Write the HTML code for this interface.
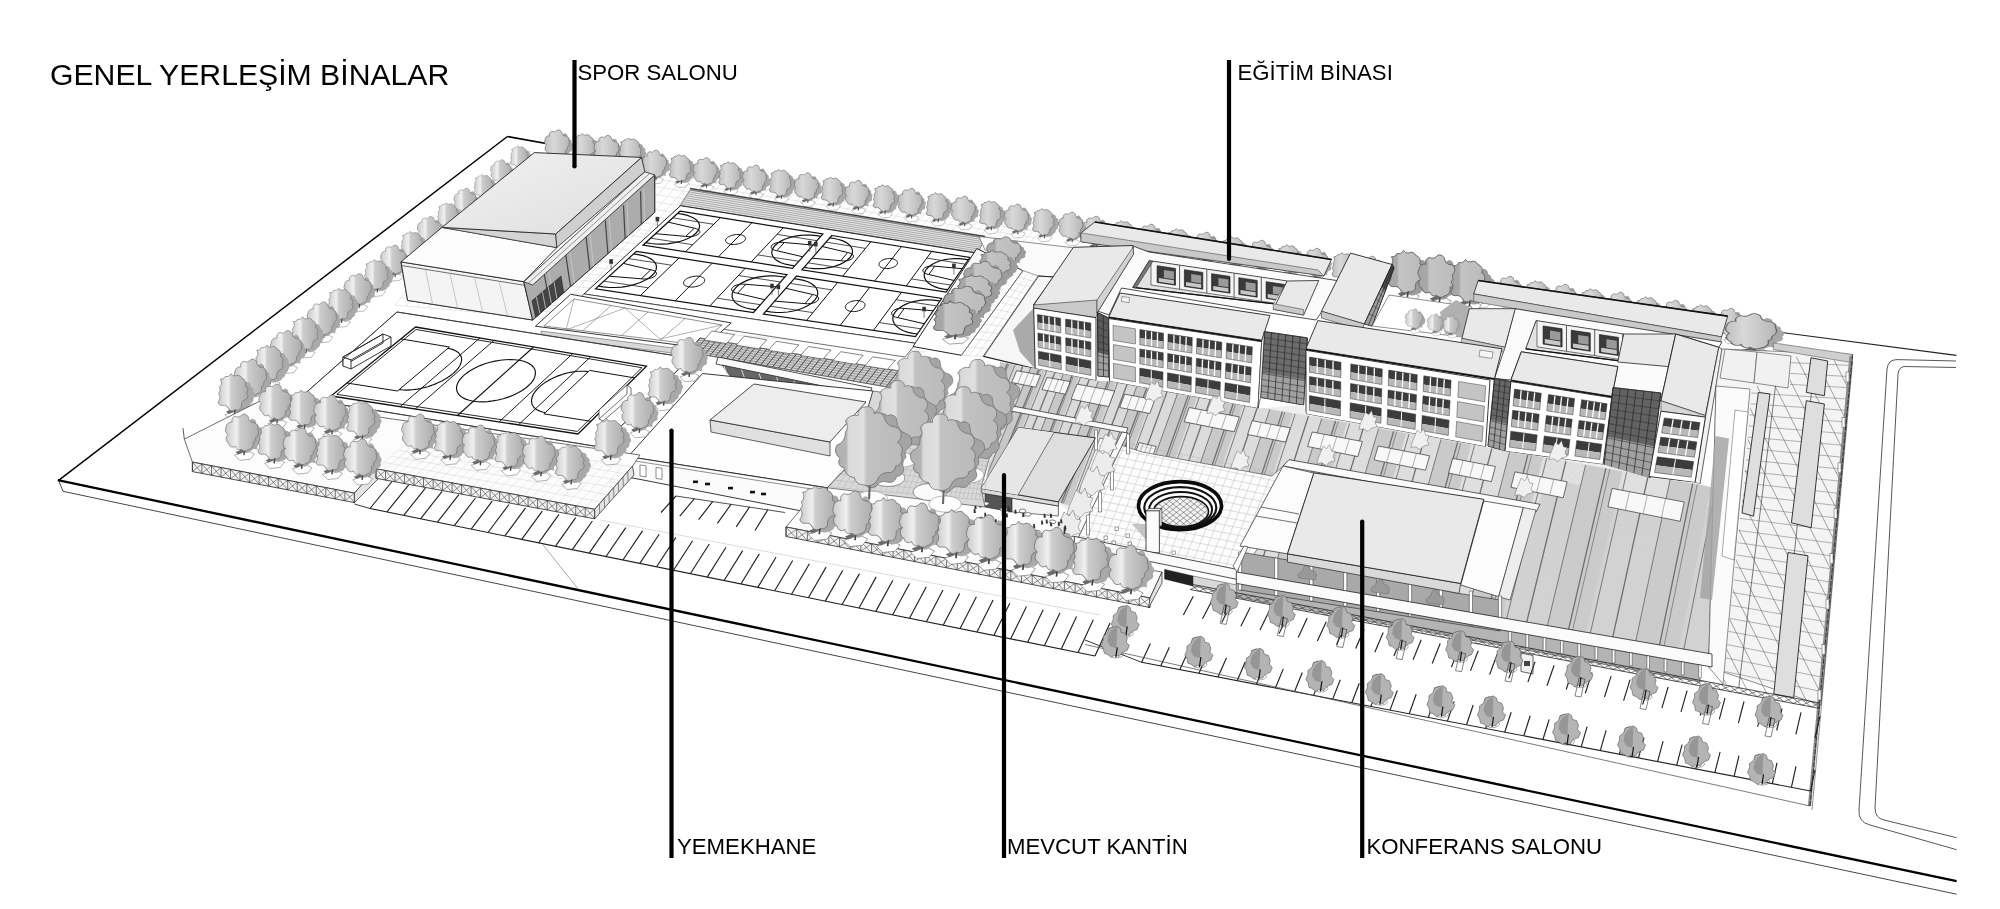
<!DOCTYPE html>
<html lang="tr"><head><meta charset="utf-8"><title>Genel Yerleşim Binalar</title>
<style>
html,body{margin:0;padding:0;background:#fff;}
body{width:2000px;height:909px;overflow:hidden;position:relative;font-family:"Liberation Sans",sans-serif;}
svg{position:absolute;left:0;top:0;display:block;will-change:transform}
svg text{font-family:"Liberation Sans",sans-serif;fill:#000}
</style></head><body>
<svg width="2000" height="909" viewBox="0 0 2000 909">

<defs>
<linearGradient id="tg" x1="0" x2="1" y1="0" y2="0">
<stop offset="0" stop-color="#cacaca"/><stop offset="0.34" stop-color="#f0f0f0"/><stop offset="0.44" stop-color="#cdcdcd"/><stop offset="1" stop-color="#adadad"/>
</linearGradient>
<linearGradient id="tg2" x1="0" x2="1" y1="0" y2="0">
<stop offset="0" stop-color="#a8a8a8"/><stop offset="0.4" stop-color="#d8d8d8"/><stop offset="0.5" stop-color="#b0b0b0"/><stop offset="1" stop-color="#909090"/>
</linearGradient>
<linearGradient id="tgd" x1="0" x2="1" y1="0" y2="0"><stop offset="0" stop-color="#c0c0c0"/><stop offset="0.35" stop-color="#d8d8d8"/><stop offset="0.6" stop-color="#cccccc"/><stop offset="1" stop-color="#b6b6b6"/></linearGradient>
<linearGradient id="tgm" x1="0" x2="1" y1="0" y2="0"><stop offset="0" stop-color="#a4a4a4"/><stop offset="0.24" stop-color="#a8a8a8"/><stop offset="0.3" stop-color="#c4c4c4"/><stop offset="1" stop-color="#bababa"/></linearGradient>
<linearGradient id="tgb" x1="0" x2="1" y1="0" y2="0"><stop offset="0" stop-color="#b0b0b0"/><stop offset="0.16" stop-color="#b4b4b4"/><stop offset="0.2" stop-color="#dadada"/><stop offset="0.42" stop-color="#e0e0e0"/><stop offset="0.47" stop-color="#c2c2c2"/><stop offset="1" stop-color="#bababa"/></linearGradient>
<linearGradient id="roofg" x1="0" x2="1" y1="0" y2="1">
<stop offset="0" stop-color="#f2f2f2"/><stop offset="1" stop-color="#dedede"/>
</linearGradient>
<g id="tree">
<path d="M-9,1 l5,5 l10,-1 l4,-5 l-6,-3 z" fill="#fff" stroke="#666" stroke-width="0.5"/>
<path d="M17.6,-15.2 A3.0,3.0 0 0 1 15.5,-10.6 A5.4,5.4 0 0 0 13.1,-4.3 A5.6,5.6 0 0 0 6.3,-2.8 A4.9,4.9 0 0 1 0.1,-2.0 A3.4,3.4 0 0 1 -3.8,-6.5 A5.4,5.4 0 0 0 -9.1,-10.7 A4.3,4.3 0 0 1 -9.8,-17.5 A3.6,3.6 0 0 1 -8.0,-22.3 A4.4,4.4 0 0 0 -8.2,-27.8 A3.4,3.4 0 0 1 -3.1,-28.8 A4.7,4.7 0 0 0 0.5,-33.5 A5.8,5.8 0 0 0 7.8,-34.1 A3.8,3.8 0 0 1 11.5,-29.1 A3.3,3.3 0 0 1 14.3,-26.1 A3.2,3.2 0 0 1 16.7,-21.9 A4.4,4.4 0 0 1 17.6,-15.2Z" fill="#a9a9a9"/>
<path d="M-8,-2 l6,-2.5 l2.5,2 l-6,2.8z" fill="#6a6a6a"/><path d="M0,1 L1,-7" stroke="#444" stroke-width="1.4"/>
<path d="M11.1,-15.7 A3.1,3.1 0 0 1 8.8,-11.5 A5.6,5.6 0 0 1 4.1,-4.2 A4.6,4.6 0 0 1 -2.4,-4.7 A3.7,3.7 0 0 1 -8.0,-7.6 A3.9,3.9 0 0 1 -14.4,-10.2 A5.2,5.2 0 0 1 -15.4,-18.7 A5.7,5.7 0 0 1 -17.1,-26.1 A4.9,4.9 0 0 1 -11.3,-30.7 A4.3,4.3 0 0 1 -8.6,-36.3 A6.0,6.0 0 0 0 -1.3,-38.2 A4.4,4.4 0 0 1 4.5,-34.2 A5.4,5.4 0 0 0 9.9,-30.3 A4.9,4.9 0 0 1 13.4,-24.2 A6.4,6.4 0 0 1 11.1,-15.7Z" fill="url(#tg)" stroke="#6a6a6a" stroke-width="0.6"/>
</g>
<g id="treeb">
<path d="M-9,1 l5,5 l10,-1 l4,-5 l-6,-3 z" fill="#fff" stroke="#666" stroke-width="0.5"/>
<path d="M18.1,-15.0 A4.9,4.9 0 0 1 15.1,-9.7 A4.2,4.2 0 0 1 12.2,-5.0 A4.6,4.6 0 0 1 7.5,-1.7 A5.5,5.5 0 0 1 -0.4,-2.4 A3.5,3.5 0 0 1 -5.9,-5.2 A5.0,5.0 0 0 1 -7.8,-11.9 A4.5,4.5 0 0 1 -11.3,-17.3 A6.9,6.9 0 0 0 -8.9,-25.6 A3.3,3.3 0 0 1 -5.3,-29.8 A2.6,2.6 0 0 1 -1.1,-30.9 A5.4,5.4 0 0 1 4.8,-34.7 A6.6,6.6 0 0 0 11.7,-30.0 A3.6,3.6 0 0 1 15.5,-25.8 A4.1,4.1 0 0 1 18.2,-20.5 A3.3,3.3 0 0 1 18.1,-15.0Z" fill="#a9a9a9"/>
<path d="M-8,-2 l6,-2.5 l2.5,2 l-6,2.8z" fill="#6a6a6a"/><path d="M0,1 L1,-7" stroke="#444" stroke-width="1.4"/>
<path d="M10.9,-13.6 A5.8,5.8 0 0 0 6.7,-7.7 A4.1,4.1 0 0 1 0.7,-3.8 A3.8,3.8 0 0 1 -5.2,-4.2 A5.9,5.9 0 0 0 -11.6,-7.8 A3.2,3.2 0 0 1 -15.4,-11.4 A6.2,6.2 0 0 0 -15.1,-19.1 A4.8,4.8 0 0 0 -14.3,-25.0 A6.2,6.2 0 0 0 -13.3,-32.8 A4.2,4.2 0 0 0 -8.8,-35.4 A4.8,4.8 0 0 0 -3.3,-38.0 A4.0,4.0 0 0 0 1.2,-35.9 A3.9,3.9 0 0 1 6.9,-33.9 A5.3,5.3 0 0 1 10.3,-26.6 A4.1,4.1 0 0 1 11.7,-19.9 A4.0,4.0 0 0 1 10.9,-13.6Z" fill="url(#tg)" stroke="#6a6a6a" stroke-width="0.6"/>
</g>
<g id="dtree">
<path d="M-9,1 l5,5 l10,-1 l4,-5 l-6,-3 z" fill="#fff" stroke="#666" stroke-width="0.5"/>
<path d="M17.6,-15.2 A3.0,3.0 0 0 1 15.5,-10.6 A5.4,5.4 0 0 0 13.1,-4.3 A5.6,5.6 0 0 0 6.3,-2.8 A4.9,4.9 0 0 1 0.1,-2.0 A3.4,3.4 0 0 1 -3.8,-6.5 A5.4,5.4 0 0 0 -9.1,-10.7 A4.3,4.3 0 0 1 -9.8,-17.5 A3.6,3.6 0 0 1 -8.0,-22.3 A4.4,4.4 0 0 0 -8.2,-27.8 A3.4,3.4 0 0 1 -3.1,-28.8 A4.7,4.7 0 0 0 0.5,-33.5 A5.8,5.8 0 0 0 7.8,-34.1 A3.8,3.8 0 0 1 11.5,-29.1 A3.3,3.3 0 0 1 14.3,-26.1 A3.2,3.2 0 0 1 16.7,-21.9 A4.4,4.4 0 0 1 17.6,-15.2Z" fill="#a8a8a8"/>
<path d="M-8,-2 l6,-2.5 l2.5,2 l-6,2.8z" fill="#6a6a6a"/><path d="M0,1 L1,-7" stroke="#444" stroke-width="1.4"/>
<path d="M11.1,-15.7 A3.1,3.1 0 0 1 8.8,-11.5 A5.6,5.6 0 0 1 4.1,-4.2 A4.6,4.6 0 0 1 -2.4,-4.7 A3.7,3.7 0 0 1 -8.0,-7.6 A3.9,3.9 0 0 1 -14.4,-10.2 A5.2,5.2 0 0 1 -15.4,-18.7 A5.7,5.7 0 0 1 -17.1,-26.1 A4.9,4.9 0 0 1 -11.3,-30.7 A4.3,4.3 0 0 1 -8.6,-36.3 A6.0,6.0 0 0 0 -1.3,-38.2 A4.4,4.4 0 0 1 4.5,-34.2 A5.4,5.4 0 0 0 9.9,-30.3 A4.9,4.9 0 0 1 13.4,-24.2 A6.4,6.4 0 0 1 11.1,-15.7Z" fill="url(#tgd)" stroke="#666" stroke-width="0.8"/>
</g>
<g id="dtreeb">
<path d="M-9,1 l5,5 l10,-1 l4,-5 l-6,-3 z" fill="#fff" stroke="#666" stroke-width="0.5"/>
<path d="M18.1,-15.0 A4.9,4.9 0 0 1 15.1,-9.7 A4.2,4.2 0 0 1 12.2,-5.0 A4.6,4.6 0 0 1 7.5,-1.7 A5.5,5.5 0 0 1 -0.4,-2.4 A3.5,3.5 0 0 1 -5.9,-5.2 A5.0,5.0 0 0 1 -7.8,-11.9 A4.5,4.5 0 0 1 -11.3,-17.3 A6.9,6.9 0 0 0 -8.9,-25.6 A3.3,3.3 0 0 1 -5.3,-29.8 A2.6,2.6 0 0 1 -1.1,-30.9 A5.4,5.4 0 0 1 4.8,-34.7 A6.6,6.6 0 0 0 11.7,-30.0 A3.6,3.6 0 0 1 15.5,-25.8 A4.1,4.1 0 0 1 18.2,-20.5 A3.3,3.3 0 0 1 18.1,-15.0Z" fill="#a8a8a8"/>
<path d="M-8,-2 l6,-2.5 l2.5,2 l-6,2.8z" fill="#6a6a6a"/><path d="M0,1 L1,-7" stroke="#444" stroke-width="1.4"/>
<path d="M10.9,-13.6 A5.8,5.8 0 0 0 6.7,-7.7 A4.1,4.1 0 0 1 0.7,-3.8 A3.8,3.8 0 0 1 -5.2,-4.2 A5.9,5.9 0 0 0 -11.6,-7.8 A3.2,3.2 0 0 1 -15.4,-11.4 A6.2,6.2 0 0 0 -15.1,-19.1 A4.8,4.8 0 0 0 -14.3,-25.0 A6.2,6.2 0 0 0 -13.3,-32.8 A4.2,4.2 0 0 0 -8.8,-35.4 A4.8,4.8 0 0 0 -3.3,-38.0 A4.0,4.0 0 0 0 1.2,-35.9 A3.9,3.9 0 0 1 6.9,-33.9 A5.3,5.3 0 0 1 10.3,-26.6 A4.1,4.1 0 0 1 11.7,-19.9 A4.0,4.0 0 0 1 10.9,-13.6Z" fill="url(#tgd)" stroke="#666" stroke-width="0.8"/>
</g>
<g id="mtree">
<path d="M-9,1 l5,5 l10,-1 l4,-5 l-6,-3 z" fill="#fff" stroke="#666" stroke-width="0.5"/>
<path d="M17.6,-15.2 A3.0,3.0 0 0 1 15.5,-10.6 A5.4,5.4 0 0 0 13.1,-4.3 A5.6,5.6 0 0 0 6.3,-2.8 A4.9,4.9 0 0 1 0.1,-2.0 A3.4,3.4 0 0 1 -3.8,-6.5 A5.4,5.4 0 0 0 -9.1,-10.7 A4.3,4.3 0 0 1 -9.8,-17.5 A3.6,3.6 0 0 1 -8.0,-22.3 A4.4,4.4 0 0 0 -8.2,-27.8 A3.4,3.4 0 0 1 -3.1,-28.8 A4.7,4.7 0 0 0 0.5,-33.5 A5.8,5.8 0 0 0 7.8,-34.1 A3.8,3.8 0 0 1 11.5,-29.1 A3.3,3.3 0 0 1 14.3,-26.1 A3.2,3.2 0 0 1 16.7,-21.9 A4.4,4.4 0 0 1 17.6,-15.2Z" fill="#9c9c9c"/>
<path d="M-8,-2 l6,-2.5 l2.5,2 l-6,2.8z" fill="#6a6a6a"/><path d="M0,1 L1,-7" stroke="#444" stroke-width="1.4"/>
<path d="M11.1,-15.7 A3.1,3.1 0 0 1 8.8,-11.5 A5.6,5.6 0 0 1 4.1,-4.2 A4.6,4.6 0 0 1 -2.4,-4.7 A3.7,3.7 0 0 1 -8.0,-7.6 A3.9,3.9 0 0 1 -14.4,-10.2 A5.2,5.2 0 0 1 -15.4,-18.7 A5.7,5.7 0 0 1 -17.1,-26.1 A4.9,4.9 0 0 1 -11.3,-30.7 A4.3,4.3 0 0 1 -8.6,-36.3 A6.0,6.0 0 0 0 -1.3,-38.2 A4.4,4.4 0 0 1 4.5,-34.2 A5.4,5.4 0 0 0 9.9,-30.3 A4.9,4.9 0 0 1 13.4,-24.2 A6.4,6.4 0 0 1 11.1,-15.7Z" fill="url(#tgm)" stroke="#666" stroke-width="0.8"/>
</g>
<g id="mtreeb">
<path d="M-9,1 l5,5 l10,-1 l4,-5 l-6,-3 z" fill="#fff" stroke="#666" stroke-width="0.5"/>
<path d="M18.1,-15.0 A4.9,4.9 0 0 1 15.1,-9.7 A4.2,4.2 0 0 1 12.2,-5.0 A4.6,4.6 0 0 1 7.5,-1.7 A5.5,5.5 0 0 1 -0.4,-2.4 A3.5,3.5 0 0 1 -5.9,-5.2 A5.0,5.0 0 0 1 -7.8,-11.9 A4.5,4.5 0 0 1 -11.3,-17.3 A6.9,6.9 0 0 0 -8.9,-25.6 A3.3,3.3 0 0 1 -5.3,-29.8 A2.6,2.6 0 0 1 -1.1,-30.9 A5.4,5.4 0 0 1 4.8,-34.7 A6.6,6.6 0 0 0 11.7,-30.0 A3.6,3.6 0 0 1 15.5,-25.8 A4.1,4.1 0 0 1 18.2,-20.5 A3.3,3.3 0 0 1 18.1,-15.0Z" fill="#9c9c9c"/>
<path d="M-8,-2 l6,-2.5 l2.5,2 l-6,2.8z" fill="#6a6a6a"/><path d="M0,1 L1,-7" stroke="#444" stroke-width="1.4"/>
<path d="M10.9,-13.6 A5.8,5.8 0 0 0 6.7,-7.7 A4.1,4.1 0 0 1 0.7,-3.8 A3.8,3.8 0 0 1 -5.2,-4.2 A5.9,5.9 0 0 0 -11.6,-7.8 A3.2,3.2 0 0 1 -15.4,-11.4 A6.2,6.2 0 0 0 -15.1,-19.1 A4.8,4.8 0 0 0 -14.3,-25.0 A6.2,6.2 0 0 0 -13.3,-32.8 A4.2,4.2 0 0 0 -8.8,-35.4 A4.8,4.8 0 0 0 -3.3,-38.0 A4.0,4.0 0 0 0 1.2,-35.9 A3.9,3.9 0 0 1 6.9,-33.9 A5.3,5.3 0 0 1 10.3,-26.6 A4.1,4.1 0 0 1 11.7,-19.9 A4.0,4.0 0 0 1 10.9,-13.6Z" fill="url(#tgm)" stroke="#666" stroke-width="0.8"/>
</g>
<g id="bigtree">
<ellipse cx="2" cy="2" rx="16" ry="8" fill="#fff" stroke="#777" stroke-width="0.5"/>
<path d="M35.4,-38.4 A9.3,9.3 0 0 0 33.2,-27.0 A7.1,7.1 0 0 1 26.3,-19.9 A6.6,6.6 0 0 1 17.3,-14.7 A8.9,8.9 0 0 0 6.8,-10.7 A7.8,7.8 0 0 1 -5.2,-14.2 A8.6,8.6 0 0 1 -15.0,-23.1 A5.5,5.5 0 0 1 -18.3,-31.6 A9.0,9.0 0 0 0 -14.4,-42.2 A6.0,6.0 0 0 1 -15.0,-50.8 A9.9,9.9 0 0 1 -9.2,-64.1 A6.3,6.3 0 0 1 -2.8,-69.2 A5.9,5.9 0 0 1 5.8,-74.8 A6.9,6.9 0 0 1 17.4,-77.8 A6.0,6.0 0 0 1 26.6,-72.3 A11.9,11.9 0 0 0 35.8,-60.6 A7.7,7.7 0 0 1 36.8,-46.7 A6.7,6.7 0 0 0 35.4,-38.4Z" fill="#a4a4a4" stroke="#666" stroke-width="0.6"/>
<path d="M0,2 L1,-16" stroke="#666" stroke-width="2"/>
<path d="M30.4,-40.4 A6.9,6.9 0 0 1 25.4,-29.8 A6.4,6.4 0 0 1 18.1,-23.6 A9.8,9.8 0 0 0 8.0,-16.7 A9.9,9.9 0 0 1 -5.1,-12.0 A8.0,8.0 0 0 1 -13.9,-18.9 A10.7,10.7 0 0 1 -24.0,-28.3 A5.4,5.4 0 0 1 -27.5,-37.3 A8.8,8.8 0 0 1 -30.7,-49.6 A12.0,12.0 0 0 0 -22.5,-62.1 A8.3,8.3 0 0 0 -22.5,-72.6 A10.4,10.4 0 0 1 -10.4,-77.9 A7.3,7.3 0 0 1 -2.5,-86.3 A6.1,6.1 0 0 1 4.9,-79.6 A6.3,6.3 0 0 1 14.7,-75.5 A11.0,11.0 0 0 0 25.4,-67.0 A8.2,8.2 0 0 1 27.2,-52.6 A8.6,8.6 0 0 1 30.4,-40.4Z" fill="url(#tgb)" stroke="#6a6a6a" stroke-width="0.7"/>
</g>
<g id="stree">
<ellipse cx="0" cy="0" rx="7" ry="3.6" fill="none" stroke="#555" stroke-width="0.5"/>
<path d="M-9,-10 l-3,-6 l3,-4 l1,-6 l5,-2 l3,3 l-1,14 l-3,6 z" fill="#9a9a9a"/>
<path d="M1,-28 l3,2 l1,4 l4,1 l2,5 l-1,4 l3,3 l-2,5 l-5,2 l-3,4 l-5,-1 l-3,2 l-4,-3 l-3,-1 l-1,-5 l-2,-3 l2,-5 l0,-4 l4,-3 l2,-5 l4,-1 z" fill="#b4b4b4" stroke="#5a5a5a" stroke-width="0.6"/>
<path d="M1,-28 l-1,22 l-6,-2 l-3,-5 l1,-6 l3,-5 z" fill="#969696"/>
<path d="M-0.5,3 L1,-7" stroke="#111" stroke-width="1.2"/>
</g>
<pattern id="hx" width="7" height="7" patternUnits="userSpaceOnUse" patternTransform="rotate(10)">
<path d="M0,0 L7,0 M0,0 L0,7" stroke="#999" stroke-width="0.4" fill="none"/>
</pattern>
</defs>
<polygon points="58.6,480.3 507.4,136.5 1040.0,222.0 1773.0,331.0 1956.0,355.0 1956.0,894.0 63.0,491.3" fill="#fff" stroke="none" stroke-width="0.8" />
<line x1="63.0" y1="491.3" x2="1956.6" y2="894.2" stroke="#333" stroke-width="0.9" />
<line x1="58.6" y1="480.3" x2="63.0" y2="491.3" stroke="#333" stroke-width="0.9" />
<line x1="507.4" y1="136.5" x2="58.6" y2="480.3" stroke="#000" stroke-width="1.5" />
<line x1="57.8" y1="480.1" x2="1956.6" y2="881.2" stroke="#000" stroke-width="2.3" />
<polyline points="507.4,136.5 560.0,146.0" fill="none" stroke="#000" stroke-width="1.6" />
<line x1="1773.3" y1="331.4" x2="1956.4" y2="355.4" stroke="#222" stroke-width="1.2" />
<path d="M1956,361 L1897,359.6 Q1888,359.6 1887,369 L1859,810 Q1858,822 1870,825 L1956.6,849.7" fill="none" stroke="#444" stroke-width="0.9"/>
<path d="M1956,367.5 L1905,366.5 Q1899,366.5 1898,374 L1875,808 Q1875,818 1884,820 L1956.6,837.7" fill="none" stroke="#444" stroke-width="0.9"/>
<line x1="520.0" y1="150.0" x2="395.0" y2="305.0" stroke="#c4c4c4" stroke-width="0.4" />
<line x1="531.0" y1="151.7" x2="406.1" y2="306.0" stroke="#c4c4c4" stroke-width="0.4" />
<line x1="541.9" y1="153.5" x2="417.1" y2="307.0" stroke="#c4c4c4" stroke-width="0.4" />
<line x1="552.7" y1="155.2" x2="428.1" y2="307.9" stroke="#c4c4c4" stroke-width="0.4" />
<line x1="563.4" y1="156.8" x2="438.9" y2="308.9" stroke="#c4c4c4" stroke-width="0.4" />
<line x1="574.0" y1="158.5" x2="449.7" y2="309.8" stroke="#c4c4c4" stroke-width="0.4" />
<line x1="584.6" y1="160.2" x2="460.3" y2="310.8" stroke="#c4c4c4" stroke-width="0.4" />
<line x1="595.0" y1="161.8" x2="470.9" y2="311.7" stroke="#c4c4c4" stroke-width="0.4" />
<line x1="605.3" y1="163.5" x2="481.3" y2="312.7" stroke="#c4c4c4" stroke-width="0.4" />
<line x1="615.5" y1="165.1" x2="491.7" y2="313.6" stroke="#c4c4c4" stroke-width="0.4" />
<line x1="625.7" y1="166.7" x2="502.0" y2="314.5" stroke="#c4c4c4" stroke-width="0.4" />
<line x1="635.8" y1="168.3" x2="512.2" y2="315.4" stroke="#c4c4c4" stroke-width="0.4" />
<line x1="645.7" y1="169.8" x2="522.3" y2="316.3" stroke="#c4c4c4" stroke-width="0.4" />
<line x1="655.6" y1="171.4" x2="532.4" y2="317.2" stroke="#c4c4c4" stroke-width="0.4" />
<line x1="665.4" y1="172.9" x2="542.3" y2="318.1" stroke="#c4c4c4" stroke-width="0.4" />
<line x1="675.1" y1="174.5" x2="552.2" y2="318.9" stroke="#c4c4c4" stroke-width="0.4" />
<line x1="684.8" y1="176.0" x2="562.0" y2="319.8" stroke="#c4c4c4" stroke-width="0.4" />
<line x1="694.3" y1="177.5" x2="571.7" y2="320.7" stroke="#c4c4c4" stroke-width="0.4" />
<line x1="703.8" y1="179.0" x2="581.3" y2="321.5" stroke="#c4c4c4" stroke-width="0.4" />
<line x1="713.2" y1="180.5" x2="590.9" y2="322.4" stroke="#c4c4c4" stroke-width="0.4" />
<line x1="722.5" y1="181.9" x2="600.3" y2="323.2" stroke="#c4c4c4" stroke-width="0.4" />
<line x1="731.7" y1="183.4" x2="609.7" y2="324.0" stroke="#c4c4c4" stroke-width="0.4" />
<line x1="740.9" y1="184.8" x2="619.0" y2="324.9" stroke="#c4c4c4" stroke-width="0.4" />
<line x1="750.0" y1="186.3" x2="628.3" y2="325.7" stroke="#c4c4c4" stroke-width="0.4" />
<line x1="759.0" y1="187.7" x2="637.5" y2="326.5" stroke="#c4c4c4" stroke-width="0.4" />
<line x1="767.9" y1="189.1" x2="646.6" y2="327.3" stroke="#c4c4c4" stroke-width="0.4" />
<line x1="776.8" y1="190.5" x2="655.6" y2="328.1" stroke="#c4c4c4" stroke-width="0.4" />
<line x1="785.6" y1="191.9" x2="664.5" y2="328.9" stroke="#c4c4c4" stroke-width="0.4" />
<line x1="794.3" y1="193.3" x2="673.4" y2="329.7" stroke="#c4c4c4" stroke-width="0.4" />
<line x1="802.9" y1="194.6" x2="682.2" y2="330.5" stroke="#c4c4c4" stroke-width="0.4" />
<line x1="811.5" y1="196.0" x2="691.0" y2="331.2" stroke="#c4c4c4" stroke-width="0.4" />
<line x1="820.0" y1="197.3" x2="699.7" y2="332.0" stroke="#c4c4c4" stroke-width="0.4" />
<line x1="828.4" y1="198.6" x2="708.3" y2="332.8" stroke="#c4c4c4" stroke-width="0.4" />
<line x1="836.8" y1="200.0" x2="716.8" y2="333.5" stroke="#c4c4c4" stroke-width="0.4" />
<line x1="845.1" y1="201.3" x2="725.3" y2="334.3" stroke="#c4c4c4" stroke-width="0.4" />
<line x1="853.3" y1="202.6" x2="733.7" y2="335.0" stroke="#c4c4c4" stroke-width="0.4" />
<line x1="861.5" y1="203.9" x2="742.1" y2="335.8" stroke="#c4c4c4" stroke-width="0.4" />
<line x1="869.6" y1="205.1" x2="750.4" y2="336.5" stroke="#c4c4c4" stroke-width="0.4" />
<line x1="877.7" y1="206.4" x2="758.6" y2="337.2" stroke="#c4c4c4" stroke-width="0.4" />
<line x1="885.7" y1="207.7" x2="766.7" y2="338.0" stroke="#c4c4c4" stroke-width="0.4" />
<line x1="893.6" y1="208.9" x2="774.8" y2="338.7" stroke="#c4c4c4" stroke-width="0.4" />
<line x1="901.4" y1="210.1" x2="782.9" y2="339.4" stroke="#c4c4c4" stroke-width="0.4" />
<line x1="909.2" y1="211.4" x2="790.9" y2="340.1" stroke="#c4c4c4" stroke-width="0.4" />
<line x1="917.0" y1="212.6" x2="798.8" y2="340.8" stroke="#c4c4c4" stroke-width="0.4" />
<line x1="924.6" y1="213.8" x2="806.6" y2="341.5" stroke="#c4c4c4" stroke-width="0.4" />
<line x1="932.3" y1="215.0" x2="814.5" y2="342.2" stroke="#c4c4c4" stroke-width="0.4" />
<line x1="939.8" y1="216.2" x2="822.2" y2="342.9" stroke="#c4c4c4" stroke-width="0.4" />
<line x1="947.3" y1="217.4" x2="829.9" y2="343.6" stroke="#c4c4c4" stroke-width="0.4" />
<line x1="954.8" y1="218.6" x2="837.5" y2="344.2" stroke="#c4c4c4" stroke-width="0.4" />
<line x1="962.2" y1="219.7" x2="845.1" y2="344.9" stroke="#c4c4c4" stroke-width="0.4" />
<line x1="969.5" y1="220.9" x2="852.6" y2="345.6" stroke="#c4c4c4" stroke-width="0.4" />
<line x1="976.8" y1="222.0" x2="860.1" y2="346.2" stroke="#c4c4c4" stroke-width="0.4" />
<line x1="984.0" y1="223.2" x2="867.5" y2="346.9" stroke="#c4c4c4" stroke-width="0.4" />
<line x1="991.2" y1="224.3" x2="874.9" y2="347.6" stroke="#c4c4c4" stroke-width="0.4" />
<line x1="998.3" y1="225.4" x2="882.2" y2="348.2" stroke="#c4c4c4" stroke-width="0.4" />
<line x1="1005.4" y1="226.5" x2="889.5" y2="348.8" stroke="#c4c4c4" stroke-width="0.4" />
<line x1="1012.4" y1="227.7" x2="896.7" y2="349.5" stroke="#c4c4c4" stroke-width="0.4" />
<line x1="1019.4" y1="228.8" x2="903.8" y2="350.1" stroke="#c4c4c4" stroke-width="0.4" />
<line x1="1026.3" y1="229.8" x2="910.9" y2="350.8" stroke="#c4c4c4" stroke-width="0.4" />
<line x1="1033.2" y1="230.9" x2="918.0" y2="351.4" stroke="#c4c4c4" stroke-width="0.4" />
<line x1="1040.0" y1="232.0" x2="925.0" y2="352.0" stroke="#c4c4c4" stroke-width="0.4" />
<line x1="520.0" y1="150.0" x2="1040.0" y2="232.0" stroke="#c4c4c4" stroke-width="0.4" />
<line x1="514.1" y1="157.3" x2="1034.6" y2="237.6" stroke="#c4c4c4" stroke-width="0.4" />
<line x1="508.2" y1="164.6" x2="1029.2" y2="243.2" stroke="#c4c4c4" stroke-width="0.4" />
<line x1="502.4" y1="171.9" x2="1023.9" y2="248.8" stroke="#c4c4c4" stroke-width="0.4" />
<line x1="496.5" y1="179.1" x2="1018.5" y2="254.4" stroke="#c4c4c4" stroke-width="0.4" />
<line x1="490.7" y1="186.3" x2="1013.2" y2="259.9" stroke="#c4c4c4" stroke-width="0.4" />
<line x1="484.9" y1="193.5" x2="1007.9" y2="265.5" stroke="#c4c4c4" stroke-width="0.4" />
<line x1="479.1" y1="200.7" x2="1002.6" y2="271.0" stroke="#c4c4c4" stroke-width="0.4" />
<line x1="473.4" y1="207.8" x2="997.3" y2="276.5" stroke="#c4c4c4" stroke-width="0.4" />
<line x1="467.6" y1="214.9" x2="992.1" y2="282.0" stroke="#c4c4c4" stroke-width="0.4" />
<line x1="461.9" y1="222.0" x2="986.8" y2="287.5" stroke="#c4c4c4" stroke-width="0.4" />
<line x1="456.2" y1="229.1" x2="981.6" y2="292.9" stroke="#c4c4c4" stroke-width="0.4" />
<line x1="450.6" y1="236.1" x2="976.4" y2="298.4" stroke="#c4c4c4" stroke-width="0.4" />
<line x1="444.9" y1="243.1" x2="971.2" y2="303.8" stroke="#c4c4c4" stroke-width="0.4" />
<line x1="439.3" y1="250.1" x2="966.0" y2="309.2" stroke="#c4c4c4" stroke-width="0.4" />
<line x1="433.7" y1="257.0" x2="960.8" y2="314.6" stroke="#c4c4c4" stroke-width="0.4" />
<line x1="428.1" y1="263.9" x2="955.6" y2="320.0" stroke="#c4c4c4" stroke-width="0.4" />
<line x1="422.5" y1="270.9" x2="950.5" y2="325.4" stroke="#c4c4c4" stroke-width="0.4" />
<line x1="417.0" y1="277.7" x2="945.4" y2="330.7" stroke="#c4c4c4" stroke-width="0.4" />
<line x1="411.5" y1="284.6" x2="940.3" y2="336.1" stroke="#c4c4c4" stroke-width="0.4" />
<line x1="406.0" y1="291.4" x2="935.2" y2="341.4" stroke="#c4c4c4" stroke-width="0.4" />
<line x1="400.5" y1="298.2" x2="930.1" y2="346.7" stroke="#c4c4c4" stroke-width="0.4" />
<line x1="395.0" y1="305.0" x2="925.0" y2="352.0" stroke="#c4c4c4" stroke-width="0.4" />
<use href="#dtree" transform="translate(1096.1,247.0) scale(0.80)"/>
<use href="#dtreeb" transform="translate(1123.7,251.0) scale(0.80)"/>
<use href="#dtree" transform="translate(1151.3,255.0) scale(0.80)"/>
<use href="#dtreeb" transform="translate(1178.9,259.0) scale(0.80)"/>
<use href="#dtree" transform="translate(1206.5,263.0) scale(0.80)"/>
<use href="#dtreeb" transform="translate(1234.1,267.0) scale(0.80)"/>
<use href="#dtree" transform="translate(1261.7,271.0) scale(0.80)"/>
<use href="#dtreeb" transform="translate(1289.3,275.0) scale(0.80)"/>
<use href="#dtree" transform="translate(1316.9,279.0) scale(0.80)"/>
<use href="#dtreeb" transform="translate(1344.5,283.0) scale(0.80)"/>
<use href="#dtree" transform="translate(1372.1,287.0) scale(0.80)"/>
<use href="#dtreeb" transform="translate(1482.5,303.0) scale(0.80)"/>
<use href="#dtree" transform="translate(1510.1,307.0) scale(0.80)"/>
<use href="#dtreeb" transform="translate(1537.7,311.0) scale(0.80)"/>
<use href="#dtree" transform="translate(1565.3,315.0) scale(0.80)"/>
<use href="#dtreeb" transform="translate(1592.9,319.0) scale(0.80)"/>
<use href="#dtree" transform="translate(1620.5,323.0) scale(0.80)"/>
<use href="#dtreeb" transform="translate(1648.1,327.0) scale(0.80)"/>
<use href="#dtree" transform="translate(1675.7,331.0) scale(0.80)"/>
<use href="#dtreeb" transform="translate(1703.3,335.0) scale(0.80)"/>
<use href="#dtree" transform="translate(1730.9,339.0) scale(0.80)"/>
<use href="#mtreeb" transform="translate(1407.4,296.0) scale(1.20)"/>
<use href="#mtree" transform="translate(1439.4,301.0) scale(1.20)"/>
<use href="#mtreeb" transform="translate(1469.4,305.0) scale(1.20)"/>
<g transform="translate(1754,352) scale(1.6,1.0)"><use href="#dtree"/></g>
<use href="#dtree" transform="translate(558.4,159.8) scale(0.78)"/>
<use href="#dtreeb" transform="translate(584.8,163.1) scale(0.78)"/>
<use href="#dtree" transform="translate(607.9,165.3) scale(0.78)"/>
<use href="#dtreeb" transform="translate(631.0,167.5) scale(0.78)"/>
<use href="#dtree" transform="translate(655.9,179.4) scale(0.76)"/>
<use href="#dtreeb" transform="translate(681.2,183.2) scale(0.76)"/>
<use href="#dtree" transform="translate(706.5,186.9) scale(0.76)"/>
<use href="#dtreeb" transform="translate(730.5,190.5) scale(0.76)"/>
<use href="#dtree" transform="translate(755.9,194.3) scale(0.76)"/>
<use href="#dtreeb" transform="translate(781.2,198.1) scale(0.76)"/>
<use href="#dtree" transform="translate(807.7,202.0) scale(0.76)"/>
<use href="#dtreeb" transform="translate(833.0,205.8) scale(0.76)"/>
<use href="#dtree" transform="translate(858.3,209.6) scale(0.76)"/>
<use href="#dtreeb" transform="translate(884.9,213.5) scale(0.76)"/>
<use href="#dtree" transform="translate(911.5,217.5) scale(0.76)"/>
<use href="#dtreeb" transform="translate(938.0,221.4) scale(0.76)"/>
<use href="#dtree" transform="translate(964.6,225.4) scale(0.76)"/>
<use href="#dtreeb" transform="translate(991.2,229.4) scale(0.76)"/>
<use href="#dtree" transform="translate(1017.7,233.3) scale(0.76)"/>
<use href="#dtreeb" transform="translate(1044.3,237.3) scale(0.76)"/>
<use href="#dtree" transform="translate(1072.1,241.4) scale(0.76)"/>
<use href="#treeb" transform="translate(519.9,169.4) scale(0.62)"/>
<use href="#tree" transform="translate(502.1,184.7) scale(0.65)"/>
<use href="#treeb" transform="translate(484.2,199.9) scale(0.67)"/>
<use href="#tree" transform="translate(466.4,215.2) scale(0.70)"/>
<use href="#treeb" transform="translate(448.6,230.4) scale(0.73)"/>
<use href="#tree" transform="translate(430.7,245.7) scale(0.76)"/>
<use href="#treeb" transform="translate(412.9,261.0) scale(0.78)"/>
<use href="#tree" transform="translate(395.0,276.2) scale(0.81)"/>
<use href="#treeb" transform="translate(377.2,291.5) scale(0.84)"/>
<use href="#tree" transform="translate(359.3,306.7) scale(0.86)"/>
<use href="#treeb" transform="translate(341.5,322.0) scale(0.89)"/>
<use href="#tree" transform="translate(323.6,337.3) scale(0.92)"/>
<use href="#treeb" transform="translate(305.8,352.5) scale(0.94)"/>
<use href="#tree" transform="translate(287.9,367.8) scale(0.97)"/>
<use href="#treeb" transform="translate(270.1,383.0) scale(1.00)"/>
<use href="#tree" transform="translate(252.3,398.3) scale(1.02)"/>
<use href="#treeb" transform="translate(234.4,413.6) scale(1.05)"/>
<polygon points="690.0,190.0 985.0,238.0 978.0,253.0 680.0,205.5" fill="#e6e6e6" stroke="#444" stroke-width="0.6" />
<line x1="690.0" y1="190.0" x2="985.0" y2="238.0" stroke="#777" stroke-width="0.55" />
<line x1="688.8" y1="191.9" x2="984.1" y2="239.9" stroke="#777" stroke-width="0.55" />
<line x1="687.5" y1="193.8" x2="983.3" y2="241.7" stroke="#777" stroke-width="0.55" />
<line x1="686.3" y1="195.8" x2="982.4" y2="243.6" stroke="#777" stroke-width="0.55" />
<line x1="685.0" y1="197.7" x2="981.5" y2="245.5" stroke="#777" stroke-width="0.55" />
<line x1="683.8" y1="199.7" x2="980.6" y2="247.3" stroke="#777" stroke-width="0.55" />
<line x1="682.5" y1="201.6" x2="979.8" y2="249.2" stroke="#777" stroke-width="0.55" />
<line x1="681.3" y1="203.5" x2="978.9" y2="251.1" stroke="#777" stroke-width="0.55" />
<line x1="680.0" y1="205.5" x2="978.0" y2="253.0" stroke="#777" stroke-width="0.55" />
<line x1="690.0" y1="188.5" x2="985.0" y2="236.5" stroke="#444" stroke-width="1.6" />
<polygon points="680.6,205.7 977.6,253.3 916.2,343.4 584.0,294.0" fill="#fff" stroke="#222" stroke-width="1.0" />
<polygon points="680.0,211.2 822.9,234.0 792.5,268.4 643.0,245.2" fill="none" stroke="#111" stroke-width="1.2" />
<line x1="720.5" y1="217.7" x2="685.4" y2="251.8" stroke="#111" stroke-width="1.0" />
<line x1="752.0" y1="222.7" x2="718.4" y2="256.9" stroke="#111" stroke-width="1.0" />
<line x1="783.3" y1="227.7" x2="751.1" y2="262.0" stroke="#111" stroke-width="1.0" />
<polyline points="744.3,240.9 743.6,241.5 742.8,242.0 741.9,242.6 740.8,243.1 739.6,243.5 738.4,243.8 737.2,244.1 735.9,244.3 734.6,244.4 733.3,244.5 732.0,244.4 730.8,244.3 729.7,244.1 728.7,243.8 727.8,243.4 727.0,242.9 726.4,242.4 726.0,241.9 725.7,241.3 725.6,240.7 725.6,240.0 725.8,239.4 726.2,238.7 726.8,238.1 727.5,237.5 728.3,236.9 729.3,236.4 730.3,235.9 731.5,235.5 732.7,235.1 734.0,234.9 735.2,234.7 736.5,234.6 737.8,234.5 739.0,234.6 740.2,234.7 741.3,234.9 742.3,235.2 743.2,235.6 744.0,236.0 744.6,236.5 745.0,237.1 745.3,237.7 745.5,238.3 745.4,238.9 745.2,239.6 744.8,240.2 744.3,240.9" fill="none" stroke="#111" stroke-width="1.0" />
<polyline points="677.5,213.5 681.9,214.2 686.7,215.2 690.9,216.7 694.4,218.4 697.0,220.5 698.8,222.8 699.6,225.4 699.3,228.0 698.1,230.6 695.9,233.2 692.8,235.7 688.9,238.0 684.3,240.0 679.0,241.7 673.4,242.9 667.5,243.8 661.6,244.1 655.8,244.0 650.3,243.5 645.7,242.7" fill="none" stroke="#111" stroke-width="1.2" />
<polyline points="668.1,222.1 694.3,228.2 685.7,236.4 655.6,233.7" fill="none" stroke="#111" stroke-width="1.0" />
<polyline points="694.3,228.2 694.3,228.2 696.4,228.7 698.1,229.5 699.3,230.4 699.8,231.5 699.7,232.6 698.9,233.7 697.5,234.7 695.6,235.6 693.3,236.2 690.8,236.6 688.2,236.6 685.7,236.4 685.7,236.4" fill="none" stroke="#111" stroke-width="1.0" />
<line x1="672.8" y1="217.8" x2="713.7" y2="224.3" stroke="#222" stroke-width="0.8" />
<line x1="650.7" y1="238.2" x2="692.6" y2="244.7" stroke="#222" stroke-width="0.8" />
<polyline points="820.8,236.4 816.6,235.7 811.5,235.1 806.1,235.0 800.7,235.4 795.3,236.1 790.2,237.4 785.4,239.0 781.2,240.9 777.6,243.2 774.8,245.7 772.9,248.3 771.9,251.0 771.8,253.7 772.8,256.3 774.7,258.7 777.5,260.9 781.1,262.7 785.4,264.2 790.3,265.2 794.7,265.9" fill="none" stroke="#111" stroke-width="1.2" />
<polyline points="813.1,245.1 784.4,242.5 776.8,250.7 802.8,256.8" fill="none" stroke="#111" stroke-width="1.0" />
<polyline points="784.4,242.5 784.4,242.5 782.0,242.3 779.6,242.3 777.2,242.7 775.0,243.3 773.2,244.2 771.9,245.2 771.2,246.3 771.2,247.4 771.7,248.5 772.9,249.5 774.7,250.2 776.8,250.7 776.8,250.7" fill="none" stroke="#111" stroke-width="1.0" />
<line x1="817.0" y1="240.7" x2="777.1" y2="234.4" stroke="#222" stroke-width="0.8" />
<line x1="798.8" y1="261.3" x2="757.8" y2="254.9" stroke="#222" stroke-width="0.8" />
<polygon points="636.3,251.4 787.0,274.6 753.5,312.5 595.5,288.9" fill="none" stroke="#111" stroke-width="1.2" />
<line x1="679.0" y1="258.0" x2="640.3" y2="295.6" stroke="#111" stroke-width="1.0" />
<line x1="712.3" y1="263.1" x2="675.2" y2="300.8" stroke="#111" stroke-width="1.0" />
<line x1="745.3" y1="268.2" x2="709.8" y2="306.0" stroke="#111" stroke-width="1.0" />
<polyline points="703.4,283.0 702.6,283.6 701.7,284.3 700.7,284.9 699.6,285.4 698.3,285.9 697.0,286.3 695.7,286.6 694.3,286.9 692.9,287.0 691.5,287.1 690.2,287.0 688.9,286.9 687.8,286.6 686.7,286.3 685.8,285.9 685.0,285.5 684.3,284.9 683.9,284.3 683.6,283.7 683.5,283.0 683.6,282.3 683.8,281.6 684.3,280.9 684.9,280.2 685.7,279.5 686.6,278.8 687.6,278.2 688.7,277.7 690.0,277.2 691.3,276.9 692.6,276.5 694.0,276.3 695.4,276.2 696.8,276.1 698.1,276.2 699.3,276.3 700.5,276.5 701.5,276.9 702.4,277.3 703.2,277.7 703.8,278.2 704.3,278.8 704.6,279.5 704.7,280.1 704.6,280.8 704.4,281.6 704.0,282.3 703.4,283.0" fill="none" stroke="#111" stroke-width="1.0" />
<polyline points="633.6,253.9 638.2,254.6 643.3,255.7 647.7,257.2 651.3,259.1 654.0,261.3 655.8,263.8 656.5,266.6 656.2,269.4 654.8,272.3 652.3,275.2 648.9,278.0 644.6,280.5 639.6,282.7 634.0,284.6 628.0,286.1 621.7,287.1 615.3,287.5 609.1,287.5 603.3,286.9 598.5,286.2" fill="none" stroke="#111" stroke-width="1.2" />
<polyline points="623.3,263.4 650.8,269.8 641.3,278.8 609.4,276.2" fill="none" stroke="#111" stroke-width="1.0" />
<polyline points="650.8,269.8 650.8,269.8 653.0,270.3 654.8,271.1 656.0,272.1 656.5,273.2 656.3,274.5 655.4,275.7 653.9,276.8 651.8,277.8 649.4,278.5 646.7,278.9 643.9,279.0 641.3,278.8 641.3,278.8" fill="none" stroke="#111" stroke-width="1.0" />
<line x1="628.5" y1="258.6" x2="671.6" y2="265.2" stroke="#222" stroke-width="0.8" />
<line x1="604.0" y1="281.2" x2="648.3" y2="287.8" stroke="#222" stroke-width="0.8" />
<polyline points="784.7,277.2 780.3,276.5 774.9,275.9 769.2,275.9 763.4,276.3 757.7,277.2 752.2,278.6 747.1,280.4 742.5,282.6 738.7,285.1 735.6,287.9 733.4,290.8 732.2,293.7 732.1,296.7 733.0,299.5 734.9,302.2 737.8,304.5 741.6,306.5 746.1,308.0 751.3,309.1 755.9,309.8" fill="none" stroke="#111" stroke-width="1.2" />
<polyline points="776.2,286.8 745.9,284.3 737.5,293.3 764.8,299.7" fill="none" stroke="#111" stroke-width="1.0" />
<polyline points="745.9,284.3 745.9,284.3 743.4,284.1 740.7,284.2 738.2,284.6 735.9,285.3 733.9,286.3 732.5,287.4 731.7,288.6 731.6,289.9 732.2,291.0 733.5,292.0 735.2,292.8 737.5,293.3 737.5,293.3" fill="none" stroke="#111" stroke-width="1.0" />
<line x1="780.5" y1="282.0" x2="738.5" y2="275.5" stroke="#222" stroke-width="0.8" />
<line x1="760.4" y1="304.7" x2="717.2" y2="298.2" stroke="#222" stroke-width="0.8" />
<polygon points="831.8,235.5 969.9,257.5 946.1,292.2 801.9,269.9" fill="none" stroke="#111" stroke-width="1.2" />
<line x1="870.9" y1="241.7" x2="842.7" y2="276.2" stroke="#111" stroke-width="1.0" />
<line x1="901.4" y1="246.6" x2="874.6" y2="281.1" stroke="#111" stroke-width="1.0" />
<line x1="931.7" y1="251.4" x2="906.2" y2="286.0" stroke="#111" stroke-width="1.0" />
<polyline points="896.7,264.8 896.2,265.5 895.5,266.1 894.7,266.6 893.7,267.1 892.7,267.5 891.6,267.9 890.4,268.2 889.2,268.4 888.0,268.5 886.8,268.6 885.6,268.5 884.5,268.4 883.4,268.2 882.4,267.9 881.5,267.5 880.7,267.1 880.1,266.6 879.6,266.0 879.2,265.4 879.0,264.8 879.0,264.1 879.1,263.5 879.4,262.8 879.8,262.2 880.4,261.6 881.1,261.0 881.9,260.4 882.8,260.0 883.8,259.5 884.9,259.2 886.1,258.9 887.3,258.7 888.5,258.6 889.7,258.5 890.9,258.6 892.0,258.7 893.1,258.9 894.1,259.2 894.9,259.6 895.7,260.0 896.4,260.5 896.9,261.1 897.2,261.6 897.4,262.3 897.5,262.9 897.4,263.6 897.1,264.2 896.7,264.8" fill="none" stroke="#111" stroke-width="1.0" />
<polyline points="829.8,237.8 834.0,238.5 838.7,239.5 842.9,240.9 846.4,242.6 849.2,244.7 851.2,247.0 852.3,249.6 852.5,252.2 851.7,254.9 850.0,257.5 847.4,260.0 844.1,262.3 840.0,264.4 835.3,266.1 830.2,267.4 824.7,268.3 819.2,268.7 813.7,268.6 808.4,268.0 804.0,267.4" fill="none" stroke="#111" stroke-width="1.2" />
<polyline points="822.2,246.5 847.7,252.5 840.8,260.7 812.0,258.2" fill="none" stroke="#111" stroke-width="1.0" />
<polyline points="847.7,252.5 847.7,252.5 849.8,253.0 851.5,253.7 852.8,254.6 853.4,255.7 853.4,256.8 852.9,257.9 851.7,259.0 850.0,259.8 847.9,260.5 845.6,260.9 843.2,261.0 840.8,260.7 840.8,260.7" fill="none" stroke="#111" stroke-width="1.0" />
<line x1="826.0" y1="242.1" x2="865.5" y2="248.4" stroke="#222" stroke-width="0.8" />
<line x1="808.0" y1="262.8" x2="848.5" y2="269.1" stroke="#222" stroke-width="0.8" />
<polyline points="968.3,259.9 964.2,259.2 959.3,258.7 954.3,258.6 949.2,259.0 944.2,259.8 939.5,261.0 935.3,262.7 931.5,264.7 928.5,267.0 926.2,269.5 924.7,272.1 924.2,274.9 924.5,277.6 925.8,280.2 927.9,282.6 930.8,284.8 934.5,286.6 938.8,288.1 943.6,289.1 947.8,289.7" fill="none" stroke="#111" stroke-width="1.2" />
<polyline points="962.3,268.7 934.8,266.2 928.8,274.5 954.1,280.5" fill="none" stroke="#111" stroke-width="1.0" />
<polyline points="934.8,266.2 934.8,266.2 932.5,266.0 930.2,266.1 928.0,266.5 926.0,267.2 924.5,268.0 923.4,269.0 922.9,270.2 923.0,271.3 923.7,272.4 925.0,273.3 926.7,274.1 928.8,274.5 928.8,274.5" fill="none" stroke="#111" stroke-width="1.0" />
<line x1="965.3" y1="264.2" x2="926.8" y2="258.1" stroke="#222" stroke-width="0.8" />
<line x1="951.0" y1="285.1" x2="911.4" y2="278.9" stroke="#222" stroke-width="0.8" />
<polygon points="796.4,276.1 941.7,298.5 915.5,336.7 763.4,314.0" fill="none" stroke="#111" stroke-width="1.2" />
<line x1="837.6" y1="282.5" x2="806.5" y2="320.5" stroke="#111" stroke-width="1.0" />
<line x1="869.7" y1="287.4" x2="840.1" y2="325.5" stroke="#111" stroke-width="1.0" />
<line x1="901.5" y1="292.3" x2="873.4" y2="330.5" stroke="#111" stroke-width="1.0" />
<polyline points="864.1,307.4 863.5,308.1 862.7,308.7 861.9,309.3 860.9,309.9 859.8,310.4 858.6,310.8 857.3,311.1 856.1,311.4 854.8,311.5 853.5,311.6 852.2,311.5 851.0,311.4 849.9,311.2 848.9,310.9 847.9,310.5 847.1,310.0 846.4,309.5 845.9,308.9 845.6,308.2 845.4,307.5 845.3,306.8 845.5,306.1 845.8,305.4 846.3,304.7 846.9,304.0 847.7,303.3 848.6,302.7 849.6,302.2 850.7,301.7 851.8,301.3 853.1,301.0 854.3,300.8 855.6,300.6 856.9,300.6 858.1,300.6 859.3,300.7 860.4,301.0 861.5,301.3 862.4,301.7 863.2,302.1 863.9,302.7 864.4,303.2 864.8,303.9 865.0,304.6 865.0,305.3 864.9,306.0 864.6,306.7 864.1,307.4" fill="none" stroke="#111" stroke-width="1.0" />
<polyline points="794.2,278.6 798.6,279.3 803.6,280.4 807.9,281.8 811.6,283.7 814.5,286.0 816.5,288.5 817.6,291.2 817.7,294.1 816.8,297.0 814.9,299.9 812.1,302.7 808.4,305.3 804.0,307.5 799.0,309.5 793.5,311.0 787.7,312.0 781.8,312.5 776.0,312.5 770.4,311.9 765.8,311.2" fill="none" stroke="#111" stroke-width="1.2" />
<polyline points="785.8,288.3 812.7,294.5 805.0,303.6 774.6,301.1" fill="none" stroke="#111" stroke-width="1.0" />
<polyline points="812.7,294.5 812.7,294.5 814.9,295.0 816.6,295.8 817.9,296.8 818.6,297.9 818.5,299.1 817.9,300.4 816.6,301.5 814.8,302.5 812.6,303.2 810.1,303.6 807.5,303.8 805.0,303.6 805.0,303.6" fill="none" stroke="#111" stroke-width="1.0" />
<line x1="790.0" y1="283.4" x2="831.6" y2="289.8" stroke="#222" stroke-width="0.8" />
<line x1="770.2" y1="306.2" x2="812.9" y2="312.6" stroke="#222" stroke-width="0.8" />
<polyline points="940.0,301.1 935.7,300.4 930.5,299.9 925.2,299.9 919.8,300.3 914.5,301.3 909.5,302.7 905.0,304.6 901.0,306.8 897.7,309.3 895.1,312.1 893.5,315.0 892.8,318.0 893.1,321.0 894.4,323.8 896.5,326.4 899.6,328.8 903.4,330.7 907.9,332.3 912.9,333.3 917.4,334.0" fill="none" stroke="#111" stroke-width="1.2" />
<polyline points="933.3,310.8 904.3,308.4 897.7,317.6 924.4,323.8" fill="none" stroke="#111" stroke-width="1.0" />
<polyline points="904.3,308.4 904.3,308.4 901.9,308.3 899.5,308.4 897.1,308.8 895.1,309.6 893.4,310.5 892.2,311.7 891.6,312.9 891.7,314.1 892.4,315.3 893.7,316.3 895.5,317.1 897.7,317.6 897.7,317.6" fill="none" stroke="#111" stroke-width="1.0" />
<line x1="936.7" y1="305.9" x2="896.1" y2="299.7" stroke="#222" stroke-width="0.8" />
<line x1="920.9" y1="328.8" x2="879.2" y2="322.6" stroke="#222" stroke-width="0.8" />
<rect x="655.6" y="216.9" width="3.6" height="4.6" fill="#333"/>
<line x1="657.4" y1="221.9" x2="657.4" y2="227.9" stroke="#444" stroke-width="0.7" />
<rect x="609.3" y="259.2" width="3.6" height="4.6" fill="#333"/>
<line x1="611.1" y1="264.2" x2="611.1" y2="270.2" stroke="#444" stroke-width="0.7" />
<rect x="807.9" y="240.9" width="3.6" height="4.6" fill="#333"/>
<line x1="809.7" y1="245.9" x2="809.7" y2="251.9" stroke="#444" stroke-width="0.7" />
<rect x="814.0" y="241.9" width="3.6" height="4.6" fill="#333"/>
<line x1="815.8" y1="246.9" x2="815.8" y2="252.9" stroke="#444" stroke-width="0.7" />
<rect x="770.2" y="283.7" width="3.6" height="4.6" fill="#333"/>
<line x1="772.0" y1="288.7" x2="772.0" y2="294.7" stroke="#444" stroke-width="0.7" />
<rect x="776.6" y="284.6" width="3.6" height="4.6" fill="#333"/>
<line x1="778.4" y1="289.6" x2="778.4" y2="295.6" stroke="#444" stroke-width="0.7" />
<rect x="952.1" y="263.6" width="3.6" height="4.6" fill="#333"/>
<line x1="953.9" y1="268.6" x2="953.9" y2="274.6" stroke="#444" stroke-width="0.7" />
<rect x="922.3" y="306.8" width="3.6" height="4.6" fill="#333"/>
<line x1="924.1" y1="311.8" x2="924.1" y2="317.8" stroke="#444" stroke-width="0.7" />
<polygon points="584.0,294.0 916.2,343.4 905.0,357.0 572.0,306.0" fill="#fff" stroke="#333" stroke-width="0.7" />
<polygon points="535.4,326.2 570.6,294.3 731.2,322.9 702.6,348.2" fill="#fff" stroke="#333" stroke-width="1.0" />
<polygon points="544.0,326.0 574.0,299.0 722.0,325.0 699.0,345.0" fill="none" stroke="#444" stroke-width="0.6" />
<polyline points="574.0,299.0 566.0,330.0 625.0,308.0 660.0,339.0 722.0,325.0" fill="none" stroke="#666" stroke-width="0.5" />
<line x1="611.0" y1="305.5" x2="582.8" y2="330.8" stroke="#555" stroke-width="0.5" />
<line x1="648.0" y1="312.0" x2="621.5" y2="335.5" stroke="#555" stroke-width="0.5" />
<line x1="685.0" y1="318.5" x2="660.2" y2="340.2" stroke="#555" stroke-width="0.5" />
<polygon points="541.0,331.0 697.0,351.0 697.0,356.0 541.0,337.0" fill="#d8d8d8" stroke="#444" stroke-width="0.5" />
<polygon points="397.0,312.0 690.0,358.0 600.0,447.0 300.0,398.0" fill="#fff" stroke="#333" stroke-width="0.8" />
<polygon points="415.5,327.0 646.5,366.2 578.0,434.0 331.0,396.0" fill="#fff" stroke="#111" stroke-width="1.3" />
<polygon points="416.0,329.5 641.9,367.7 577.3,431.4 336.8,394.3" fill="none" stroke="#111" stroke-width="0.9" />
<line x1="533.6" y1="347.0" x2="457.5" y2="415.5" stroke="#111" stroke-width="1.15" />
<line x1="494.1" y1="340.3" x2="415.2" y2="408.9" stroke="#111" stroke-width="0.95" />
<line x1="480.0" y1="337.9" x2="400.1" y2="406.6" stroke="#111" stroke-width="0.95" />
<line x1="572.6" y1="353.7" x2="499.1" y2="421.9" stroke="#111" stroke-width="0.95" />
<line x1="590.7" y1="356.7" x2="518.5" y2="424.8" stroke="#111" stroke-width="0.95" />
<polyline points="528.6,385.5 525.4,388.2 521.7,390.7 517.6,393.0 513.1,395.2 508.3,397.1 503.2,398.7 498.1,400.0 492.8,400.9 487.7,401.6 482.6,401.8 477.8,401.7 473.3,401.2 469.3,400.3 465.6,399.1 462.5,397.6 460.1,395.8 458.2,393.7 457.0,391.3 456.5,388.8 456.7,386.2 457.6,383.4 459.1,380.6 461.3,377.8 464.1,375.1 467.5,372.5 471.3,370.0 475.5,367.7 480.1,365.6 484.9,363.8 490.0,362.3 495.1,361.1 500.2,360.2 505.2,359.7 510.1,359.5 514.7,359.7 519.0,360.2 523.0,361.0 526.4,362.2 529.4,363.7 531.8,365.5 533.7,367.5 534.9,369.7 535.4,372.1 535.3,374.7 534.6,377.4 533.2,380.1 531.2,382.8 528.6,385.5" fill="none" stroke="#111" stroke-width="1.15" />
<polyline points="400.9,338.9 449.4,347.0 397.6,391.0 346.9,383.0" fill="none" stroke="#111" stroke-width="1.0" />
<polyline points="634.7,377.9 589.6,370.4 543.9,413.9 590.9,421.3" fill="none" stroke="#111" stroke-width="1.0" />
<polyline points="447.9,348.3 449.7,348.7 451.4,349.1 453.0,349.6 454.5,350.2 455.9,350.9 457.1,351.7 458.2,352.5 459.1,353.4 459.9,354.3 460.6,355.4 461.1,356.4 461.4,357.6 461.6,358.7 461.6,360.0 461.4,361.2 461.1,362.5 460.7,363.8 460.0,365.2 459.3,366.5 458.4,367.9 457.3,369.3 456.1,370.6 454.7,372.0 453.2,373.4 451.6,374.7 449.9,376.0 448.0,377.3 446.1,378.5 444.0,379.7 441.9,380.9 439.6,382.0 437.3,383.1 435.0,384.1 432.6,385.0 430.1,385.9 427.6,386.7 425.1,387.4 422.6,388.0 420.1,388.6 417.5,389.1 415.1,389.4 412.6,389.7 410.2,389.9 407.9,390.1 405.6,390.1 403.4,390.0 401.3,389.8 399.2,389.6" fill="none" stroke="#111" stroke-width="1.15" />
<polyline points="545.4,412.5 543.6,412.2 541.8,411.7 540.2,411.2 538.8,410.6 537.4,410.0 536.2,409.2 535.1,408.4 534.1,407.5 533.3,406.5 532.6,405.4 532.1,404.4 531.8,403.2 531.6,402.0 531.5,400.8 531.6,399.5 531.9,398.2 532.3,396.8 532.8,395.5 533.5,394.1 534.4,392.7 535.4,391.3 536.5,390.0 537.8,388.6 539.1,387.3 540.6,385.9 542.2,384.6 543.9,383.4 545.8,382.1 547.7,381.0 549.6,379.8 551.7,378.8 553.8,377.7 555.9,376.8 558.1,375.9 560.4,375.1 562.6,374.3 564.9,373.6 567.2,373.0 569.5,372.5 571.7,372.1 574.0,371.7 576.2,371.5 578.3,371.3 580.5,371.2 582.5,371.2 584.5,371.3 586.4,371.4 588.2,371.7" fill="none" stroke="#111" stroke-width="1.15" />
<polygon points="343.0,357.0 383.0,334.0 391.0,337.0 351.0,360.0" fill="#fff" stroke="#222" stroke-width="0.9" />
<polygon points="343.0,357.0 383.0,334.0 383.0,343.0 343.0,366.0" fill="none" stroke="#222" stroke-width="0.9" />
<polygon points="343.0,357.0 351.0,360.0 351.0,369.0 343.0,366.0" fill="#fff" stroke="#222" stroke-width="0.9" />
<line x1="351.0" y1="369.0" x2="391.0" y2="346.0" stroke="#222" stroke-width="0.9" />
<line x1="391.0" y1="337.0" x2="391.0" y2="346.0" stroke="#222" stroke-width="0.9" />
<polygon points="599.0,410.0 627.0,385.0 631.0,388.0 631.0,397.0 603.0,421.0 599.0,419.0" fill="#fff" stroke="#333" stroke-width="0.7" />
<line x1="627.0" y1="385.0" x2="627.0" y2="394.0" stroke="#333" stroke-width="0.7" />
<line x1="627.0" y1="394.0" x2="599.0" y2="419.0" stroke="#333" stroke-width="0.7" />
<polygon points="407.6,300.4 532.6,320.0 654.7,212.4 654.7,175.0 401.0,261.9" fill="#fff" stroke="#222" stroke-width="0.8" />
<polygon points="401.0,261.9 523.8,281.7 532.6,320.0 407.6,300.4" fill="#f4f4f4" stroke="#222" stroke-width="0.9" />
<line x1="425.6" y1="270.0" x2="432.6" y2="304.3" stroke="#999" stroke-width="0.5" />
<line x1="450.1" y1="274.0" x2="457.6" y2="308.2" stroke="#999" stroke-width="0.5" />
<line x1="474.7" y1="278.0" x2="482.6" y2="312.2" stroke="#999" stroke-width="0.5" />
<line x1="499.2" y1="282.0" x2="507.6" y2="316.1" stroke="#999" stroke-width="0.5" />
<line x1="401.5" y1="265.5" x2="524.5" y2="285.3" stroke="#333" stroke-width="0.7" />
<polygon points="523.8,281.7 654.7,175.0 654.7,212.4 532.6,320.0" fill="#acacac" stroke="#222" stroke-width="0.9" />
<line x1="543.6" y1="271.2" x2="550.0" y2="304.7" stroke="#444" stroke-width="1.2" />
<line x1="548.1" y1="267.5" x2="554.2" y2="301.0" stroke="#ccc" stroke-width="0.8" />
<line x1="565.5" y1="253.2" x2="570.5" y2="286.6" stroke="#444" stroke-width="1.2" />
<line x1="569.7" y1="249.7" x2="574.4" y2="283.1" stroke="#ccc" stroke-width="0.8" />
<line x1="586.0" y1="236.3" x2="589.8" y2="269.6" stroke="#444" stroke-width="1.2" />
<line x1="590.0" y1="233.0" x2="593.5" y2="266.3" stroke="#ccc" stroke-width="0.8" />
<line x1="605.3" y1="220.4" x2="607.9" y2="253.6" stroke="#444" stroke-width="1.2" />
<line x1="609.1" y1="217.3" x2="611.5" y2="250.5" stroke="#ccc" stroke-width="0.8" />
<line x1="623.5" y1="205.4" x2="625.1" y2="238.5" stroke="#444" stroke-width="1.2" />
<line x1="627.0" y1="202.5" x2="628.4" y2="235.6" stroke="#ccc" stroke-width="0.8" />
<line x1="640.6" y1="191.3" x2="641.3" y2="224.2" stroke="#444" stroke-width="1.2" />
<line x1="643.9" y1="188.6" x2="644.5" y2="221.4" stroke="#ccc" stroke-width="0.8" />
<polygon points="531.9,300.8 561.1,275.9 563.8,292.5 535.6,317.4" fill="#444" stroke="#222" stroke-width="0.5" />
<line x1="536.4" y1="296.9" x2="539.9" y2="313.5" stroke="#ddd" stroke-width="0.7" />
<line x1="542.4" y1="291.8" x2="545.7" y2="308.5" stroke="#ddd" stroke-width="0.7" />
<line x1="548.2" y1="286.8" x2="551.4" y2="303.5" stroke="#ddd" stroke-width="0.7" />
<line x1="554.0" y1="281.9" x2="556.9" y2="298.5" stroke="#ddd" stroke-width="0.7" />
<polygon points="442.0,227.4 401.0,261.9 523.8,281.7 556.8,247.6" fill="#fdfdfd" stroke="#222" stroke-width="0.9" />
<polygon points="644.8,171.7 654.7,175.0 532.6,285.0 523.8,281.7" fill="#efefef" stroke="#222" stroke-width="0.8" />
<line x1="649.5" y1="173.5" x2="528.0" y2="283.5" stroke="#555" stroke-width="0.6" />
<polygon points="442.0,227.4 555.7,234.0 556.8,247.6" fill="#d4d4d4" stroke="#333" stroke-width="0.7" />
<polygon points="641.5,157.4 644.8,171.7 556.8,247.6 555.7,234.0" fill="#cfcfcf" stroke="#222" stroke-width="0.8" />
<polygon points="534.4,152.6 641.5,157.4 555.7,234.0 442.0,227.4" fill="url(#roofg)" stroke="#222" stroke-width="0.9" />
<polygon points="976.8,248.6 1023.0,270.6 961.4,355.3 913.0,346.5" fill="#fdfdfd" stroke="#222" stroke-width="1.0" />
<polygon points="979.0,236.5 1080.0,248.6 1053.8,277.0 1038.4,276.0 1023.0,270.6 985.0,250.0" fill="#fbfbfb" stroke="#444" stroke-width="0.6" />
<polygon points="1038.4,276.0 1053.8,277.0 1033.7,305.0 1035.2,368.7 983.4,356.4" fill="#f6f6f6" stroke="#222" stroke-width="1.1" />
<line x1="1023.0" y1="270.6" x2="961.4" y2="355.3" stroke="#c4c4c4" stroke-width="0.45" />
<line x1="1028.3" y1="272.5" x2="969.1" y2="355.7" stroke="#c4c4c4" stroke-width="0.45" />
<line x1="1033.5" y1="274.3" x2="976.4" y2="356.0" stroke="#c4c4c4" stroke-width="0.45" />
<line x1="1038.4" y1="276.0" x2="983.4" y2="356.4" stroke="#c4c4c4" stroke-width="0.45" />
<line x1="1023.0" y1="270.6" x2="1038.4" y2="276.0" stroke="#c4c4c4" stroke-width="0.45" />
<line x1="1018.6" y1="276.6" x2="1034.5" y2="281.8" stroke="#c4c4c4" stroke-width="0.45" />
<line x1="1014.1" y1="282.8" x2="1030.4" y2="287.7" stroke="#c4c4c4" stroke-width="0.45" />
<line x1="1009.5" y1="289.1" x2="1026.3" y2="293.7" stroke="#c4c4c4" stroke-width="0.45" />
<line x1="1004.8" y1="295.6" x2="1022.0" y2="299.9" stroke="#c4c4c4" stroke-width="0.45" />
<line x1="999.9" y1="302.3" x2="1017.7" y2="306.3" stroke="#c4c4c4" stroke-width="0.45" />
<line x1="994.9" y1="309.2" x2="1013.2" y2="312.9" stroke="#c4c4c4" stroke-width="0.45" />
<line x1="989.7" y1="316.4" x2="1008.6" y2="319.6" stroke="#c4c4c4" stroke-width="0.45" />
<line x1="984.4" y1="323.7" x2="1003.8" y2="326.6" stroke="#c4c4c4" stroke-width="0.45" />
<line x1="978.9" y1="331.2" x2="998.9" y2="333.7" stroke="#c4c4c4" stroke-width="0.45" />
<line x1="973.3" y1="339.0" x2="993.9" y2="341.1" stroke="#c4c4c4" stroke-width="0.45" />
<line x1="967.4" y1="347.0" x2="988.7" y2="348.6" stroke="#c4c4c4" stroke-width="0.45" />
<line x1="961.4" y1="355.3" x2="983.4" y2="356.4" stroke="#c4c4c4" stroke-width="0.45" />
<polygon points="1081.0,232.9 1094.9,222.0 1331.5,259.5 1323.9,275.9 1081.0,241.8" fill="#e9e9e9" stroke="#222" stroke-width="0.8" />
<polygon points="1081.0,232.9 1318.0,270.0 1323.9,275.9 1081.0,241.8" fill="#c9c9c9" stroke="#333" stroke-width="0.5" />
<line x1="1094.9" y1="222.0" x2="1331.5" y2="259.5" stroke="#111" stroke-width="1.6" />
<polygon points="1133.0,246.0 1149.0,252.0 1340.0,281.0 1330.0,300.0 1316.0,320.0 1270.0,313.0 1121.5,288.0 1109.0,315.0 1097.4,311.0" fill="#fbfbfb" stroke="#222" stroke-width="0.8" />
<polygon points="1149.3,260.7 1287.2,281.0 1273.3,303.7 1132.8,287.3" fill="#e3e3e3" stroke="#222" stroke-width="0.9" />
<clipPath id="cpC1"><polygon points="1149.3,260.7 1287.2,281.0 1273.3,303.7 1132.8,287.3"/></clipPath>
<g clip-path="url(#cpC1)">
<polygon points="1151.0,261.0 1287.2,281.0 1287.2,305.0 1151.0,285.0" fill="#f4f4f4" stroke="#222" stroke-width="0.6" />
<polygon points="1157.1,265.7 1175.5,268.4 1175.5,285.2 1157.1,282.5" fill="#3a3a3a" stroke="#111" stroke-width="0.6" />
<polygon points="1163.9,270.1 1173.9,271.6 1173.9,279.2 1163.9,277.8" fill="#9a9a9a" stroke="none" stroke-width="0.8" />
<polygon points="1158.8,278.0 1173.9,280.2 1173.9,284.0 1158.8,281.8" fill="#c8c8c8" stroke="none" stroke-width="0.8" />
<line x1="1179.6" y1="265.2" x2="1179.6" y2="289.2" stroke="#333" stroke-width="0.8" />
<polygon points="1184.4,269.7 1202.8,272.4 1202.8,289.2 1184.4,286.5" fill="#3a3a3a" stroke="#111" stroke-width="0.6" />
<polygon points="1191.2,274.1 1201.1,275.6 1201.1,283.2 1191.2,281.8" fill="#9a9a9a" stroke="none" stroke-width="0.8" />
<polygon points="1186.0,282.0 1201.1,284.2 1201.1,288.0 1186.0,285.8" fill="#c8c8c8" stroke="none" stroke-width="0.8" />
<line x1="1206.8" y1="269.2" x2="1206.8" y2="293.2" stroke="#333" stroke-width="0.8" />
<polygon points="1211.6,273.7 1230.0,276.4 1230.0,293.2 1211.6,290.5" fill="#3a3a3a" stroke="#111" stroke-width="0.6" />
<polygon points="1218.4,278.1 1228.4,279.6 1228.4,287.2 1218.4,285.8" fill="#9a9a9a" stroke="none" stroke-width="0.8" />
<polygon points="1213.2,286.0 1228.4,288.2 1228.4,292.0 1213.2,289.8" fill="#c8c8c8" stroke="none" stroke-width="0.8" />
<line x1="1234.1" y1="273.2" x2="1234.1" y2="297.2" stroke="#333" stroke-width="0.8" />
<polygon points="1238.8,277.7 1257.2,280.4 1257.2,297.2 1238.8,294.5" fill="#3a3a3a" stroke="#111" stroke-width="0.6" />
<polygon points="1245.7,282.1 1255.6,283.6 1255.6,291.2 1245.7,289.8" fill="#9a9a9a" stroke="none" stroke-width="0.8" />
<polygon points="1240.5,290.0 1255.6,292.2 1255.6,296.0 1240.5,293.8" fill="#c8c8c8" stroke="none" stroke-width="0.8" />
<line x1="1261.3" y1="277.2" x2="1261.3" y2="301.2" stroke="#333" stroke-width="0.8" />
<polygon points="1266.1,281.7 1284.5,284.4 1284.5,301.2 1266.1,298.5" fill="#3a3a3a" stroke="#111" stroke-width="0.6" />
<polygon points="1272.9,286.1 1282.8,287.6 1282.8,295.2 1272.9,293.8" fill="#9a9a9a" stroke="none" stroke-width="0.8" />
<polygon points="1267.7,294.0 1282.8,296.2 1282.8,300.0 1267.7,297.8" fill="#c8c8c8" stroke="none" stroke-width="0.8" />
<line x1="1288.6" y1="281.2" x2="1288.6" y2="305.2" stroke="#333" stroke-width="0.8" />
</g>
<line x1="1132.8" y1="287.3" x2="1273.3" y2="303.7" stroke="#111" stroke-width="1.3" />
<polygon points="1149.3,260.7 1153.0,261.3 1136.0,288.0 1132.8,287.3" fill="#777" stroke="#222" stroke-width="0.5" />
<polygon points="1287.2,281.0 1318.8,280.5 1303.6,315.1 1273.3,309.3" fill="#e9e9e9" stroke="#222" stroke-width="0.8" />
<polygon points="1273.3,303.7 1303.6,309.5 1303.6,315.1 1273.3,309.3" fill="#c9c9c9" stroke="#333" stroke-width="0.5" />
<polygon points="1350.5,253.1 1392.2,264.5 1364.4,324.0 1321.4,311.3" fill="#e9e9e9" stroke="#222" stroke-width="0.9" />
<polygon points="1321.4,311.3 1364.4,324.0 1362.0,330.0 1321.4,318.0" fill="#c9c9c9" stroke="#333" stroke-width="0.6" />
<polygon points="1392.2,264.5 1394.0,268.0 1372.0,326.0 1364.4,324.0" fill="#555" stroke="#222" stroke-width="0.8" />
<polygon points="1381.7,287.1 1385.3,291.0 1372.0,326.0 1364.4,324.0" fill="#a0a0a0" stroke="none" stroke-width="0.8" />
<line x1="1392.2" y1="264.5" x2="1364.4" y2="324.0" stroke="#222" stroke-width="0.7" />
<line x1="1393.1" y1="266.3" x2="1368.4" y2="325.1" stroke="#222" stroke-width="0.7" />
<line x1="1394.0" y1="268.0" x2="1372.0" y2="326.0" stroke="#222" stroke-width="0.7" />
<line x1="1392.2" y1="264.5" x2="1394.0" y2="268.0" stroke="#2a2a2a" stroke-width="0.55" />
<line x1="1391.4" y1="266.2" x2="1393.3" y2="269.7" stroke="#2a2a2a" stroke-width="0.55" />
<line x1="1390.6" y1="268.0" x2="1392.6" y2="271.6" stroke="#2a2a2a" stroke-width="0.55" />
<line x1="1389.6" y1="270.0" x2="1391.8" y2="273.7" stroke="#2a2a2a" stroke-width="0.55" />
<line x1="1388.6" y1="272.2" x2="1390.9" y2="276.0" stroke="#2a2a2a" stroke-width="0.55" />
<line x1="1387.4" y1="274.7" x2="1390.0" y2="278.6" stroke="#2a2a2a" stroke-width="0.55" />
<line x1="1386.1" y1="277.5" x2="1388.9" y2="281.4" stroke="#2a2a2a" stroke-width="0.55" />
<line x1="1384.6" y1="280.7" x2="1387.7" y2="284.6" stroke="#2a2a2a" stroke-width="0.55" />
<line x1="1382.9" y1="284.3" x2="1386.3" y2="288.3" stroke="#2a2a2a" stroke-width="0.55" />
<line x1="1381.0" y1="288.4" x2="1384.8" y2="292.4" stroke="#2a2a2a" stroke-width="0.55" />
<line x1="1378.8" y1="293.3" x2="1383.0" y2="297.1" stroke="#2a2a2a" stroke-width="0.55" />
<line x1="1376.1" y1="298.9" x2="1380.9" y2="302.6" stroke="#2a2a2a" stroke-width="0.55" />
<line x1="1373.0" y1="305.7" x2="1378.4" y2="309.0" stroke="#2a2a2a" stroke-width="0.55" />
<line x1="1369.1" y1="313.9" x2="1375.5" y2="316.7" stroke="#2a2a2a" stroke-width="0.55" />
<line x1="1364.4" y1="324.0" x2="1372.0" y2="326.0" stroke="#2a2a2a" stroke-width="0.55" />
<polygon points="1389.0,295.0 1472.0,307.0 1462.0,337.0 1372.0,326.0" fill="#fff" stroke="#444" stroke-width="0.6" />
<polygon points="1440.0,312.0 1456.0,300.0 1470.0,308.0 1462.0,337.0 1445.0,334.0" fill="#b0b0b0" stroke="none" stroke-width="0.8" />
<use href="#tree" transform="translate(1415,330) scale(0.55)"/>
<use href="#tree" transform="translate(1436,333) scale(0.50)"/>
<use href="#tree" transform="translate(1452,335) scale(0.50)"/>
<polygon points="1478.2,280.5 1727.7,316.1 1721.7,336.9 1473.7,293.9" fill="#e9e9e9" stroke="#222" stroke-width="0.8" />
<polygon points="1473.7,293.9 1721.7,336.9 1720.0,344.5 1473.7,301.5" fill="#c9c9c9" stroke="#333" stroke-width="0.5" />
<line x1="1478.2" y1="280.5" x2="1727.7" y2="316.1" stroke="#111" stroke-width="1.6" />
<polygon points="1515.0,308.7 1722.0,342.0 1718.8,347.3 1675.7,334.0 1660.9,400.8 1611.9,396.3 1617.8,366.6 1521.3,351.8 1510.9,380.0 1494.5,378.5 1504.9,347.3" fill="#fbfbfb" stroke="#222" stroke-width="0.8" />
<polygon points="1469.3,308.7 1515.3,308.7 1504.9,347.3 1461.9,338.4" fill="#e9e9e9" stroke="#222" stroke-width="0.8" />
<polygon points="1461.9,338.4 1504.9,347.3 1503.5,352.0 1461.0,343.0" fill="#c9c9c9" stroke="#333" stroke-width="0.5" />
<polygon points="1536.1,320.6 1623.7,334.0 1617.8,360.7 1525.7,348.8" fill="#e3e3e3" stroke="#222" stroke-width="0.9" />
<clipPath id="cpC2"><polygon points="1536.1,320.6 1623.7,334.0 1617.8,360.7 1525.7,348.8"/></clipPath>
<g clip-path="url(#cpC2)">
<polygon points="1537.0,320.8 1623.7,334.0 1623.7,360.0 1537.0,346.8" fill="#f4f4f4" stroke="#222" stroke-width="0.6" />
<polygon points="1543.1,325.9 1562.1,328.8 1562.1,347.0 1543.1,344.1" fill="#3a3a3a" stroke="#111" stroke-width="0.6" />
<polygon points="1550.0,330.6 1560.4,332.2 1560.4,340.5 1550.0,338.9" fill="#9a9a9a" stroke="none" stroke-width="0.8" />
<polygon points="1544.8,339.1 1560.4,341.5 1560.4,345.7 1544.8,343.3" fill="#c8c8c8" stroke="none" stroke-width="0.8" />
<line x1="1566.5" y1="325.3" x2="1566.5" y2="351.3" stroke="#333" stroke-width="0.8" />
<polygon points="1571.2,330.2 1590.3,333.1 1590.3,351.3 1571.2,348.4" fill="#3a3a3a" stroke="#111" stroke-width="0.6" />
<polygon points="1578.2,334.9 1588.6,336.5 1588.6,344.8 1578.2,343.2" fill="#9a9a9a" stroke="none" stroke-width="0.8" />
<polygon points="1573.0,343.4 1588.6,345.8 1588.6,350.0 1573.0,347.6" fill="#c8c8c8" stroke="none" stroke-width="0.8" />
<line x1="1594.7" y1="329.6" x2="1594.7" y2="355.6" stroke="#333" stroke-width="0.8" />
<polygon points="1599.4,334.5 1618.5,337.4 1618.5,355.6 1599.4,352.7" fill="#3a3a3a" stroke="#111" stroke-width="0.6" />
<polygon points="1606.4,339.2 1616.8,340.7 1616.8,349.1 1606.4,347.5" fill="#9a9a9a" stroke="none" stroke-width="0.8" />
<polygon points="1601.2,347.7 1616.8,350.1 1616.8,354.3 1601.2,351.9" fill="#c8c8c8" stroke="none" stroke-width="0.8" />
<line x1="1622.8" y1="333.9" x2="1622.8" y2="359.9" stroke="#333" stroke-width="0.8" />
</g>
<line x1="1525.7" y1="348.8" x2="1617.8" y2="360.7" stroke="#111" stroke-width="1.3" />
<polygon points="1623.7,334.0 1675.7,334.0 1668.3,366.6 1617.8,362.0" fill="#e9e9e9" stroke="#222" stroke-width="0.8" />
<polygon points="1013.0,330.0 1033.7,308.0 1035.2,368.7 1020.0,352.0" fill="#aaa" stroke="none" stroke-width="0.8" />
<polygon points="1033.7,305.0 1073.4,247.3 1132.8,245.5 1133.3,254.4 1097.0,313.0" fill="#e9e9e9" stroke="#222" stroke-width="0.9" />
<polygon points="1033.7,305.0 1097.0,300.0 1097.0,313.0 1096.0,317.7 1033.7,308.5" fill="#c9c9c9" stroke="#333" stroke-width="0.6" />
<polygon points="1097.0,300.0 1133.3,247.0 1133.3,254.4 1097.0,313.0" fill="#d2d2d2" stroke="#333" stroke-width="0.6" />
<polygon points="1033.7,308.0 1096.0,317.7 1096.0,380.7 1035.2,368.7" fill="#fff" stroke="#222" stroke-width="0.9" />
<polygon points="1037.4,314.5 1060.6,318.2 1060.7,326.3 1037.6,322.5" fill="#3c3c3c" stroke="none" stroke-width="0.8" />
<polygon points="1037.6,322.5 1060.7,326.3 1060.8,332.9 1037.8,329.0" fill="#b8b8b8" stroke="none" stroke-width="0.8" />
<line x1="1043.1" y1="315.4" x2="1043.4" y2="329.9" stroke="#fff" stroke-width="1.3" />
<line x1="1048.9" y1="316.4" x2="1049.2" y2="330.9" stroke="#fff" stroke-width="1.3" />
<line x1="1054.7" y1="317.3" x2="1054.9" y2="331.9" stroke="#fff" stroke-width="1.3" />
<polygon points="1037.4,314.5 1060.6,318.2 1060.8,332.9 1037.8,329.0" fill="none" stroke="#333" stroke-width="0.5" />
<polygon points="1037.9,333.0 1060.8,337.0 1060.9,344.9 1038.0,340.8" fill="#3c3c3c" stroke="none" stroke-width="0.8" />
<polygon points="1038.0,340.8 1060.9,344.9 1061.0,351.4 1038.2,347.2" fill="#b8b8b8" stroke="none" stroke-width="0.8" />
<line x1="1043.5" y1="334.0" x2="1043.8" y2="348.3" stroke="#fff" stroke-width="1.3" />
<line x1="1049.3" y1="335.0" x2="1049.5" y2="349.3" stroke="#fff" stroke-width="1.3" />
<line x1="1055.0" y1="336.0" x2="1055.2" y2="350.3" stroke="#fff" stroke-width="1.3" />
<polygon points="1037.9,333.0 1060.8,337.0 1061.0,351.4 1038.2,347.2" fill="none" stroke="#333" stroke-width="0.5" />
<polygon points="1038.3,351.2 1061.1,355.4 1061.2,363.3 1038.5,358.9" fill="#3c3c3c" stroke="none" stroke-width="0.8" />
<polygon points="1038.5,358.9 1061.2,363.3 1061.3,369.6 1038.6,365.2" fill="#b8b8b8" stroke="none" stroke-width="0.8" />
<line x1="1049.6" y1="353.3" x2="1049.9" y2="367.4" stroke="#fff" stroke-width="1.0" />
<polygon points="1038.3,351.2 1061.1,355.4 1061.3,369.6 1038.6,365.2" fill="none" stroke="#333" stroke-width="0.5" />
<polygon points="1065.5,319.0 1090.8,323.1 1090.8,331.3 1065.6,327.1" fill="#3c3c3c" stroke="none" stroke-width="0.8" />
<polygon points="1065.6,327.1 1090.8,331.3 1090.9,338.0 1065.7,333.7" fill="#b8b8b8" stroke="none" stroke-width="0.8" />
<line x1="1071.8" y1="320.0" x2="1071.9" y2="334.8" stroke="#fff" stroke-width="1.3" />
<line x1="1078.1" y1="321.0" x2="1078.2" y2="335.8" stroke="#fff" stroke-width="1.3" />
<line x1="1084.4" y1="322.0" x2="1084.5" y2="336.9" stroke="#fff" stroke-width="1.3" />
<polygon points="1065.5,319.0 1090.8,323.1 1090.9,338.0 1065.7,333.7" fill="none" stroke="#333" stroke-width="0.5" />
<polygon points="1065.7,337.8 1090.9,342.1 1090.9,350.2 1065.8,345.8" fill="#3c3c3c" stroke="none" stroke-width="0.8" />
<polygon points="1065.8,345.8 1090.9,350.2 1090.9,356.8 1065.9,352.3" fill="#b8b8b8" stroke="none" stroke-width="0.8" />
<line x1="1071.9" y1="338.9" x2="1072.1" y2="353.4" stroke="#fff" stroke-width="1.3" />
<line x1="1078.2" y1="340.0" x2="1078.3" y2="354.5" stroke="#fff" stroke-width="1.3" />
<line x1="1084.5" y1="341.1" x2="1084.6" y2="355.7" stroke="#fff" stroke-width="1.3" />
<polygon points="1065.7,337.8 1090.9,342.1 1090.9,356.8 1065.9,352.3" fill="none" stroke="#333" stroke-width="0.5" />
<polygon points="1066.0,356.3 1090.9,360.9 1090.9,368.9 1066.1,364.2" fill="#3c3c3c" stroke="none" stroke-width="0.8" />
<polygon points="1066.1,364.2 1090.9,368.9 1090.9,375.4 1066.1,370.6" fill="#b8b8b8" stroke="none" stroke-width="0.8" />
<line x1="1078.3" y1="358.6" x2="1078.4" y2="373.0" stroke="#fff" stroke-width="1.0" />
<polygon points="1066.0,356.3 1090.9,360.9 1090.9,375.4 1066.1,370.6" fill="none" stroke="#333" stroke-width="0.5" />
<polygon points="1097.5,312.5 1108.7,318.0 1108.7,377.0 1098.0,376.0" fill="#5a5a5a" stroke="#222" stroke-width="0.8" />
<polygon points="1097.8,352.5 1108.7,355.2 1108.7,377.0 1098.0,376.0" fill="#a0a0a0" stroke="none" stroke-width="0.8" />
<line x1="1097.5" y1="312.5" x2="1098.0" y2="376.0" stroke="#222" stroke-width="0.7" />
<line x1="1103.3" y1="315.4" x2="1103.5" y2="376.5" stroke="#222" stroke-width="0.7" />
<line x1="1108.7" y1="318.0" x2="1108.7" y2="377.0" stroke="#222" stroke-width="0.7" />
<line x1="1097.5" y1="312.5" x2="1108.7" y2="318.0" stroke="#2a2a2a" stroke-width="0.55" />
<line x1="1097.6" y1="319.8" x2="1108.7" y2="324.8" stroke="#2a2a2a" stroke-width="0.55" />
<line x1="1097.6" y1="327.1" x2="1108.7" y2="331.5" stroke="#2a2a2a" stroke-width="0.55" />
<line x1="1097.7" y1="334.3" x2="1108.7" y2="338.2" stroke="#2a2a2a" stroke-width="0.55" />
<line x1="1097.7" y1="341.4" x2="1108.7" y2="344.8" stroke="#2a2a2a" stroke-width="0.55" />
<line x1="1097.8" y1="348.5" x2="1108.7" y2="351.4" stroke="#2a2a2a" stroke-width="0.55" />
<line x1="1097.8" y1="355.5" x2="1108.7" y2="357.9" stroke="#2a2a2a" stroke-width="0.55" />
<line x1="1097.9" y1="362.4" x2="1108.7" y2="364.3" stroke="#2a2a2a" stroke-width="0.55" />
<line x1="1097.9" y1="369.2" x2="1108.7" y2="370.7" stroke="#2a2a2a" stroke-width="0.55" />
<line x1="1098.0" y1="376.0" x2="1108.7" y2="377.0" stroke="#2a2a2a" stroke-width="0.55" />
<polygon points="1120.0,293.0 1270.0,315.5 1261.7,340.2 1108.7,317.0" fill="#e9e9e9" stroke="#222" stroke-width="0.9" />
<polygon points="1122.0,296.5 1129.5,297.6 1129.0,302.6 1121.5,301.5" fill="#f6f6f6" stroke="#444" stroke-width="0.5" />
<line x1="1108.7" y1="317.6" x2="1261.7" y2="341.0" stroke="#111" stroke-width="1.5" />
<polygon points="1108.7,318.5 1261.7,341.7 1258.0,408.5 1109.5,381.5" fill="#fff" stroke="#222" stroke-width="0.9" />
<polygon points="1113.1,325.4 1135.4,328.8 1135.4,344.0 1113.2,340.4" fill="#c4c4c4" stroke="#555" stroke-width="0.6" />
<polygon points="1113.3,344.6 1135.4,348.2 1135.4,363.1 1113.4,359.3" fill="#c4c4c4" stroke="#555" stroke-width="0.6" />
<polygon points="1113.5,363.4 1135.4,367.2 1135.5,381.9 1113.6,378.0" fill="#c4c4c4" stroke="#555" stroke-width="0.6" />
<polygon points="1139.8,329.5 1163.5,333.2 1163.4,341.6 1139.8,337.9" fill="#3c3c3c" stroke="none" stroke-width="0.8" />
<polygon points="1139.8,337.9 1163.4,341.6 1163.3,348.5 1139.8,344.7" fill="#b8b8b8" stroke="none" stroke-width="0.8" />
<line x1="1145.7" y1="330.4" x2="1145.6" y2="345.6" stroke="#fff" stroke-width="1.3" />
<line x1="1151.6" y1="331.3" x2="1151.5" y2="346.6" stroke="#fff" stroke-width="1.3" />
<line x1="1157.5" y1="332.2" x2="1157.4" y2="347.5" stroke="#fff" stroke-width="1.3" />
<polygon points="1139.8,329.5 1163.5,333.2 1163.3,348.5 1139.8,344.7" fill="none" stroke="#333" stroke-width="0.5" />
<polygon points="1139.8,348.9 1163.3,352.8 1163.2,361.1 1139.8,357.1" fill="#3c3c3c" stroke="none" stroke-width="0.8" />
<polygon points="1139.8,357.1 1163.2,361.1 1163.1,367.8 1139.8,363.8" fill="#b8b8b8" stroke="none" stroke-width="0.8" />
<line x1="1145.6" y1="349.9" x2="1145.5" y2="364.8" stroke="#fff" stroke-width="1.3" />
<line x1="1151.5" y1="350.8" x2="1151.4" y2="365.8" stroke="#fff" stroke-width="1.3" />
<line x1="1157.3" y1="351.8" x2="1157.2" y2="366.8" stroke="#fff" stroke-width="1.3" />
<polygon points="1139.8,348.9 1163.3,352.8 1163.1,367.8 1139.8,363.8" fill="none" stroke="#333" stroke-width="0.5" />
<polygon points="1139.8,368.0 1163.0,372.0 1162.9,380.2 1139.7,376.1" fill="#3c3c3c" stroke="none" stroke-width="0.8" />
<polygon points="1139.7,376.1 1162.9,380.2 1162.9,386.8 1139.7,382.7" fill="#b8b8b8" stroke="none" stroke-width="0.8" />
<line x1="1151.3" y1="370.0" x2="1151.2" y2="384.7" stroke="#fff" stroke-width="1.0" />
<polygon points="1139.8,368.0 1163.0,372.0 1162.9,386.8 1139.7,382.7" fill="none" stroke="#333" stroke-width="0.5" />
<polygon points="1168.0,333.9 1192.3,337.6 1192.1,346.2 1167.9,342.3" fill="#3c3c3c" stroke="none" stroke-width="0.8" />
<polygon points="1167.9,342.3 1192.1,346.2 1191.9,353.1 1167.8,349.2" fill="#b8b8b8" stroke="none" stroke-width="0.8" />
<line x1="1174.0" y1="334.8" x2="1173.8" y2="350.2" stroke="#fff" stroke-width="1.3" />
<line x1="1180.1" y1="335.7" x2="1179.8" y2="351.1" stroke="#fff" stroke-width="1.3" />
<line x1="1186.2" y1="336.7" x2="1185.8" y2="352.1" stroke="#fff" stroke-width="1.3" />
<polygon points="1168.0,333.9 1192.3,337.6 1191.9,353.1 1167.8,349.2" fill="none" stroke="#333" stroke-width="0.5" />
<polygon points="1167.7,353.5 1191.8,357.4 1191.6,365.8 1167.6,361.8" fill="#3c3c3c" stroke="none" stroke-width="0.8" />
<polygon points="1167.6,361.8 1191.6,365.8 1191.5,372.7 1167.5,368.6" fill="#b8b8b8" stroke="none" stroke-width="0.8" />
<line x1="1173.7" y1="354.5" x2="1173.4" y2="369.6" stroke="#fff" stroke-width="1.3" />
<line x1="1179.7" y1="355.5" x2="1179.4" y2="370.6" stroke="#fff" stroke-width="1.3" />
<line x1="1185.7" y1="356.4" x2="1185.4" y2="371.6" stroke="#fff" stroke-width="1.3" />
<polygon points="1167.7,353.5 1191.8,357.4 1191.5,372.7 1167.5,368.6" fill="none" stroke="#333" stroke-width="0.5" />
<polygon points="1167.5,372.8 1191.4,376.9 1191.2,385.2 1167.3,381.0" fill="#3c3c3c" stroke="none" stroke-width="0.8" />
<polygon points="1167.3,381.0 1191.2,385.2 1191.0,391.9 1167.3,387.6" fill="#b8b8b8" stroke="none" stroke-width="0.8" />
<line x1="1179.3" y1="374.8" x2="1179.1" y2="389.7" stroke="#fff" stroke-width="1.0" />
<polygon points="1167.5,372.8 1191.4,376.9 1191.0,391.9 1167.3,387.6" fill="none" stroke="#333" stroke-width="0.5" />
<polygon points="1196.9,338.3 1221.9,342.2 1221.6,350.8 1196.7,346.9" fill="#3c3c3c" stroke="none" stroke-width="0.8" />
<polygon points="1196.7,346.9 1221.6,350.8 1221.3,357.9 1196.5,353.8" fill="#b8b8b8" stroke="none" stroke-width="0.8" />
<line x1="1203.1" y1="339.3" x2="1202.7" y2="354.8" stroke="#fff" stroke-width="1.3" />
<line x1="1209.4" y1="340.3" x2="1208.9" y2="355.8" stroke="#fff" stroke-width="1.3" />
<line x1="1215.6" y1="341.2" x2="1215.1" y2="356.9" stroke="#fff" stroke-width="1.3" />
<polygon points="1196.9,338.3 1221.9,342.2 1221.3,357.9 1196.5,353.8" fill="none" stroke="#333" stroke-width="0.5" />
<polygon points="1196.4,358.2 1221.2,362.2 1220.9,370.7 1196.2,366.6" fill="#3c3c3c" stroke="none" stroke-width="0.8" />
<polygon points="1196.2,366.6 1220.9,370.7 1220.6,377.6 1196.0,373.4" fill="#b8b8b8" stroke="none" stroke-width="0.8" />
<line x1="1202.5" y1="359.2" x2="1202.1" y2="374.5" stroke="#fff" stroke-width="1.3" />
<line x1="1208.7" y1="360.2" x2="1208.2" y2="375.5" stroke="#fff" stroke-width="1.3" />
<line x1="1214.9" y1="361.2" x2="1214.4" y2="376.6" stroke="#fff" stroke-width="1.3" />
<polygon points="1196.4,358.2 1221.2,362.2 1220.6,377.6 1196.0,373.4" fill="none" stroke="#333" stroke-width="0.5" />
<polygon points="1195.9,377.7 1220.4,381.9 1220.1,390.3 1195.7,386.0" fill="#3c3c3c" stroke="none" stroke-width="0.8" />
<polygon points="1195.7,386.0 1220.1,390.3 1219.9,397.1 1195.5,392.7" fill="#b8b8b8" stroke="none" stroke-width="0.8" />
<line x1="1208.1" y1="379.8" x2="1207.6" y2="394.9" stroke="#fff" stroke-width="1.0" />
<polygon points="1195.9,377.7 1220.4,381.9 1219.9,397.1 1195.5,392.7" fill="none" stroke="#333" stroke-width="0.5" />
<polygon points="1226.7,342.9 1252.4,346.9 1251.9,355.6 1226.3,351.6" fill="#3c3c3c" stroke="none" stroke-width="0.8" />
<polygon points="1226.3,351.6 1251.9,355.6 1251.6,362.8 1226.1,358.6" fill="#b8b8b8" stroke="none" stroke-width="0.8" />
<line x1="1233.0" y1="343.9" x2="1232.4" y2="359.6" stroke="#fff" stroke-width="1.3" />
<line x1="1239.4" y1="344.9" x2="1238.7" y2="360.7" stroke="#fff" stroke-width="1.3" />
<line x1="1245.9" y1="345.9" x2="1245.1" y2="361.7" stroke="#fff" stroke-width="1.3" />
<polygon points="1226.7,342.9 1252.4,346.9 1251.6,362.8 1226.1,358.6" fill="none" stroke="#333" stroke-width="0.5" />
<polygon points="1225.9,363.0 1251.3,367.2 1250.9,375.8 1225.5,371.5" fill="#3c3c3c" stroke="none" stroke-width="0.8" />
<polygon points="1225.5,371.5 1250.9,375.8 1250.5,382.7 1225.3,378.4" fill="#b8b8b8" stroke="none" stroke-width="0.8" />
<line x1="1232.2" y1="364.0" x2="1231.5" y2="379.5" stroke="#fff" stroke-width="1.3" />
<line x1="1238.5" y1="365.1" x2="1237.8" y2="380.6" stroke="#fff" stroke-width="1.3" />
<line x1="1244.9" y1="366.1" x2="1244.2" y2="381.7" stroke="#fff" stroke-width="1.3" />
<polygon points="1225.9,363.0 1251.3,367.2 1250.5,382.7 1225.3,378.4" fill="none" stroke="#333" stroke-width="0.5" />
<polygon points="1225.1,382.7 1250.3,387.1 1249.9,395.5 1224.8,391.1" fill="#3c3c3c" stroke="none" stroke-width="0.8" />
<polygon points="1224.8,391.1 1249.9,395.5 1249.5,402.4 1224.5,397.9" fill="#b8b8b8" stroke="none" stroke-width="0.8" />
<line x1="1237.6" y1="384.9" x2="1236.9" y2="400.1" stroke="#fff" stroke-width="1.0" />
<polygon points="1225.1,382.7 1250.3,387.1 1249.5,402.4 1224.5,397.9" fill="none" stroke="#333" stroke-width="0.5" />
<polygon points="1264.4,331.6 1307.4,337.9 1303.6,405.0 1260.6,397.4" fill="#6c6c6c" stroke="#222" stroke-width="0.8" />
<polygon points="1262.0,372.4 1305.0,379.5 1303.6,405.0 1260.6,397.4" fill="#a0a0a0" stroke="none" stroke-width="0.8" />
<line x1="1264.4" y1="331.6" x2="1260.6" y2="397.4" stroke="#222" stroke-width="0.7" />
<line x1="1271.5" y1="332.6" x2="1267.7" y2="398.6" stroke="#222" stroke-width="0.7" />
<line x1="1278.5" y1="333.7" x2="1274.7" y2="399.9" stroke="#222" stroke-width="0.7" />
<line x1="1285.7" y1="334.7" x2="1281.9" y2="401.2" stroke="#222" stroke-width="0.7" />
<line x1="1292.9" y1="335.8" x2="1289.1" y2="402.4" stroke="#222" stroke-width="0.7" />
<line x1="1300.1" y1="336.8" x2="1296.3" y2="403.7" stroke="#222" stroke-width="0.7" />
<line x1="1307.4" y1="337.9" x2="1303.6" y2="405.0" stroke="#222" stroke-width="0.7" />
<line x1="1264.4" y1="331.6" x2="1307.4" y2="337.9" stroke="#2a2a2a" stroke-width="0.55" />
<line x1="1264.1" y1="337.6" x2="1307.1" y2="344.0" stroke="#2a2a2a" stroke-width="0.55" />
<line x1="1263.7" y1="343.5" x2="1306.7" y2="350.1" stroke="#2a2a2a" stroke-width="0.55" />
<line x1="1263.4" y1="349.5" x2="1306.4" y2="356.2" stroke="#2a2a2a" stroke-width="0.55" />
<line x1="1263.0" y1="355.5" x2="1306.0" y2="362.3" stroke="#2a2a2a" stroke-width="0.55" />
<line x1="1262.7" y1="361.5" x2="1305.7" y2="368.4" stroke="#2a2a2a" stroke-width="0.55" />
<line x1="1262.3" y1="367.5" x2="1305.3" y2="374.5" stroke="#2a2a2a" stroke-width="0.55" />
<line x1="1262.0" y1="373.4" x2="1305.0" y2="380.6" stroke="#2a2a2a" stroke-width="0.55" />
<line x1="1261.6" y1="379.4" x2="1304.6" y2="386.7" stroke="#2a2a2a" stroke-width="0.55" />
<line x1="1261.3" y1="385.4" x2="1304.3" y2="392.8" stroke="#2a2a2a" stroke-width="0.55" />
<line x1="1260.9" y1="391.4" x2="1303.9" y2="398.9" stroke="#2a2a2a" stroke-width="0.55" />
<line x1="1260.6" y1="397.4" x2="1303.6" y2="405.0" stroke="#2a2a2a" stroke-width="0.55" />
<polygon points="1264.4,331.6 1261.7,341.7 1258.0,408.5 1260.6,397.4" fill="#fff" stroke="#222" stroke-width="0.6" />
<polygon points="1317.8,320.6 1502.0,348.8 1494.5,378.5 1305.9,348.8" fill="#e9e9e9" stroke="#222" stroke-width="0.9" />
<polygon points="1480.0,350.0 1493.0,352.0 1492.0,358.5 1479.0,356.5" fill="#f6f6f6" stroke="#444" stroke-width="0.5" />
<line x1="1306.0" y1="349.6" x2="1494.5" y2="379.3" stroke="#111" stroke-width="1.5" />
<polygon points="1306.0,350.3 1490.0,380.0 1485.6,446.8 1306.0,414.1" fill="#fff" stroke="#222" stroke-width="0.9" />
<polygon points="1309.5,357.1 1341.0,362.3 1340.9,370.7 1309.5,365.5" fill="#3c3c3c" stroke="none" stroke-width="0.8" />
<polygon points="1309.5,365.5 1340.9,370.7 1340.9,377.5 1309.5,372.3" fill="#b8b8b8" stroke="none" stroke-width="0.8" />
<line x1="1317.3" y1="358.4" x2="1317.2" y2="373.6" stroke="#fff" stroke-width="1.3" />
<line x1="1325.2" y1="359.7" x2="1325.1" y2="374.9" stroke="#fff" stroke-width="1.3" />
<line x1="1333.1" y1="361.0" x2="1332.9" y2="376.2" stroke="#fff" stroke-width="1.3" />
<polygon points="1309.5,357.1 1341.0,362.3 1340.9,377.5 1309.5,372.3" fill="none" stroke="#333" stroke-width="0.5" />
<polygon points="1309.4,376.5 1340.8,381.8 1340.7,390.1 1309.4,384.7" fill="#3c3c3c" stroke="none" stroke-width="0.8" />
<polygon points="1309.4,384.7 1340.7,390.1 1340.6,396.9 1309.4,391.4" fill="#b8b8b8" stroke="none" stroke-width="0.8" />
<line x1="1317.2" y1="377.8" x2="1317.2" y2="392.8" stroke="#fff" stroke-width="1.3" />
<line x1="1325.0" y1="379.1" x2="1324.9" y2="394.1" stroke="#fff" stroke-width="1.3" />
<line x1="1332.9" y1="380.5" x2="1332.8" y2="395.5" stroke="#fff" stroke-width="1.3" />
<polygon points="1309.4,376.5 1340.8,381.8 1340.6,396.9 1309.4,391.4" fill="none" stroke="#333" stroke-width="0.5" />
<polygon points="1309.4,395.6 1340.6,401.1 1340.5,409.3 1309.4,403.7" fill="#3c3c3c" stroke="none" stroke-width="0.8" />
<polygon points="1309.4,403.7 1340.5,409.3 1340.4,415.9 1309.4,410.3" fill="#b8b8b8" stroke="none" stroke-width="0.8" />
<line x1="1324.9" y1="398.3" x2="1324.8" y2="413.1" stroke="#fff" stroke-width="1.0" />
<polygon points="1309.4,395.6 1340.6,401.1 1340.4,415.9 1309.4,410.3" fill="none" stroke="#333" stroke-width="0.5" />
<polygon points="1350.8,363.9 1382.3,369.0 1382.1,377.5 1350.7,372.3" fill="#3c3c3c" stroke="none" stroke-width="0.8" />
<polygon points="1350.7,372.3 1382.1,377.5 1381.9,384.5 1350.6,379.2" fill="#b8b8b8" stroke="none" stroke-width="0.8" />
<line x1="1358.6" y1="365.2" x2="1358.4" y2="380.5" stroke="#fff" stroke-width="1.3" />
<line x1="1366.5" y1="366.4" x2="1366.2" y2="381.8" stroke="#fff" stroke-width="1.3" />
<line x1="1374.4" y1="367.7" x2="1374.0" y2="383.1" stroke="#fff" stroke-width="1.3" />
<polygon points="1350.8,363.9 1382.3,369.0 1381.9,384.5 1350.6,379.2" fill="none" stroke="#333" stroke-width="0.5" />
<polygon points="1350.5,383.5 1381.8,388.8 1381.6,397.2 1350.4,391.8" fill="#3c3c3c" stroke="none" stroke-width="0.8" />
<polygon points="1350.4,391.8 1381.6,397.2 1381.4,404.0 1350.3,398.6" fill="#b8b8b8" stroke="none" stroke-width="0.8" />
<line x1="1358.3" y1="384.8" x2="1358.0" y2="399.9" stroke="#fff" stroke-width="1.3" />
<line x1="1366.1" y1="386.1" x2="1365.8" y2="401.3" stroke="#fff" stroke-width="1.3" />
<line x1="1373.9" y1="387.4" x2="1373.6" y2="402.6" stroke="#fff" stroke-width="1.3" />
<polygon points="1350.5,383.5 1381.8,388.8 1381.4,404.0 1350.3,398.6" fill="none" stroke="#333" stroke-width="0.5" />
<polygon points="1350.2,402.8 1381.3,408.3 1381.1,416.5 1350.1,411.0" fill="#3c3c3c" stroke="none" stroke-width="0.8" />
<polygon points="1350.1,411.0 1381.1,416.5 1380.9,423.3 1350.0,417.7" fill="#b8b8b8" stroke="none" stroke-width="0.8" />
<line x1="1365.7" y1="405.5" x2="1365.3" y2="420.4" stroke="#fff" stroke-width="1.0" />
<polygon points="1350.2,402.8 1381.3,408.3 1380.9,423.3 1350.0,417.7" fill="none" stroke="#333" stroke-width="0.5" />
<polygon points="1388.7,370.1 1417.3,374.7 1417.0,383.3 1388.5,378.6" fill="#3c3c3c" stroke="none" stroke-width="0.8" />
<polygon points="1388.5,378.6 1417.0,383.3 1416.7,390.3 1388.3,385.5" fill="#b8b8b8" stroke="none" stroke-width="0.8" />
<line x1="1395.8" y1="371.2" x2="1395.3" y2="386.7" stroke="#fff" stroke-width="1.3" />
<line x1="1402.9" y1="372.4" x2="1402.4" y2="387.9" stroke="#fff" stroke-width="1.3" />
<line x1="1410.1" y1="373.6" x2="1409.5" y2="389.1" stroke="#fff" stroke-width="1.3" />
<polygon points="1388.7,370.1 1417.3,374.7 1416.7,390.3 1388.3,385.5" fill="none" stroke="#333" stroke-width="0.5" />
<polygon points="1388.1,389.9 1416.5,394.7 1416.2,403.1 1387.9,398.3" fill="#3c3c3c" stroke="none" stroke-width="0.8" />
<polygon points="1387.9,398.3 1416.2,403.1 1415.9,410.0 1387.7,405.1" fill="#b8b8b8" stroke="none" stroke-width="0.8" />
<line x1="1395.2" y1="391.1" x2="1394.7" y2="406.3" stroke="#fff" stroke-width="1.3" />
<line x1="1402.3" y1="392.3" x2="1401.7" y2="407.5" stroke="#fff" stroke-width="1.3" />
<line x1="1409.4" y1="393.5" x2="1408.8" y2="408.8" stroke="#fff" stroke-width="1.3" />
<polygon points="1388.1,389.9 1416.5,394.7 1415.9,410.0 1387.7,405.1" fill="none" stroke="#333" stroke-width="0.5" />
<polygon points="1387.6,409.4 1415.7,414.3 1415.4,422.7 1387.3,417.6" fill="#3c3c3c" stroke="none" stroke-width="0.8" />
<polygon points="1387.3,417.6 1415.4,422.7 1415.1,429.4 1387.1,424.4" fill="#b8b8b8" stroke="none" stroke-width="0.8" />
<line x1="1401.6" y1="411.8" x2="1401.1" y2="426.9" stroke="#fff" stroke-width="1.0" />
<polygon points="1387.6,409.4 1415.7,414.3 1415.1,429.4 1387.1,424.4" fill="none" stroke="#333" stroke-width="0.5" />
<polygon points="1423.8,375.8 1451.1,380.3 1450.7,388.9 1423.5,384.4" fill="#3c3c3c" stroke="none" stroke-width="0.8" />
<polygon points="1423.5,384.4 1450.7,388.9 1450.3,396.0 1423.2,391.4" fill="#b8b8b8" stroke="none" stroke-width="0.8" />
<line x1="1430.6" y1="376.9" x2="1429.9" y2="392.5" stroke="#fff" stroke-width="1.3" />
<line x1="1437.4" y1="378.0" x2="1436.7" y2="393.7" stroke="#fff" stroke-width="1.3" />
<line x1="1444.3" y1="379.1" x2="1443.5" y2="394.8" stroke="#fff" stroke-width="1.3" />
<polygon points="1423.8,375.8 1451.1,380.3 1450.3,396.0 1423.2,391.4" fill="none" stroke="#333" stroke-width="0.5" />
<polygon points="1423.0,395.8 1450.1,400.4 1449.6,408.9 1422.6,404.2" fill="#3c3c3c" stroke="none" stroke-width="0.8" />
<polygon points="1422.6,404.2 1449.6,408.9 1449.3,415.8 1422.3,411.1" fill="#b8b8b8" stroke="none" stroke-width="0.8" />
<line x1="1429.7" y1="396.9" x2="1429.0" y2="412.3" stroke="#fff" stroke-width="1.3" />
<line x1="1436.5" y1="398.1" x2="1435.8" y2="413.5" stroke="#fff" stroke-width="1.3" />
<line x1="1443.3" y1="399.2" x2="1442.5" y2="414.7" stroke="#fff" stroke-width="1.3" />
<polygon points="1423.0,395.8 1450.1,400.4 1449.3,415.8 1422.3,411.1" fill="none" stroke="#333" stroke-width="0.5" />
<polygon points="1422.2,415.4 1449.1,420.2 1448.6,428.6 1421.8,423.8" fill="#3c3c3c" stroke="none" stroke-width="0.8" />
<polygon points="1421.8,423.8 1448.6,428.6 1448.3,435.4 1421.5,430.6" fill="#b8b8b8" stroke="none" stroke-width="0.8" />
<line x1="1435.5" y1="417.8" x2="1434.8" y2="433.0" stroke="#fff" stroke-width="1.0" />
<polygon points="1422.2,415.4 1449.1,420.2 1448.3,435.4 1421.5,430.6" fill="none" stroke="#333" stroke-width="0.5" />
<polygon points="1458.7,381.5 1485.7,385.9 1484.7,401.8 1457.9,397.2" fill="#c4c4c4" stroke="#555" stroke-width="0.6" />
<polygon points="1457.6,401.6 1484.4,406.2 1483.4,421.8 1456.8,417.2" fill="#c4c4c4" stroke="#555" stroke-width="0.6" />
<polygon points="1456.6,421.5 1483.1,426.2 1482.1,441.5 1455.7,436.8" fill="#c4c4c4" stroke="#555" stroke-width="0.6" />
<polygon points="1494.5,378.5 1510.9,381.5 1505.0,451.3 1488.0,446.0" fill="#666" stroke="#222" stroke-width="0.8" />
<polygon points="1490.5,419.6 1507.3,424.0 1505.0,451.3 1488.0,446.0" fill="#a0a0a0" stroke="none" stroke-width="0.8" />
<line x1="1494.5" y1="378.5" x2="1488.0" y2="446.0" stroke="#222" stroke-width="0.7" />
<line x1="1499.9" y1="379.5" x2="1493.5" y2="447.7" stroke="#222" stroke-width="0.7" />
<line x1="1505.3" y1="380.5" x2="1499.2" y2="449.5" stroke="#222" stroke-width="0.7" />
<line x1="1510.9" y1="381.5" x2="1505.0" y2="451.3" stroke="#222" stroke-width="0.7" />
<line x1="1494.5" y1="378.5" x2="1510.9" y2="381.5" stroke="#2a2a2a" stroke-width="0.55" />
<line x1="1493.9" y1="384.4" x2="1510.4" y2="387.6" stroke="#2a2a2a" stroke-width="0.55" />
<line x1="1493.4" y1="390.3" x2="1509.9" y2="393.7" stroke="#2a2a2a" stroke-width="0.55" />
<line x1="1492.8" y1="396.3" x2="1509.3" y2="399.9" stroke="#2a2a2a" stroke-width="0.55" />
<line x1="1492.2" y1="402.3" x2="1508.8" y2="406.1" stroke="#2a2a2a" stroke-width="0.55" />
<line x1="1491.6" y1="408.4" x2="1508.3" y2="412.4" stroke="#2a2a2a" stroke-width="0.55" />
<line x1="1491.0" y1="414.5" x2="1507.8" y2="418.7" stroke="#2a2a2a" stroke-width="0.55" />
<line x1="1490.4" y1="420.7" x2="1507.2" y2="425.1" stroke="#2a2a2a" stroke-width="0.55" />
<line x1="1489.8" y1="427.0" x2="1506.7" y2="431.6" stroke="#2a2a2a" stroke-width="0.55" />
<line x1="1489.2" y1="433.3" x2="1506.1" y2="438.1" stroke="#2a2a2a" stroke-width="0.55" />
<line x1="1488.6" y1="439.6" x2="1505.6" y2="444.7" stroke="#2a2a2a" stroke-width="0.55" />
<line x1="1488.0" y1="446.0" x2="1505.0" y2="451.3" stroke="#2a2a2a" stroke-width="0.55" />
<polygon points="1521.3,351.8 1617.8,366.6 1611.9,396.3 1510.9,380.0" fill="#e9e9e9" stroke="#222" stroke-width="0.9" />
<line x1="1510.9" y1="380.8" x2="1611.9" y2="397.0" stroke="#111" stroke-width="1.5" />
<polygon points="1510.9,381.5 1611.9,397.8 1603.0,464.6 1505.0,451.3" fill="#fff" stroke="#222" stroke-width="0.9" />
<polygon points="1514.5,389.1 1541.3,393.3 1540.4,402.4 1513.7,398.2" fill="#3c3c3c" stroke="none" stroke-width="0.8" />
<polygon points="1513.7,398.2 1540.4,402.4 1539.7,409.8 1513.1,405.7" fill="#b8b8b8" stroke="none" stroke-width="0.8" />
<line x1="1521.2" y1="390.1" x2="1519.8" y2="406.7" stroke="#fff" stroke-width="1.3" />
<line x1="1528.0" y1="391.2" x2="1526.4" y2="407.7" stroke="#fff" stroke-width="1.3" />
<line x1="1534.7" y1="392.3" x2="1533.1" y2="408.7" stroke="#fff" stroke-width="1.3" />
<polygon points="1514.5,389.1 1541.3,393.3 1539.7,409.8 1513.1,405.7" fill="none" stroke="#333" stroke-width="0.5" />
<polygon points="1512.7,410.3 1539.2,414.3 1538.3,423.2 1511.9,419.3" fill="#3c3c3c" stroke="none" stroke-width="0.8" />
<polygon points="1511.9,419.3 1538.3,423.2 1537.6,430.4 1511.2,426.6" fill="#b8b8b8" stroke="none" stroke-width="0.8" />
<line x1="1519.3" y1="411.3" x2="1517.9" y2="427.6" stroke="#fff" stroke-width="1.3" />
<line x1="1526.0" y1="412.3" x2="1524.5" y2="428.5" stroke="#fff" stroke-width="1.3" />
<line x1="1532.6" y1="413.3" x2="1531.1" y2="429.5" stroke="#fff" stroke-width="1.3" />
<polygon points="1512.7,410.3 1539.2,414.3 1537.6,430.4 1511.2,426.6" fill="none" stroke="#333" stroke-width="0.5" />
<polygon points="1510.8,431.2 1537.2,434.9 1536.3,443.6 1510.1,440.0" fill="#3c3c3c" stroke="none" stroke-width="0.8" />
<polygon points="1510.1,440.0 1536.3,443.6 1535.6,450.7 1509.5,447.1" fill="#b8b8b8" stroke="none" stroke-width="0.8" />
<line x1="1524.1" y1="433.1" x2="1522.6" y2="448.9" stroke="#fff" stroke-width="1.0" />
<polygon points="1510.8,431.2 1537.2,434.9 1535.6,450.7 1509.5,447.1" fill="none" stroke="#333" stroke-width="0.5" />
<polygon points="1548.5,394.5 1574.6,398.6 1573.6,407.6 1547.5,403.5" fill="#3c3c3c" stroke="none" stroke-width="0.8" />
<polygon points="1547.5,403.5 1573.6,407.6 1572.8,414.8 1546.8,410.8" fill="#b8b8b8" stroke="none" stroke-width="0.8" />
<line x1="1555.0" y1="395.5" x2="1553.3" y2="411.8" stroke="#fff" stroke-width="1.3" />
<line x1="1561.6" y1="396.6" x2="1559.8" y2="412.8" stroke="#fff" stroke-width="1.3" />
<line x1="1568.1" y1="397.6" x2="1566.3" y2="413.8" stroke="#fff" stroke-width="1.3" />
<polygon points="1548.5,394.5 1574.6,398.6 1572.8,414.8 1546.8,410.8" fill="none" stroke="#333" stroke-width="0.5" />
<polygon points="1546.3,415.4 1572.2,419.3 1571.2,428.1 1545.4,424.3" fill="#3c3c3c" stroke="none" stroke-width="0.8" />
<polygon points="1545.4,424.3 1571.2,428.1 1570.4,435.2 1544.7,431.5" fill="#b8b8b8" stroke="none" stroke-width="0.8" />
<line x1="1552.8" y1="416.4" x2="1551.1" y2="432.4" stroke="#fff" stroke-width="1.3" />
<line x1="1559.3" y1="417.4" x2="1557.6" y2="433.3" stroke="#fff" stroke-width="1.3" />
<line x1="1565.8" y1="418.4" x2="1564.0" y2="434.3" stroke="#fff" stroke-width="1.3" />
<polygon points="1546.3,415.4 1572.2,419.3 1570.4,435.2 1544.7,431.5" fill="none" stroke="#333" stroke-width="0.5" />
<polygon points="1544.2,435.9 1569.9,439.6 1568.9,448.2 1543.3,444.6" fill="#3c3c3c" stroke="none" stroke-width="0.8" />
<polygon points="1543.3,444.6 1568.9,448.2 1568.1,455.2 1542.6,451.7" fill="#b8b8b8" stroke="none" stroke-width="0.8" />
<line x1="1557.1" y1="437.8" x2="1555.4" y2="453.4" stroke="#fff" stroke-width="1.0" />
<polygon points="1544.2,435.9 1569.9,439.6 1568.1,455.2 1542.6,451.7" fill="none" stroke="#333" stroke-width="0.5" />
<polygon points="1581.6,399.7 1607.1,403.8 1606.0,412.6 1580.5,408.6" fill="#3c3c3c" stroke="none" stroke-width="0.8" />
<polygon points="1580.5,408.6 1606.0,412.6 1605.0,419.7 1579.7,415.9" fill="#b8b8b8" stroke="none" stroke-width="0.8" />
<line x1="1588.0" y1="400.7" x2="1586.1" y2="416.8" stroke="#fff" stroke-width="1.3" />
<line x1="1594.4" y1="401.8" x2="1592.4" y2="417.8" stroke="#fff" stroke-width="1.3" />
<line x1="1600.8" y1="402.8" x2="1598.7" y2="418.8" stroke="#fff" stroke-width="1.3" />
<polygon points="1581.6,399.7 1607.1,403.8 1605.0,419.7 1579.7,415.9" fill="none" stroke="#333" stroke-width="0.5" />
<polygon points="1579.1,420.4 1604.5,424.2 1603.3,432.8 1578.1,429.1" fill="#3c3c3c" stroke="none" stroke-width="0.8" />
<polygon points="1578.1,429.1 1603.3,432.8 1602.4,439.8 1577.3,436.2" fill="#b8b8b8" stroke="none" stroke-width="0.8" />
<line x1="1585.5" y1="421.3" x2="1583.6" y2="437.1" stroke="#fff" stroke-width="1.3" />
<line x1="1591.9" y1="422.3" x2="1589.9" y2="438.0" stroke="#fff" stroke-width="1.3" />
<line x1="1598.2" y1="423.2" x2="1596.2" y2="438.9" stroke="#fff" stroke-width="1.3" />
<polygon points="1579.1,420.4 1604.5,424.2 1602.4,439.8 1577.3,436.2" fill="none" stroke="#333" stroke-width="0.5" />
<polygon points="1576.7,440.6 1601.8,444.2 1600.7,452.7 1575.7,449.2" fill="#3c3c3c" stroke="none" stroke-width="0.8" />
<polygon points="1575.7,449.2 1600.7,452.7 1599.8,459.5 1574.9,456.1" fill="#b8b8b8" stroke="none" stroke-width="0.8" />
<line x1="1589.3" y1="442.4" x2="1587.4" y2="457.8" stroke="#fff" stroke-width="1.0" />
<polygon points="1576.7,440.6 1601.8,444.2 1599.8,459.5 1574.9,456.1" fill="none" stroke="#333" stroke-width="0.5" />
<polygon points="1613.0,387.5 1660.9,393.0 1650.0,478.0 1604.0,466.0" fill="#626262" stroke="#222" stroke-width="0.8" />
<polygon points="1607.4,436.6 1654.1,446.2 1650.0,478.0 1604.0,466.0" fill="#a0a0a0" stroke="none" stroke-width="0.8" />
<line x1="1613.0" y1="387.5" x2="1604.0" y2="466.0" stroke="#222" stroke-width="0.7" />
<line x1="1620.4" y1="388.4" x2="1611.2" y2="467.9" stroke="#222" stroke-width="0.7" />
<line x1="1628.1" y1="389.2" x2="1618.5" y2="469.8" stroke="#222" stroke-width="0.7" />
<line x1="1636.0" y1="390.1" x2="1626.1" y2="471.8" stroke="#222" stroke-width="0.7" />
<line x1="1644.0" y1="391.1" x2="1633.8" y2="473.8" stroke="#222" stroke-width="0.7" />
<line x1="1652.3" y1="392.0" x2="1641.8" y2="475.9" stroke="#222" stroke-width="0.7" />
<line x1="1660.9" y1="393.0" x2="1650.0" y2="478.0" stroke="#222" stroke-width="0.7" />
<line x1="1613.0" y1="387.5" x2="1660.9" y2="393.0" stroke="#2a2a2a" stroke-width="0.55" />
<line x1="1612.2" y1="394.8" x2="1659.9" y2="400.9" stroke="#2a2a2a" stroke-width="0.55" />
<line x1="1611.3" y1="402.0" x2="1658.9" y2="408.8" stroke="#2a2a2a" stroke-width="0.55" />
<line x1="1610.5" y1="409.3" x2="1657.9" y2="416.6" stroke="#2a2a2a" stroke-width="0.55" />
<line x1="1609.7" y1="416.4" x2="1656.9" y2="424.4" stroke="#2a2a2a" stroke-width="0.55" />
<line x1="1608.9" y1="423.6" x2="1655.9" y2="432.1" stroke="#2a2a2a" stroke-width="0.55" />
<line x1="1608.0" y1="430.7" x2="1654.9" y2="439.9" stroke="#2a2a2a" stroke-width="0.55" />
<line x1="1607.2" y1="437.9" x2="1653.9" y2="447.6" stroke="#2a2a2a" stroke-width="0.55" />
<line x1="1606.4" y1="444.9" x2="1652.9" y2="455.2" stroke="#2a2a2a" stroke-width="0.55" />
<line x1="1605.6" y1="452.0" x2="1651.9" y2="462.8" stroke="#2a2a2a" stroke-width="0.55" />
<line x1="1604.8" y1="459.0" x2="1651.0" y2="470.4" stroke="#2a2a2a" stroke-width="0.55" />
<line x1="1604.0" y1="466.0" x2="1650.0" y2="478.0" stroke="#2a2a2a" stroke-width="0.55" />
<polygon points="1675.7,334.0 1718.8,347.3 1705.4,415.6 1660.9,400.8" fill="#e9e9e9" stroke="#222" stroke-width="0.9" />
<polygon points="1660.9,400.8 1705.4,415.6 1705.4,417.1 1660.9,411.2 1661.0,404.0" fill="#d6d6d6" stroke="#333" stroke-width="0.6" />
<polygon points="1718.8,347.3 1722.0,349.0 1700.0,484.0 1695.0,482.5 1705.4,417.1" fill="#f2f2f2" stroke="#222" stroke-width="0.7" />
<polygon points="1660.9,411.2 1705.4,417.1 1695.0,482.5 1649.0,476.5" fill="#fff" stroke="#222" stroke-width="0.9" />
<polygon points="1664.3,417.9 1700.0,422.6 1698.6,430.8 1662.8,426.1" fill="#3c3c3c" stroke="none" stroke-width="0.8" />
<polygon points="1662.8,426.1 1698.6,430.8 1697.6,437.6 1661.6,432.9" fill="#b8b8b8" stroke="none" stroke-width="0.8" />
<line x1="1673.2" y1="419.1" x2="1670.6" y2="434.1" stroke="#fff" stroke-width="1.3" />
<line x1="1682.1" y1="420.2" x2="1679.6" y2="435.2" stroke="#fff" stroke-width="1.3" />
<line x1="1691.1" y1="421.4" x2="1688.6" y2="436.4" stroke="#fff" stroke-width="1.3" />
<polygon points="1664.3,417.9 1700.0,422.6 1697.6,437.6 1661.6,432.9" fill="none" stroke="#333" stroke-width="0.5" />
<polygon points="1660.8,437.1 1696.9,441.9 1695.5,450.3 1659.3,445.5" fill="#3c3c3c" stroke="none" stroke-width="0.8" />
<polygon points="1659.3,445.5 1695.5,450.3 1694.4,457.2 1658.0,452.4" fill="#b8b8b8" stroke="none" stroke-width="0.8" />
<line x1="1669.8" y1="438.3" x2="1667.1" y2="453.6" stroke="#fff" stroke-width="1.3" />
<line x1="1678.8" y1="439.5" x2="1676.2" y2="454.8" stroke="#fff" stroke-width="1.3" />
<line x1="1687.9" y1="440.7" x2="1685.3" y2="456.0" stroke="#fff" stroke-width="1.3" />
<polygon points="1660.8,437.1 1696.9,441.9 1694.4,457.2 1658.0,452.4" fill="none" stroke="#333" stroke-width="0.5" />
<polygon points="1657.3,456.8 1693.7,461.6 1692.3,470.1 1655.7,465.3" fill="#3c3c3c" stroke="none" stroke-width="0.8" />
<polygon points="1655.7,465.3 1692.3,470.1 1691.2,477.2 1654.5,472.4" fill="#b8b8b8" stroke="none" stroke-width="0.8" />
<line x1="1675.5" y1="459.2" x2="1672.8" y2="474.8" stroke="#fff" stroke-width="1.0" />
<polygon points="1657.3,456.8 1693.7,461.6 1691.2,477.2 1654.5,472.4" fill="none" stroke="#333" stroke-width="0.5" />
<clipPath id="cpS1"><polygon points="1000.0,362.0 1035.2,368.7 1096.0,380.7 1109.5,381.5 1258.0,408.5 1303.6,405.0 1306.0,414.1 1485.6,446.8 1505.0,451.3 1603.0,464.6 1650.0,478.0 1695.0,482.5 1721.0,490.0 1710.0,660.0 1236.0,574.0 1140.0,552.0 1060.0,505.0 985.0,486.0 1000.0,410.0"/></clipPath>
<g clip-path="url(#cpS1)">
<rect x="960" y="340" width="800" height="350" fill="#eeeeee"/>
<polygon points="1546.5,479.5 1721.0,508.0 1708.6,668.0 1500.0,625.0" fill="#dadada" stroke="none" stroke-width="0.8" />
<polygon points="1000.0,362.0 1013.6,364.4 968.3,474.1 955.0,470.0" fill="#d0d0d0" stroke="none" stroke-width="0.8" />
<polygon points="1030.8,367.4 1045.3,370.0 999.5,483.7 985.2,479.3" fill="#d0d0d0" stroke="none" stroke-width="0.8" />
<polygon points="1063.7,373.2 1079.2,375.9 1033.0,494.1 1017.6,489.3" fill="#d0d0d0" stroke="none" stroke-width="0.8" />
<polygon points="1099.0,379.4 1115.7,382.3 1068.9,505.2 1052.4,500.1" fill="#d0d0d0" stroke="none" stroke-width="0.8" />
<polygon points="1136.9,386.0 1154.9,389.2 1107.8,517.2 1089.9,511.7" fill="#d0d0d0" stroke="none" stroke-width="0.8" />
<polygon points="1177.7,393.2 1197.2,396.6 1149.8,530.1 1130.4,524.2" fill="#d0d0d0" stroke="none" stroke-width="0.8" />
<polygon points="1221.9,401.0 1242.9,404.7 1195.3,544.2 1174.4,537.7" fill="#d0d0d0" stroke="none" stroke-width="0.8" />
<polygon points="1269.8,409.4 1292.6,413.4 1245.0,559.5 1222.1,552.5" fill="#d0d0d0" stroke="none" stroke-width="0.8" />
<polygon points="1321.8,418.5 1346.8,422.9 1299.3,576.3 1274.3,568.6" fill="#d0d0d0" stroke="none" stroke-width="0.8" />
<polygon points="1378.7,428.5 1406.0,433.3 1359.0,594.7 1331.4,586.2" fill="#d0d0d0" stroke="none" stroke-width="0.8" />
<polygon points="1441.0,439.5 1471.1,444.8 1424.8,615.0 1394.3,605.6" fill="#d0d0d0" stroke="none" stroke-width="0.8" />
<polygon points="1509.7,451.5 1542.9,457.4 1497.7,637.6 1463.9,627.1" fill="#d0d0d0" stroke="none" stroke-width="0.8" />
<polygon points="1585.6,464.9 1622.5,471.4 1579.1,662.7 1541.4,651.0" fill="#d0d0d0" stroke="none" stroke-width="0.8" />
<polygon points="1670.1,479.7 1711.3,487.0 1670.4,690.9 1628.0,677.8" fill="#d0d0d0" stroke="none" stroke-width="0.8" />
<line x1="1000.0" y1="362.0" x2="1740.0" y2="492.0" stroke="#c0c0c0" stroke-width="0.4" />
<line x1="999.7" y1="362.7" x2="1739.7" y2="493.3" stroke="#c0c0c0" stroke-width="0.4" />
<line x1="999.4" y1="363.4" x2="1739.5" y2="494.6" stroke="#c0c0c0" stroke-width="0.4" />
<line x1="999.1" y1="364.1" x2="1739.2" y2="495.9" stroke="#c0c0c0" stroke-width="0.4" />
<line x1="998.8" y1="364.8" x2="1739.0" y2="497.2" stroke="#c0c0c0" stroke-width="0.4" />
<line x1="998.5" y1="365.5" x2="1738.7" y2="498.6" stroke="#c0c0c0" stroke-width="0.4" />
<line x1="998.3" y1="366.2" x2="1738.5" y2="499.9" stroke="#c0c0c0" stroke-width="0.4" />
<line x1="998.0" y1="366.9" x2="1738.2" y2="501.2" stroke="#c0c0c0" stroke-width="0.4" />
<line x1="997.7" y1="367.6" x2="1738.0" y2="502.5" stroke="#c0c0c0" stroke-width="0.4" />
<line x1="997.4" y1="368.3" x2="1737.7" y2="503.8" stroke="#c0c0c0" stroke-width="0.4" />
<line x1="997.1" y1="369.0" x2="1737.5" y2="505.1" stroke="#c0c0c0" stroke-width="0.4" />
<line x1="996.8" y1="369.7" x2="1737.2" y2="506.5" stroke="#c0c0c0" stroke-width="0.4" />
<line x1="996.5" y1="370.4" x2="1737.0" y2="507.8" stroke="#c0c0c0" stroke-width="0.4" />
<line x1="996.2" y1="371.1" x2="1736.7" y2="509.1" stroke="#c0c0c0" stroke-width="0.4" />
<line x1="995.9" y1="371.8" x2="1736.5" y2="510.4" stroke="#c0c0c0" stroke-width="0.4" />
<line x1="995.6" y1="372.5" x2="1736.2" y2="511.8" stroke="#c0c0c0" stroke-width="0.4" />
<line x1="995.3" y1="373.2" x2="1735.9" y2="513.1" stroke="#c0c0c0" stroke-width="0.4" />
<line x1="995.0" y1="373.9" x2="1735.7" y2="514.4" stroke="#c0c0c0" stroke-width="0.4" />
<line x1="994.7" y1="374.6" x2="1735.4" y2="515.7" stroke="#c0c0c0" stroke-width="0.4" />
<line x1="994.5" y1="375.3" x2="1735.2" y2="517.1" stroke="#c0c0c0" stroke-width="0.4" />
<line x1="994.2" y1="376.0" x2="1734.9" y2="518.4" stroke="#c0c0c0" stroke-width="0.4" />
<line x1="993.9" y1="376.7" x2="1734.7" y2="519.7" stroke="#c0c0c0" stroke-width="0.4" />
<line x1="993.6" y1="377.4" x2="1734.4" y2="521.1" stroke="#c0c0c0" stroke-width="0.4" />
<line x1="993.3" y1="378.1" x2="1734.2" y2="522.4" stroke="#c0c0c0" stroke-width="0.4" />
<line x1="993.0" y1="378.8" x2="1733.9" y2="523.7" stroke="#c0c0c0" stroke-width="0.4" />
<line x1="992.7" y1="379.5" x2="1733.6" y2="525.0" stroke="#c0c0c0" stroke-width="0.4" />
<line x1="992.4" y1="380.2" x2="1733.4" y2="526.4" stroke="#c0c0c0" stroke-width="0.4" />
<line x1="992.1" y1="380.9" x2="1733.1" y2="527.7" stroke="#c0c0c0" stroke-width="0.4" />
<line x1="991.8" y1="381.7" x2="1732.9" y2="529.1" stroke="#c0c0c0" stroke-width="0.4" />
<line x1="991.5" y1="382.4" x2="1732.6" y2="530.4" stroke="#c0c0c0" stroke-width="0.4" />
<line x1="991.2" y1="383.1" x2="1732.4" y2="531.7" stroke="#c0c0c0" stroke-width="0.4" />
<line x1="990.9" y1="383.8" x2="1732.1" y2="533.1" stroke="#c0c0c0" stroke-width="0.4" />
<line x1="990.6" y1="384.5" x2="1731.8" y2="534.4" stroke="#c0c0c0" stroke-width="0.4" />
<line x1="990.3" y1="385.2" x2="1731.6" y2="535.8" stroke="#c0c0c0" stroke-width="0.4" />
<line x1="990.0" y1="385.9" x2="1731.3" y2="537.1" stroke="#c0c0c0" stroke-width="0.4" />
<line x1="989.7" y1="386.6" x2="1731.1" y2="538.4" stroke="#c0c0c0" stroke-width="0.4" />
<line x1="989.5" y1="387.3" x2="1730.8" y2="539.8" stroke="#c0c0c0" stroke-width="0.4" />
<line x1="989.2" y1="388.0" x2="1730.6" y2="541.1" stroke="#c0c0c0" stroke-width="0.4" />
<line x1="988.9" y1="388.7" x2="1730.3" y2="542.5" stroke="#c0c0c0" stroke-width="0.4" />
<line x1="988.6" y1="389.4" x2="1730.0" y2="543.8" stroke="#c0c0c0" stroke-width="0.4" />
<line x1="988.3" y1="390.1" x2="1729.8" y2="545.2" stroke="#c0c0c0" stroke-width="0.4" />
<line x1="988.0" y1="390.9" x2="1729.5" y2="546.5" stroke="#c0c0c0" stroke-width="0.4" />
<line x1="987.7" y1="391.6" x2="1729.3" y2="547.9" stroke="#c0c0c0" stroke-width="0.4" />
<line x1="987.4" y1="392.3" x2="1729.0" y2="549.2" stroke="#c0c0c0" stroke-width="0.4" />
<line x1="987.1" y1="393.0" x2="1728.7" y2="550.6" stroke="#c0c0c0" stroke-width="0.4" />
<line x1="986.8" y1="393.7" x2="1728.5" y2="551.9" stroke="#c0c0c0" stroke-width="0.4" />
<line x1="986.5" y1="394.4" x2="1728.2" y2="553.3" stroke="#c0c0c0" stroke-width="0.4" />
<line x1="986.2" y1="395.1" x2="1728.0" y2="554.6" stroke="#c0c0c0" stroke-width="0.4" />
<line x1="985.9" y1="395.8" x2="1727.7" y2="556.0" stroke="#c0c0c0" stroke-width="0.4" />
<line x1="985.6" y1="396.5" x2="1727.4" y2="557.4" stroke="#c0c0c0" stroke-width="0.4" />
<line x1="985.3" y1="397.3" x2="1727.2" y2="558.7" stroke="#c0c0c0" stroke-width="0.4" />
<line x1="985.0" y1="398.0" x2="1726.9" y2="560.1" stroke="#c0c0c0" stroke-width="0.4" />
<line x1="984.7" y1="398.7" x2="1726.6" y2="561.4" stroke="#c0c0c0" stroke-width="0.4" />
<line x1="984.4" y1="399.4" x2="1726.4" y2="562.8" stroke="#c0c0c0" stroke-width="0.4" />
<line x1="984.1" y1="400.1" x2="1726.1" y2="564.2" stroke="#c0c0c0" stroke-width="0.4" />
<line x1="983.8" y1="400.8" x2="1725.9" y2="565.5" stroke="#c0c0c0" stroke-width="0.4" />
<line x1="983.5" y1="401.5" x2="1725.6" y2="566.9" stroke="#c0c0c0" stroke-width="0.4" />
<line x1="983.2" y1="402.2" x2="1725.3" y2="568.3" stroke="#c0c0c0" stroke-width="0.4" />
<line x1="982.9" y1="403.0" x2="1725.1" y2="569.6" stroke="#c0c0c0" stroke-width="0.4" />
<line x1="982.6" y1="403.7" x2="1724.8" y2="571.0" stroke="#c0c0c0" stroke-width="0.4" />
<line x1="982.3" y1="404.4" x2="1724.5" y2="572.4" stroke="#c0c0c0" stroke-width="0.4" />
<line x1="982.0" y1="405.1" x2="1724.3" y2="573.7" stroke="#c0c0c0" stroke-width="0.4" />
<line x1="981.7" y1="405.8" x2="1724.0" y2="575.1" stroke="#c0c0c0" stroke-width="0.4" />
<line x1="981.4" y1="406.5" x2="1723.8" y2="576.5" stroke="#c0c0c0" stroke-width="0.4" />
<line x1="981.1" y1="407.3" x2="1723.5" y2="577.9" stroke="#c0c0c0" stroke-width="0.4" />
<line x1="980.8" y1="408.0" x2="1723.2" y2="579.2" stroke="#c0c0c0" stroke-width="0.4" />
<line x1="980.5" y1="408.7" x2="1723.0" y2="580.6" stroke="#c0c0c0" stroke-width="0.4" />
<line x1="980.2" y1="409.4" x2="1722.7" y2="582.0" stroke="#c0c0c0" stroke-width="0.4" />
<line x1="979.9" y1="410.1" x2="1722.4" y2="583.4" stroke="#c0c0c0" stroke-width="0.4" />
<line x1="979.6" y1="410.8" x2="1722.2" y2="584.7" stroke="#c0c0c0" stroke-width="0.4" />
<line x1="979.3" y1="411.6" x2="1721.9" y2="586.1" stroke="#c0c0c0" stroke-width="0.4" />
<line x1="979.0" y1="412.3" x2="1721.6" y2="587.5" stroke="#c0c0c0" stroke-width="0.4" />
<line x1="978.8" y1="413.0" x2="1721.4" y2="588.9" stroke="#c0c0c0" stroke-width="0.4" />
<line x1="978.5" y1="413.7" x2="1721.1" y2="590.3" stroke="#c0c0c0" stroke-width="0.4" />
<line x1="978.2" y1="414.4" x2="1720.8" y2="591.6" stroke="#c0c0c0" stroke-width="0.4" />
<line x1="977.9" y1="415.2" x2="1720.6" y2="593.0" stroke="#c0c0c0" stroke-width="0.4" />
<line x1="977.6" y1="415.9" x2="1720.3" y2="594.4" stroke="#c0c0c0" stroke-width="0.4" />
<line x1="977.3" y1="416.6" x2="1720.0" y2="595.8" stroke="#c0c0c0" stroke-width="0.4" />
<line x1="977.0" y1="417.3" x2="1719.8" y2="597.2" stroke="#c0c0c0" stroke-width="0.4" />
<line x1="976.7" y1="418.0" x2="1719.5" y2="598.6" stroke="#c0c0c0" stroke-width="0.4" />
<line x1="976.3" y1="418.8" x2="1719.2" y2="600.0" stroke="#c0c0c0" stroke-width="0.4" />
<line x1="976.0" y1="419.5" x2="1719.0" y2="601.4" stroke="#c0c0c0" stroke-width="0.4" />
<line x1="975.7" y1="420.2" x2="1718.7" y2="602.8" stroke="#c0c0c0" stroke-width="0.4" />
<line x1="975.4" y1="420.9" x2="1718.4" y2="604.1" stroke="#c0c0c0" stroke-width="0.4" />
<line x1="975.1" y1="421.6" x2="1718.2" y2="605.5" stroke="#c0c0c0" stroke-width="0.4" />
<line x1="974.8" y1="422.4" x2="1717.9" y2="606.9" stroke="#c0c0c0" stroke-width="0.4" />
<line x1="974.5" y1="423.1" x2="1717.6" y2="608.3" stroke="#c0c0c0" stroke-width="0.4" />
<line x1="974.2" y1="423.8" x2="1717.4" y2="609.7" stroke="#c0c0c0" stroke-width="0.4" />
<line x1="973.9" y1="424.5" x2="1717.1" y2="611.1" stroke="#c0c0c0" stroke-width="0.4" />
<line x1="973.6" y1="425.3" x2="1716.8" y2="612.5" stroke="#c0c0c0" stroke-width="0.4" />
<line x1="973.3" y1="426.0" x2="1716.6" y2="613.9" stroke="#c0c0c0" stroke-width="0.4" />
<line x1="973.0" y1="426.7" x2="1716.3" y2="615.3" stroke="#c0c0c0" stroke-width="0.4" />
<line x1="972.7" y1="427.4" x2="1716.0" y2="616.7" stroke="#c0c0c0" stroke-width="0.4" />
<line x1="972.4" y1="428.2" x2="1715.7" y2="618.1" stroke="#c0c0c0" stroke-width="0.4" />
<line x1="972.1" y1="428.9" x2="1715.5" y2="619.5" stroke="#c0c0c0" stroke-width="0.4" />
<line x1="971.8" y1="429.6" x2="1715.2" y2="621.0" stroke="#c0c0c0" stroke-width="0.4" />
<line x1="971.5" y1="430.3" x2="1714.9" y2="622.4" stroke="#c0c0c0" stroke-width="0.4" />
<line x1="971.2" y1="431.1" x2="1714.7" y2="623.8" stroke="#c0c0c0" stroke-width="0.4" />
<line x1="970.9" y1="431.8" x2="1714.4" y2="625.2" stroke="#c0c0c0" stroke-width="0.4" />
<line x1="970.6" y1="432.5" x2="1714.1" y2="626.6" stroke="#c0c0c0" stroke-width="0.4" />
<line x1="970.3" y1="433.2" x2="1713.8" y2="628.0" stroke="#c0c0c0" stroke-width="0.4" />
<line x1="970.0" y1="434.0" x2="1713.6" y2="629.4" stroke="#c0c0c0" stroke-width="0.4" />
<line x1="969.7" y1="434.7" x2="1713.3" y2="630.8" stroke="#c0c0c0" stroke-width="0.4" />
<line x1="969.4" y1="435.4" x2="1713.0" y2="632.2" stroke="#c0c0c0" stroke-width="0.4" />
<line x1="969.1" y1="436.2" x2="1712.8" y2="633.7" stroke="#c0c0c0" stroke-width="0.4" />
<line x1="968.8" y1="436.9" x2="1712.5" y2="635.1" stroke="#c0c0c0" stroke-width="0.4" />
<line x1="968.5" y1="437.6" x2="1712.2" y2="636.5" stroke="#c0c0c0" stroke-width="0.4" />
<line x1="968.2" y1="438.3" x2="1711.9" y2="637.9" stroke="#c0c0c0" stroke-width="0.4" />
<line x1="967.9" y1="439.1" x2="1711.7" y2="639.3" stroke="#c0c0c0" stroke-width="0.4" />
<line x1="967.6" y1="439.8" x2="1711.4" y2="640.8" stroke="#c0c0c0" stroke-width="0.4" />
<line x1="967.3" y1="440.5" x2="1711.1" y2="642.2" stroke="#c0c0c0" stroke-width="0.4" />
<line x1="967.0" y1="441.3" x2="1710.8" y2="643.6" stroke="#c0c0c0" stroke-width="0.4" />
<line x1="966.7" y1="442.0" x2="1710.6" y2="645.0" stroke="#c0c0c0" stroke-width="0.4" />
<line x1="966.4" y1="442.7" x2="1710.3" y2="646.5" stroke="#c0c0c0" stroke-width="0.4" />
<line x1="966.1" y1="443.5" x2="1710.0" y2="647.9" stroke="#c0c0c0" stroke-width="0.4" />
<line x1="965.8" y1="444.2" x2="1709.7" y2="649.3" stroke="#c0c0c0" stroke-width="0.4" />
<line x1="965.4" y1="444.9" x2="1709.5" y2="650.7" stroke="#c0c0c0" stroke-width="0.4" />
<line x1="965.1" y1="445.7" x2="1709.2" y2="652.2" stroke="#c0c0c0" stroke-width="0.4" />
<line x1="964.8" y1="446.4" x2="1708.9" y2="653.6" stroke="#c0c0c0" stroke-width="0.4" />
<line x1="964.5" y1="447.1" x2="1708.6" y2="655.0" stroke="#c0c0c0" stroke-width="0.4" />
<line x1="964.2" y1="447.9" x2="1708.4" y2="656.5" stroke="#c0c0c0" stroke-width="0.4" />
<line x1="963.9" y1="448.6" x2="1708.1" y2="657.9" stroke="#c0c0c0" stroke-width="0.4" />
<line x1="963.6" y1="449.3" x2="1707.8" y2="659.3" stroke="#c0c0c0" stroke-width="0.4" />
<line x1="963.3" y1="450.1" x2="1707.5" y2="660.8" stroke="#c0c0c0" stroke-width="0.4" />
<line x1="963.0" y1="450.8" x2="1707.3" y2="662.2" stroke="#c0c0c0" stroke-width="0.4" />
<line x1="962.7" y1="451.5" x2="1707.0" y2="663.7" stroke="#c0c0c0" stroke-width="0.4" />
<line x1="962.4" y1="452.3" x2="1706.7" y2="665.1" stroke="#c0c0c0" stroke-width="0.4" />
<line x1="962.1" y1="453.0" x2="1706.4" y2="666.5" stroke="#c0c0c0" stroke-width="0.4" />
<line x1="961.8" y1="453.7" x2="1706.2" y2="668.0" stroke="#c0c0c0" stroke-width="0.4" />
<line x1="961.5" y1="454.5" x2="1705.9" y2="669.4" stroke="#c0c0c0" stroke-width="0.4" />
<line x1="961.2" y1="455.2" x2="1705.6" y2="670.9" stroke="#c0c0c0" stroke-width="0.4" />
<line x1="960.9" y1="455.9" x2="1705.3" y2="672.3" stroke="#c0c0c0" stroke-width="0.4" />
<line x1="960.5" y1="456.7" x2="1705.0" y2="673.8" stroke="#c0c0c0" stroke-width="0.4" />
<line x1="960.2" y1="457.4" x2="1704.8" y2="675.2" stroke="#c0c0c0" stroke-width="0.4" />
<line x1="959.9" y1="458.2" x2="1704.5" y2="676.7" stroke="#c0c0c0" stroke-width="0.4" />
<line x1="959.6" y1="458.9" x2="1704.2" y2="678.1" stroke="#c0c0c0" stroke-width="0.4" />
<line x1="959.3" y1="459.6" x2="1703.9" y2="679.6" stroke="#c0c0c0" stroke-width="0.4" />
<line x1="959.0" y1="460.4" x2="1703.7" y2="681.0" stroke="#c0c0c0" stroke-width="0.4" />
<line x1="958.7" y1="461.1" x2="1703.4" y2="682.5" stroke="#c0c0c0" stroke-width="0.4" />
<line x1="958.4" y1="461.8" x2="1703.1" y2="683.9" stroke="#c0c0c0" stroke-width="0.4" />
<line x1="958.1" y1="462.6" x2="1702.8" y2="685.4" stroke="#c0c0c0" stroke-width="0.4" />
<line x1="957.8" y1="463.3" x2="1702.5" y2="686.8" stroke="#c0c0c0" stroke-width="0.4" />
<line x1="957.5" y1="464.1" x2="1702.3" y2="688.3" stroke="#c0c0c0" stroke-width="0.4" />
<line x1="957.2" y1="464.8" x2="1702.0" y2="689.8" stroke="#c0c0c0" stroke-width="0.4" />
<line x1="956.9" y1="465.5" x2="1701.7" y2="691.2" stroke="#c0c0c0" stroke-width="0.4" />
<line x1="956.5" y1="466.3" x2="1701.4" y2="692.7" stroke="#c0c0c0" stroke-width="0.4" />
<line x1="956.2" y1="467.0" x2="1701.1" y2="694.1" stroke="#c0c0c0" stroke-width="0.4" />
<line x1="955.9" y1="467.8" x2="1700.8" y2="695.6" stroke="#c0c0c0" stroke-width="0.4" />
<line x1="955.6" y1="468.5" x2="1700.6" y2="697.1" stroke="#c0c0c0" stroke-width="0.4" />
<line x1="955.3" y1="469.3" x2="1700.3" y2="698.5" stroke="#c0c0c0" stroke-width="0.4" />
<line x1="955.0" y1="470.0" x2="1700.0" y2="700.0" stroke="#c0c0c0" stroke-width="0.4" />
<line x1="1000.0" y1="362.0" x2="955.0" y2="470.0" stroke="#6e6e6e" stroke-width="0.9" />
<line x1="1007.5" y1="363.3" x2="962.4" y2="472.3" stroke="#6e6e6e" stroke-width="1.3" />
<line x1="1009.0" y1="363.6" x2="963.8" y2="472.7" stroke="#777" stroke-width="0.8" />
<line x1="1015.1" y1="364.7" x2="969.9" y2="474.6" stroke="#6e6e6e" stroke-width="0.9" />
<line x1="1022.9" y1="366.0" x2="977.5" y2="476.9" stroke="#6e6e6e" stroke-width="1.3" />
<line x1="1030.8" y1="367.4" x2="985.2" y2="479.3" stroke="#6e6e6e" stroke-width="0.9" />
<line x1="1038.8" y1="368.8" x2="993.1" y2="481.8" stroke="#6e6e6e" stroke-width="1.3" />
<line x1="1040.3" y1="369.1" x2="994.6" y2="482.2" stroke="#777" stroke-width="0.8" />
<line x1="1046.9" y1="370.2" x2="1001.1" y2="484.2" stroke="#6e6e6e" stroke-width="0.9" />
<line x1="1055.2" y1="371.7" x2="1009.3" y2="486.8" stroke="#6e6e6e" stroke-width="1.3" />
<line x1="1063.7" y1="373.2" x2="1017.6" y2="489.3" stroke="#6e6e6e" stroke-width="0.9" />
<line x1="1072.3" y1="374.7" x2="1026.1" y2="491.9" stroke="#6e6e6e" stroke-width="1.3" />
<line x1="1073.9" y1="375.0" x2="1027.7" y2="492.5" stroke="#777" stroke-width="0.8" />
<line x1="1081.0" y1="376.2" x2="1034.7" y2="494.6" stroke="#6e6e6e" stroke-width="0.9" />
<line x1="1089.9" y1="377.8" x2="1043.5" y2="497.3" stroke="#6e6e6e" stroke-width="1.3" />
<line x1="1099.0" y1="379.4" x2="1052.4" y2="500.1" stroke="#6e6e6e" stroke-width="0.9" />
<line x1="1108.2" y1="381.0" x2="1061.5" y2="502.9" stroke="#6e6e6e" stroke-width="1.3" />
<line x1="1110.0" y1="381.3" x2="1063.3" y2="503.4" stroke="#777" stroke-width="0.8" />
<line x1="1117.6" y1="382.7" x2="1070.8" y2="505.8" stroke="#6e6e6e" stroke-width="0.9" />
<line x1="1127.1" y1="384.3" x2="1080.3" y2="508.7" stroke="#6e6e6e" stroke-width="1.3" />
<line x1="1136.9" y1="386.0" x2="1089.9" y2="511.7" stroke="#6e6e6e" stroke-width="0.9" />
<line x1="1146.8" y1="387.8" x2="1099.7" y2="514.7" stroke="#6e6e6e" stroke-width="1.3" />
<line x1="1148.7" y1="388.1" x2="1101.7" y2="515.3" stroke="#777" stroke-width="0.8" />
<line x1="1156.9" y1="389.6" x2="1109.8" y2="517.8" stroke="#6e6e6e" stroke-width="0.9" />
<line x1="1167.2" y1="391.4" x2="1120.0" y2="520.9" stroke="#6e6e6e" stroke-width="1.3" />
<line x1="1177.7" y1="393.2" x2="1130.4" y2="524.2" stroke="#6e6e6e" stroke-width="0.9" />
<line x1="1188.4" y1="395.1" x2="1141.1" y2="527.4" stroke="#6e6e6e" stroke-width="1.3" />
<line x1="1190.5" y1="395.5" x2="1143.2" y2="528.1" stroke="#777" stroke-width="0.8" />
<line x1="1199.4" y1="397.0" x2="1151.9" y2="530.8" stroke="#6e6e6e" stroke-width="0.9" />
<line x1="1210.5" y1="399.0" x2="1163.0" y2="534.2" stroke="#6e6e6e" stroke-width="1.3" />
<line x1="1221.9" y1="401.0" x2="1174.4" y2="537.7" stroke="#6e6e6e" stroke-width="0.9" />
<line x1="1233.5" y1="403.0" x2="1185.9" y2="541.3" stroke="#6e6e6e" stroke-width="1.3" />
<line x1="1235.8" y1="403.4" x2="1188.2" y2="542.0" stroke="#777" stroke-width="0.8" />
<line x1="1245.3" y1="405.1" x2="1197.7" y2="544.9" stroke="#6e6e6e" stroke-width="0.9" />
<line x1="1257.4" y1="407.2" x2="1209.8" y2="548.7" stroke="#6e6e6e" stroke-width="1.3" />
<line x1="1269.8" y1="409.4" x2="1222.1" y2="552.5" stroke="#6e6e6e" stroke-width="0.9" />
<line x1="1282.4" y1="411.6" x2="1234.7" y2="556.4" stroke="#6e6e6e" stroke-width="1.3" />
<line x1="1284.8" y1="412.0" x2="1237.2" y2="557.1" stroke="#777" stroke-width="0.8" />
<line x1="1295.2" y1="413.9" x2="1247.6" y2="560.3" stroke="#6e6e6e" stroke-width="0.9" />
<line x1="1308.4" y1="416.2" x2="1260.8" y2="564.4" stroke="#6e6e6e" stroke-width="1.3" />
<line x1="1321.8" y1="418.5" x2="1274.3" y2="568.6" stroke="#6e6e6e" stroke-width="0.9" />
<line x1="1335.6" y1="421.0" x2="1288.1" y2="572.8" stroke="#6e6e6e" stroke-width="1.3" />
<line x1="1338.3" y1="421.4" x2="1290.8" y2="573.7" stroke="#777" stroke-width="0.8" />
<line x1="1349.6" y1="423.4" x2="1302.2" y2="577.2" stroke="#6e6e6e" stroke-width="0.9" />
<line x1="1364.0" y1="425.9" x2="1316.6" y2="581.6" stroke="#6e6e6e" stroke-width="1.3" />
<line x1="1378.7" y1="428.5" x2="1331.4" y2="586.2" stroke="#6e6e6e" stroke-width="0.9" />
<line x1="1393.7" y1="431.2" x2="1346.6" y2="590.9" stroke="#6e6e6e" stroke-width="1.3" />
<line x1="1396.7" y1="431.7" x2="1349.5" y2="591.8" stroke="#777" stroke-width="0.8" />
<line x1="1409.1" y1="433.9" x2="1362.1" y2="595.7" stroke="#6e6e6e" stroke-width="0.9" />
<line x1="1424.9" y1="436.6" x2="1378.0" y2="600.6" stroke="#6e6e6e" stroke-width="1.3" />
<line x1="1441.0" y1="439.5" x2="1394.3" y2="605.6" stroke="#6e6e6e" stroke-width="0.9" />
<line x1="1457.6" y1="442.4" x2="1411.1" y2="610.8" stroke="#6e6e6e" stroke-width="1.3" />
<line x1="1460.8" y1="442.9" x2="1414.4" y2="611.8" stroke="#777" stroke-width="0.8" />
<line x1="1474.5" y1="445.4" x2="1428.2" y2="616.1" stroke="#6e6e6e" stroke-width="0.9" />
<line x1="1491.9" y1="448.4" x2="1445.9" y2="621.5" stroke="#6e6e6e" stroke-width="1.3" />
<line x1="1509.7" y1="451.5" x2="1463.9" y2="627.1" stroke="#6e6e6e" stroke-width="0.9" />
<line x1="1527.9" y1="454.7" x2="1482.5" y2="632.9" stroke="#6e6e6e" stroke-width="1.3" />
<line x1="1531.5" y1="455.4" x2="1486.2" y2="634.0" stroke="#777" stroke-width="0.8" />
<line x1="1546.7" y1="458.0" x2="1501.6" y2="638.7" stroke="#6e6e6e" stroke-width="0.9" />
<line x1="1565.9" y1="461.4" x2="1521.2" y2="644.8" stroke="#6e6e6e" stroke-width="1.3" />
<line x1="1585.6" y1="464.9" x2="1541.4" y2="651.0" stroke="#6e6e6e" stroke-width="0.9" />
<line x1="1605.9" y1="468.4" x2="1562.1" y2="657.4" stroke="#6e6e6e" stroke-width="1.3" />
<line x1="1609.8" y1="469.1" x2="1566.1" y2="658.7" stroke="#777" stroke-width="0.8" />
<line x1="1626.7" y1="472.1" x2="1583.4" y2="664.0" stroke="#6e6e6e" stroke-width="0.9" />
<line x1="1648.1" y1="475.9" x2="1605.4" y2="670.8" stroke="#6e6e6e" stroke-width="1.3" />
<line x1="1670.1" y1="479.7" x2="1628.0" y2="677.8" stroke="#6e6e6e" stroke-width="0.9" />
<line x1="1692.7" y1="483.7" x2="1651.3" y2="685.0" stroke="#6e6e6e" stroke-width="1.3" />
<line x1="1697.2" y1="484.5" x2="1655.8" y2="686.4" stroke="#777" stroke-width="0.8" />
<line x1="1716.0" y1="487.8" x2="1675.3" y2="692.4" stroke="#6e6e6e" stroke-width="0.9" />
<line x1="1740.0" y1="492.0" x2="1700.0" y2="700.0" stroke="#6e6e6e" stroke-width="1.3" />
</g>
<polygon points="1016.6,370.7 1040.6,375.0 1035.7,387.2 1011.7,382.5" fill="#f8f8f8" stroke="#333" stroke-width="0.7" />
<line x1="1022.5" y1="371.7" x2="1017.6" y2="383.6" stroke="#666" stroke-width="0.5" />
<line x1="1028.5" y1="372.8" x2="1023.6" y2="384.8" stroke="#666" stroke-width="0.5" />
<line x1="1034.5" y1="373.9" x2="1029.6" y2="386.0" stroke="#666" stroke-width="0.5" />
<polygon points="1047.0,377.4 1070.2,381.6 1065.3,394.2 1042.0,389.6" fill="#f8f8f8" stroke="#333" stroke-width="0.7" />
<line x1="1052.7" y1="378.4" x2="1047.7" y2="390.8" stroke="#666" stroke-width="0.5" />
<line x1="1058.5" y1="379.5" x2="1053.5" y2="391.9" stroke="#666" stroke-width="0.5" />
<line x1="1064.3" y1="380.5" x2="1059.4" y2="393.0" stroke="#666" stroke-width="0.5" />
<polygon points="1077.0,384.1 1114.6,391.0 1108.7,406.6 1071.1,399.1" fill="#f8f8f8" stroke="#333" stroke-width="0.7" />
<line x1="1086.1" y1="385.8" x2="1080.3" y2="400.9" stroke="#666" stroke-width="0.5" />
<line x1="1095.5" y1="387.5" x2="1089.6" y2="402.8" stroke="#666" stroke-width="0.5" />
<line x1="1105.0" y1="389.3" x2="1099.1" y2="404.7" stroke="#666" stroke-width="0.5" />
<polygon points="1124.7,394.2 1154.8,399.8 1149.8,413.5 1119.7,407.5" fill="#f8f8f8" stroke="#333" stroke-width="0.7" />
<line x1="1132.1" y1="395.6" x2="1127.0" y2="409.0" stroke="#666" stroke-width="0.5" />
<line x1="1139.5" y1="396.9" x2="1134.5" y2="410.5" stroke="#666" stroke-width="0.5" />
<line x1="1147.1" y1="398.3" x2="1142.1" y2="412.0" stroke="#666" stroke-width="0.5" />
<polygon points="1189.2,407.5 1239.4,416.9 1234.3,431.8 1184.1,421.8" fill="#f8f8f8" stroke="#333" stroke-width="0.7" />
<line x1="1201.4" y1="409.8" x2="1196.3" y2="424.2" stroke="#666" stroke-width="0.5" />
<line x1="1213.8" y1="412.1" x2="1208.7" y2="426.7" stroke="#666" stroke-width="0.5" />
<line x1="1226.4" y1="414.5" x2="1221.4" y2="429.2" stroke="#666" stroke-width="0.5" />
<polygon points="1252.2,420.7 1290.3,427.9 1285.7,442.1 1247.6,434.5" fill="#f8f8f8" stroke="#333" stroke-width="0.7" />
<line x1="1261.5" y1="422.5" x2="1256.9" y2="436.4" stroke="#666" stroke-width="0.5" />
<line x1="1271.0" y1="424.3" x2="1266.3" y2="438.3" stroke="#666" stroke-width="0.5" />
<line x1="1280.6" y1="426.1" x2="1275.9" y2="440.2" stroke="#666" stroke-width="0.5" />
<polygon points="1312.2,432.0 1362.4,441.5 1357.8,456.6 1307.6,446.5" fill="#f8f8f8" stroke="#333" stroke-width="0.7" />
<line x1="1324.4" y1="434.3" x2="1319.7" y2="449.0" stroke="#666" stroke-width="0.5" />
<line x1="1336.8" y1="436.6" x2="1332.2" y2="451.5" stroke="#666" stroke-width="0.5" />
<line x1="1349.4" y1="439.0" x2="1344.8" y2="454.0" stroke="#666" stroke-width="0.5" />
<polygon points="1378.2,446.0 1429.6,455.8 1425.5,470.2 1374.1,459.9" fill="#f8f8f8" stroke="#333" stroke-width="0.7" />
<line x1="1390.7" y1="448.4" x2="1386.5" y2="462.4" stroke="#666" stroke-width="0.5" />
<line x1="1403.4" y1="450.8" x2="1399.3" y2="464.9" stroke="#666" stroke-width="0.5" />
<line x1="1416.4" y1="453.3" x2="1412.3" y2="467.5" stroke="#666" stroke-width="0.5" />
<polygon points="1452.7,458.4 1495.4,466.5 1491.4,481.6 1448.6,473.1" fill="#f8f8f8" stroke="#333" stroke-width="0.7" />
<line x1="1463.1" y1="460.4" x2="1459.1" y2="475.2" stroke="#666" stroke-width="0.5" />
<line x1="1473.7" y1="462.4" x2="1469.7" y2="477.3" stroke="#666" stroke-width="0.5" />
<line x1="1484.5" y1="464.4" x2="1480.5" y2="479.4" stroke="#666" stroke-width="0.5" />
<polygon points="1514.9,471.9 1567.1,481.8 1563.2,497.8 1510.9,487.3" fill="#f8f8f8" stroke="#333" stroke-width="0.7" />
<line x1="1527.6" y1="474.3" x2="1523.6" y2="489.9" stroke="#666" stroke-width="0.5" />
<line x1="1540.5" y1="476.8" x2="1536.6" y2="492.5" stroke="#666" stroke-width="0.5" />
<line x1="1553.7" y1="479.3" x2="1549.8" y2="495.1" stroke="#666" stroke-width="0.5" />
<polygon points="1612.1,488.4 1684.2,502.0 1680.2,521.3 1607.9,506.8" fill="#f8f8f8" stroke="#333" stroke-width="0.7" />
<line x1="1629.5" y1="491.7" x2="1625.3" y2="510.3" stroke="#666" stroke-width="0.5" />
<line x1="1647.3" y1="495.0" x2="1643.2" y2="513.8" stroke="#666" stroke-width="0.5" />
<line x1="1665.5" y1="498.5" x2="1661.5" y2="517.5" stroke="#666" stroke-width="0.5" />
<polygon points="1139.1,442.6 1156.2,446.5 1151.5,459.6 1134.4,455.4" fill="#f8f8f8" stroke="#333" stroke-width="0.7" />
<line x1="1143.3" y1="443.6" x2="1138.6" y2="456.5" stroke="#666" stroke-width="0.5" />
<line x1="1147.6" y1="444.6" x2="1142.8" y2="457.5" stroke="#666" stroke-width="0.5" />
<line x1="1151.9" y1="445.6" x2="1147.1" y2="458.5" stroke="#666" stroke-width="0.5" />
<polygon points="1200.9,468.6 1240.2,478.0 1235.4,492.3 1196.1,482.3" fill="#f8f8f8" stroke="#333" stroke-width="0.7" />
<line x1="1210.5" y1="470.9" x2="1205.7" y2="484.7" stroke="#666" stroke-width="0.5" />
<line x1="1220.2" y1="473.2" x2="1215.4" y2="487.2" stroke="#666" stroke-width="0.5" />
<line x1="1230.1" y1="475.6" x2="1225.4" y2="489.7" stroke="#666" stroke-width="0.5" />
<polygon points="700.0,338.0 905.0,372.0 893.0,388.0 688.0,352.0" fill="#d2d2d2" stroke="#333" stroke-width="0.7" />
<line x1="700.0" y1="338.0" x2="688.0" y2="352.0" stroke="#333" stroke-width="0.9" />
<line x1="705.4" y1="338.9" x2="693.4" y2="352.9" stroke="#333" stroke-width="0.9" />
<line x1="710.8" y1="339.8" x2="698.8" y2="353.9" stroke="#333" stroke-width="0.9" />
<line x1="716.2" y1="340.7" x2="704.2" y2="354.9" stroke="#333" stroke-width="0.9" />
<line x1="721.7" y1="341.6" x2="709.7" y2="355.8" stroke="#333" stroke-width="0.9" />
<line x1="727.3" y1="342.5" x2="715.2" y2="356.8" stroke="#333" stroke-width="0.9" />
<line x1="732.8" y1="343.4" x2="720.8" y2="357.8" stroke="#333" stroke-width="0.9" />
<line x1="738.4" y1="344.4" x2="726.4" y2="358.7" stroke="#333" stroke-width="0.9" />
<line x1="744.1" y1="345.3" x2="732.0" y2="359.7" stroke="#333" stroke-width="0.9" />
<line x1="749.7" y1="346.2" x2="737.7" y2="360.7" stroke="#333" stroke-width="0.9" />
<line x1="755.4" y1="347.2" x2="743.4" y2="361.7" stroke="#333" stroke-width="0.9" />
<line x1="761.2" y1="348.1" x2="749.1" y2="362.7" stroke="#333" stroke-width="0.9" />
<line x1="767.0" y1="349.1" x2="754.9" y2="363.8" stroke="#333" stroke-width="0.9" />
<line x1="772.8" y1="350.1" x2="760.8" y2="364.8" stroke="#333" stroke-width="0.9" />
<line x1="778.7" y1="351.0" x2="766.6" y2="365.8" stroke="#333" stroke-width="0.9" />
<line x1="784.6" y1="352.0" x2="772.5" y2="366.8" stroke="#333" stroke-width="0.9" />
<line x1="790.5" y1="353.0" x2="778.5" y2="367.9" stroke="#333" stroke-width="0.9" />
<line x1="796.5" y1="354.0" x2="784.5" y2="368.9" stroke="#333" stroke-width="0.9" />
<line x1="802.5" y1="355.0" x2="790.5" y2="370.0" stroke="#333" stroke-width="0.9" />
<line x1="808.6" y1="356.0" x2="796.6" y2="371.1" stroke="#333" stroke-width="0.9" />
<line x1="814.7" y1="357.0" x2="802.7" y2="372.1" stroke="#333" stroke-width="0.9" />
<line x1="820.9" y1="358.0" x2="808.8" y2="373.2" stroke="#333" stroke-width="0.9" />
<line x1="827.1" y1="359.1" x2="815.0" y2="374.3" stroke="#333" stroke-width="0.9" />
<line x1="833.3" y1="360.1" x2="821.3" y2="375.4" stroke="#333" stroke-width="0.9" />
<line x1="839.6" y1="361.2" x2="827.6" y2="376.5" stroke="#333" stroke-width="0.9" />
<line x1="845.9" y1="362.2" x2="833.9" y2="377.6" stroke="#333" stroke-width="0.9" />
<line x1="852.3" y1="363.3" x2="840.3" y2="378.7" stroke="#333" stroke-width="0.9" />
<line x1="858.7" y1="364.3" x2="846.7" y2="379.9" stroke="#333" stroke-width="0.9" />
<line x1="865.2" y1="365.4" x2="853.2" y2="381.0" stroke="#333" stroke-width="0.9" />
<line x1="871.7" y1="366.5" x2="859.7" y2="382.2" stroke="#333" stroke-width="0.9" />
<line x1="878.3" y1="367.6" x2="866.3" y2="383.3" stroke="#333" stroke-width="0.9" />
<line x1="884.9" y1="368.7" x2="872.9" y2="384.5" stroke="#333" stroke-width="0.9" />
<line x1="891.5" y1="369.8" x2="879.5" y2="385.6" stroke="#333" stroke-width="0.9" />
<line x1="898.2" y1="370.9" x2="886.2" y2="386.8" stroke="#333" stroke-width="0.9" />
<line x1="905.0" y1="372.0" x2="893.0" y2="388.0" stroke="#333" stroke-width="0.9" />
<line x1="700.0" y1="338.0" x2="905.0" y2="372.0" stroke="#666" stroke-width="0.55" />
<line x1="698.3" y1="340.0" x2="903.3" y2="374.3" stroke="#666" stroke-width="0.55" />
<line x1="696.6" y1="342.0" x2="901.6" y2="376.5" stroke="#666" stroke-width="0.55" />
<line x1="694.9" y1="344.0" x2="899.9" y2="378.8" stroke="#666" stroke-width="0.55" />
<line x1="693.2" y1="346.0" x2="898.2" y2="381.1" stroke="#666" stroke-width="0.55" />
<line x1="691.4" y1="348.0" x2="896.4" y2="383.4" stroke="#666" stroke-width="0.55" />
<line x1="689.7" y1="350.0" x2="894.7" y2="385.7" stroke="#666" stroke-width="0.55" />
<line x1="688.0" y1="352.0" x2="893.0" y2="388.0" stroke="#666" stroke-width="0.55" />
<polygon points="712.0,331.0 734.5,334.6 726.5,343.6 704.0,340.0" fill="#fff" stroke="#333" stroke-width="0.6" />
<polygon points="744.2,336.2 766.7,339.8 758.7,348.8 736.2,345.2" fill="#fff" stroke="#333" stroke-width="0.6" />
<polygon points="776.3,341.3 798.9,344.9 790.9,353.9 768.3,350.3" fill="#fff" stroke="#333" stroke-width="0.6" />
<polygon points="808.5,346.5 831.0,350.1 823.0,359.1 800.5,355.5" fill="#fff" stroke="#333" stroke-width="0.6" />
<polygon points="840.7,351.7 863.2,355.3 855.2,364.3 832.7,360.7" fill="#fff" stroke="#333" stroke-width="0.6" />
<polygon points="872.8,356.8 895.4,360.4 887.4,369.4 864.8,365.8" fill="#fff" stroke="#333" stroke-width="0.6" />
<polygon points="718.0,357.0 872.0,388.0 869.0,396.0 716.0,364.0" fill="#fafafa" stroke="#222" stroke-width="0.8" />
<polygon points="722.0,365.0 866.0,395.0 862.0,403.0 730.0,376.0" fill="#666" stroke="#222" stroke-width="0.5" />
<line x1="724.0" y1="366.0" x2="727.0" y2="374.0" stroke="#ddd" stroke-width="1.0" />
<line x1="741.5" y1="369.8" x2="744.5" y2="377.8" stroke="#ddd" stroke-width="1.0" />
<line x1="759.0" y1="373.5" x2="762.0" y2="381.5" stroke="#ddd" stroke-width="1.0" />
<line x1="776.5" y1="377.2" x2="779.5" y2="385.2" stroke="#ddd" stroke-width="1.0" />
<line x1="794.0" y1="381.0" x2="797.0" y2="389.0" stroke="#ddd" stroke-width="1.0" />
<line x1="811.5" y1="384.8" x2="814.5" y2="392.8" stroke="#ddd" stroke-width="1.0" />
<line x1="829.0" y1="388.5" x2="832.0" y2="396.5" stroke="#ddd" stroke-width="1.0" />
<line x1="846.5" y1="392.2" x2="849.5" y2="400.2" stroke="#ddd" stroke-width="1.0" />
<line x1="864.0" y1="396.0" x2="867.0" y2="404.0" stroke="#ddd" stroke-width="1.0" />
<polygon points="628.2,456.6 702.5,373.5 873.0,391.0 852.0,462.0 827.2,487.8" fill="#fefefe" stroke="#222" stroke-width="0.9" />
<polygon points="628.2,456.6 827.2,487.8 827.2,516.0 629.7,477.4" fill="#fbfbfb" stroke="#222" stroke-width="0.9" />
<line x1="629.0" y1="460.0" x2="827.2" y2="491.5" stroke="#444" stroke-width="0.6" />
<rect x="693" y="480.5" width="5" height="2.6" fill="#111"/>
<rect x="705" y="482.7" width="5" height="2.6" fill="#111"/>
<rect x="728" y="486.8" width="5" height="2.6" fill="#111"/>
<rect x="750" y="490.8" width="5" height="2.6" fill="#111"/>
<rect x="761" y="492.7" width="5" height="2.6" fill="#111"/>
<polygon points="640.0,464.9 646.0,465.9 646.0,476.9 640.0,475.9" fill="#fff" stroke="#444" stroke-width="0.6" />
<polygon points="656.0,467.4 662.0,468.4 662.0,479.4 656.0,478.4" fill="#fff" stroke="#444" stroke-width="0.6" />
<polygon points="710.0,420.0 830.0,442.0 830.0,456.0 711.0,432.0" fill="#e0e0e0" stroke="#222" stroke-width="0.7" />
<polygon points="754.0,384.0 866.0,402.0 830.0,442.0 710.0,420.0" fill="#ededed" stroke="#222" stroke-width="0.8" />
<polygon points="1100.0,438.0 1142.0,452.0 1272.0,476.0 1290.0,460.0 1315.0,466.0 1240.0,574.0 1060.0,540.0" fill="#fdfdfd" stroke="#333" stroke-width="0.6" />
<line x1="1100.0" y1="438.0" x2="1060.0" y2="540.0" stroke="#b5b5b5" stroke-width="0.45" />
<line x1="1108.3" y1="439.7" x2="1068.3" y2="541.6" stroke="#b5b5b5" stroke-width="0.45" />
<line x1="1116.6" y1="441.3" x2="1076.6" y2="543.1" stroke="#b5b5b5" stroke-width="0.45" />
<line x1="1124.9" y1="443.0" x2="1084.9" y2="544.7" stroke="#b5b5b5" stroke-width="0.45" />
<line x1="1133.2" y1="444.6" x2="1093.2" y2="546.3" stroke="#b5b5b5" stroke-width="0.45" />
<line x1="1141.5" y1="446.3" x2="1101.5" y2="547.8" stroke="#b5b5b5" stroke-width="0.45" />
<line x1="1149.8" y1="448.0" x2="1109.7" y2="549.4" stroke="#b5b5b5" stroke-width="0.45" />
<line x1="1158.0" y1="449.6" x2="1118.0" y2="551.0" stroke="#b5b5b5" stroke-width="0.45" />
<line x1="1166.2" y1="451.2" x2="1126.2" y2="552.5" stroke="#b5b5b5" stroke-width="0.45" />
<line x1="1174.4" y1="452.9" x2="1134.4" y2="554.1" stroke="#b5b5b5" stroke-width="0.45" />
<line x1="1182.6" y1="454.5" x2="1142.6" y2="555.6" stroke="#b5b5b5" stroke-width="0.45" />
<line x1="1190.8" y1="456.2" x2="1150.8" y2="557.2" stroke="#b5b5b5" stroke-width="0.45" />
<line x1="1199.0" y1="457.8" x2="1159.0" y2="558.7" stroke="#b5b5b5" stroke-width="0.45" />
<line x1="1207.2" y1="459.4" x2="1167.2" y2="560.2" stroke="#b5b5b5" stroke-width="0.45" />
<line x1="1215.3" y1="461.1" x2="1175.3" y2="561.8" stroke="#b5b5b5" stroke-width="0.45" />
<line x1="1223.4" y1="462.7" x2="1183.4" y2="563.3" stroke="#b5b5b5" stroke-width="0.45" />
<line x1="1231.6" y1="464.3" x2="1191.6" y2="564.9" stroke="#b5b5b5" stroke-width="0.45" />
<line x1="1239.7" y1="465.9" x2="1199.7" y2="566.4" stroke="#b5b5b5" stroke-width="0.45" />
<line x1="1247.8" y1="467.6" x2="1207.8" y2="567.9" stroke="#b5b5b5" stroke-width="0.45" />
<line x1="1255.8" y1="469.2" x2="1215.8" y2="569.4" stroke="#b5b5b5" stroke-width="0.45" />
<line x1="1263.9" y1="470.8" x2="1223.9" y2="571.0" stroke="#b5b5b5" stroke-width="0.45" />
<line x1="1272.0" y1="472.4" x2="1232.0" y2="572.5" stroke="#b5b5b5" stroke-width="0.45" />
<line x1="1280.0" y1="474.0" x2="1240.0" y2="574.0" stroke="#b5b5b5" stroke-width="0.45" />
<line x1="1100.0" y1="438.0" x2="1280.0" y2="474.0" stroke="#b5b5b5" stroke-width="0.45" />
<line x1="1097.1" y1="445.3" x2="1277.1" y2="481.2" stroke="#b5b5b5" stroke-width="0.45" />
<line x1="1094.3" y1="452.6" x2="1274.3" y2="488.3" stroke="#b5b5b5" stroke-width="0.45" />
<line x1="1091.4" y1="459.9" x2="1271.4" y2="495.5" stroke="#b5b5b5" stroke-width="0.45" />
<line x1="1088.5" y1="467.2" x2="1268.5" y2="502.7" stroke="#b5b5b5" stroke-width="0.45" />
<line x1="1085.7" y1="474.5" x2="1265.7" y2="509.8" stroke="#b5b5b5" stroke-width="0.45" />
<line x1="1082.8" y1="481.8" x2="1262.8" y2="517.0" stroke="#b5b5b5" stroke-width="0.45" />
<line x1="1080.0" y1="489.1" x2="1260.0" y2="524.1" stroke="#b5b5b5" stroke-width="0.45" />
<line x1="1077.1" y1="496.4" x2="1257.1" y2="531.2" stroke="#b5b5b5" stroke-width="0.45" />
<line x1="1074.2" y1="503.7" x2="1254.2" y2="538.4" stroke="#b5b5b5" stroke-width="0.45" />
<line x1="1071.4" y1="510.9" x2="1251.4" y2="545.5" stroke="#b5b5b5" stroke-width="0.45" />
<line x1="1068.5" y1="518.2" x2="1248.5" y2="552.6" stroke="#b5b5b5" stroke-width="0.45" />
<line x1="1065.7" y1="525.5" x2="1245.7" y2="559.8" stroke="#b5b5b5" stroke-width="0.45" />
<line x1="1062.8" y1="532.7" x2="1242.8" y2="566.9" stroke="#b5b5b5" stroke-width="0.45" />
<line x1="1060.0" y1="540.0" x2="1240.0" y2="574.0" stroke="#b5b5b5" stroke-width="0.45" />
<ellipse cx="1180.0" cy="505.6" rx="41.5" ry="24" fill="#fff" stroke="#0a0a0a" stroke-width="3.6"/>
<ellipse cx="1180.3" cy="507.6" rx="36" ry="20.5" fill="#fff" stroke="#111" stroke-width="2.2"/>
<ellipse cx="1180.6" cy="509.6" rx="31.5" ry="17.6" fill="#fff" stroke="#111" stroke-width="2"/>
<ellipse cx="1181.0" cy="511.6" rx="27.5" ry="15" fill="#f4f4f4" stroke="#111" stroke-width="1.6"/>
<clipPath id="cpA"><ellipse cx="1181.0" cy="511.6" rx="27" ry="14.5"/></clipPath>
<g clip-path="url(#cpA)">
<line x1="1066.0" y1="485.6" x2="1126.0" y2="533.6" stroke="#555" stroke-width="0.55" />
<line x1="1126.0" y1="485.6" x2="1066.0" y2="533.6" stroke="#555" stroke-width="0.55" />
<line x1="1073.0" y1="485.6" x2="1133.0" y2="533.6" stroke="#555" stroke-width="0.55" />
<line x1="1133.0" y1="485.6" x2="1073.0" y2="533.6" stroke="#555" stroke-width="0.55" />
<line x1="1080.0" y1="485.6" x2="1140.0" y2="533.6" stroke="#555" stroke-width="0.55" />
<line x1="1140.0" y1="485.6" x2="1080.0" y2="533.6" stroke="#555" stroke-width="0.55" />
<line x1="1087.0" y1="485.6" x2="1147.0" y2="533.6" stroke="#555" stroke-width="0.55" />
<line x1="1147.0" y1="485.6" x2="1087.0" y2="533.6" stroke="#555" stroke-width="0.55" />
<line x1="1094.0" y1="485.6" x2="1154.0" y2="533.6" stroke="#555" stroke-width="0.55" />
<line x1="1154.0" y1="485.6" x2="1094.0" y2="533.6" stroke="#555" stroke-width="0.55" />
<line x1="1101.0" y1="485.6" x2="1161.0" y2="533.6" stroke="#555" stroke-width="0.55" />
<line x1="1161.0" y1="485.6" x2="1101.0" y2="533.6" stroke="#555" stroke-width="0.55" />
<line x1="1108.0" y1="485.6" x2="1168.0" y2="533.6" stroke="#555" stroke-width="0.55" />
<line x1="1168.0" y1="485.6" x2="1108.0" y2="533.6" stroke="#555" stroke-width="0.55" />
<line x1="1115.0" y1="485.6" x2="1175.0" y2="533.6" stroke="#555" stroke-width="0.55" />
<line x1="1175.0" y1="485.6" x2="1115.0" y2="533.6" stroke="#555" stroke-width="0.55" />
<line x1="1122.0" y1="485.6" x2="1182.0" y2="533.6" stroke="#555" stroke-width="0.55" />
<line x1="1182.0" y1="485.6" x2="1122.0" y2="533.6" stroke="#555" stroke-width="0.55" />
<line x1="1129.0" y1="485.6" x2="1189.0" y2="533.6" stroke="#555" stroke-width="0.55" />
<line x1="1189.0" y1="485.6" x2="1129.0" y2="533.6" stroke="#555" stroke-width="0.55" />
<line x1="1136.0" y1="485.6" x2="1196.0" y2="533.6" stroke="#555" stroke-width="0.55" />
<line x1="1196.0" y1="485.6" x2="1136.0" y2="533.6" stroke="#555" stroke-width="0.55" />
<line x1="1143.0" y1="485.6" x2="1203.0" y2="533.6" stroke="#555" stroke-width="0.55" />
<line x1="1203.0" y1="485.6" x2="1143.0" y2="533.6" stroke="#555" stroke-width="0.55" />
<line x1="1150.0" y1="485.6" x2="1210.0" y2="533.6" stroke="#555" stroke-width="0.55" />
<line x1="1210.0" y1="485.6" x2="1150.0" y2="533.6" stroke="#555" stroke-width="0.55" />
<line x1="1157.0" y1="485.6" x2="1217.0" y2="533.6" stroke="#555" stroke-width="0.55" />
<line x1="1217.0" y1="485.6" x2="1157.0" y2="533.6" stroke="#555" stroke-width="0.55" />
<line x1="1164.0" y1="485.6" x2="1224.0" y2="533.6" stroke="#555" stroke-width="0.55" />
<line x1="1224.0" y1="485.6" x2="1164.0" y2="533.6" stroke="#555" stroke-width="0.55" />
<line x1="1171.0" y1="485.6" x2="1231.0" y2="533.6" stroke="#555" stroke-width="0.55" />
<line x1="1231.0" y1="485.6" x2="1171.0" y2="533.6" stroke="#555" stroke-width="0.55" />
<line x1="1178.0" y1="485.6" x2="1238.0" y2="533.6" stroke="#555" stroke-width="0.55" />
<line x1="1238.0" y1="485.6" x2="1178.0" y2="533.6" stroke="#555" stroke-width="0.55" />
<line x1="1185.0" y1="485.6" x2="1245.0" y2="533.6" stroke="#555" stroke-width="0.55" />
<line x1="1245.0" y1="485.6" x2="1185.0" y2="533.6" stroke="#555" stroke-width="0.55" />
<line x1="1192.0" y1="485.6" x2="1252.0" y2="533.6" stroke="#555" stroke-width="0.55" />
<line x1="1252.0" y1="485.6" x2="1192.0" y2="533.6" stroke="#555" stroke-width="0.55" />
<line x1="1199.0" y1="485.6" x2="1259.0" y2="533.6" stroke="#555" stroke-width="0.55" />
<line x1="1259.0" y1="485.6" x2="1199.0" y2="533.6" stroke="#555" stroke-width="0.55" />
<line x1="1206.0" y1="485.6" x2="1266.0" y2="533.6" stroke="#555" stroke-width="0.55" />
<line x1="1266.0" y1="485.6" x2="1206.0" y2="533.6" stroke="#555" stroke-width="0.55" />
<line x1="1213.0" y1="485.6" x2="1273.0" y2="533.6" stroke="#555" stroke-width="0.55" />
<line x1="1273.0" y1="485.6" x2="1213.0" y2="533.6" stroke="#555" stroke-width="0.55" />
<line x1="1220.0" y1="485.6" x2="1280.0" y2="533.6" stroke="#555" stroke-width="0.55" />
<line x1="1280.0" y1="485.6" x2="1220.0" y2="533.6" stroke="#555" stroke-width="0.55" />
<line x1="1227.0" y1="485.6" x2="1287.0" y2="533.6" stroke="#555" stroke-width="0.55" />
<line x1="1287.0" y1="485.6" x2="1227.0" y2="533.6" stroke="#555" stroke-width="0.55" />
<line x1="1234.0" y1="485.6" x2="1294.0" y2="533.6" stroke="#555" stroke-width="0.55" />
<line x1="1294.0" y1="485.6" x2="1234.0" y2="533.6" stroke="#555" stroke-width="0.55" />
</g>
<polygon points="1132.0,524.0 1146.0,524.0 1146.0,540.0" fill="#c4c4c4" stroke="none" stroke-width="0.8" />
<polygon points="1146.0,510.7 1159.4,510.7 1159.4,553.0 1146.0,552.0" fill="#fbfbfb" stroke="#222" stroke-width="0.8" />
<polygon points="1146.0,510.7 1149.0,508.5 1162.0,508.5 1159.4,510.7" fill="#eee" stroke="#222" stroke-width="0.6" />
<polygon points="1159.4,510.7 1162.0,508.5 1162.0,525.0 1159.4,527.0" fill="#ccc" stroke="#222" stroke-width="0.5" />
<rect x="1115.0" y="527.0" width="3.4" height="3.4" fill="#fff" stroke="#444" stroke-width="0.5"/>
<rect x="1126.0" y="534.0" width="3.4" height="3.4" fill="#fff" stroke="#444" stroke-width="0.5"/>
<rect x="1104.0" y="536.0" width="3.4" height="3.4" fill="#fff" stroke="#444" stroke-width="0.5"/>
<rect x="1112.0" y="541.0" width="3.4" height="3.4" fill="#fff" stroke="#444" stroke-width="0.5"/>
<rect x="1128.0" y="542.0" width="3.4" height="3.4" fill="#fff" stroke="#444" stroke-width="0.5"/>
<rect x="1172.0" y="551.0" width="3.4" height="3.4" fill="#fff" stroke="#444" stroke-width="0.5"/>
<rect x="1101.0" y="541.0" width="3.4" height="3.4" fill="#fff" stroke="#444" stroke-width="0.5"/>
<polygon points="1002.0,404.0 1128.0,428.0 1126.0,433.0 1000.0,409.0" fill="#fafafa" stroke="#222" stroke-width="0.7" />
<polygon points="1122.0,432.0 1128.0,433.0 1078.0,538.0 1071.0,536.0" fill="#fafafa" stroke="#222" stroke-width="0.7" />
<polygon points="1094.5,430.0 1097.5,430.0 1097.5,450.0 1094.5,450.0" fill="#fff" stroke="#333" stroke-width="0.5" />
<polygon points="1126.5,434.0 1129.5,434.0 1129.5,454.0 1126.5,454.0" fill="#fff" stroke="#333" stroke-width="0.5" />
<polygon points="1110.5,470.0 1113.5,470.0 1113.5,490.0 1110.5,490.0" fill="#fff" stroke="#333" stroke-width="0.5" />
<polygon points="1098.5,492.0 1101.5,492.0 1101.5,512.0 1098.5,512.0" fill="#fff" stroke="#333" stroke-width="0.5" />
<polygon points="1086.5,515.0 1089.5,515.0 1089.5,535.0 1086.5,535.0" fill="#fff" stroke="#333" stroke-width="0.5" />
<polygon points="985.0,493.0 1012.0,498.0 1012.0,512.0 985.0,507.0" fill="#555" stroke="#222" stroke-width="0.6" />
<polygon points="1012.0,498.0 1058.4,506.0 1058.4,516.0 1012.0,512.0" fill="#f4f4f4" stroke="#222" stroke-width="0.6" />
<polygon points="981.2,488.4 1058.4,501.8 1058.4,506.0 981.2,493.0" fill="#dcdcdc" stroke="#222" stroke-width="0.7" />
<polygon points="981.2,488.4 1018.3,427.5 1095.5,437.9 1058.4,501.8" fill="#dedede" stroke="#222" stroke-width="0.9" />
<polygon points="981.2,488.4 1018.3,427.5 1054.0,432.5 1018.0,495.0" fill="#e6e6e6" stroke="none" stroke-width="0.8" />
<line x1="1018.0" y1="495.0" x2="1054.0" y2="432.5" stroke="#444" stroke-width="0.7" />
<path d="M1094.0,460.0 l4,-10 l5,4 l4,-6 l3,9 l5,1 l-3,7 l3,6 l-8,2 l-5,5 l-6,-4 l-7,1 l2,-8 z" fill="#ececec" stroke="#666" stroke-width="0.5"/>
<path d="M1084.0,478.0 l4,-10 l5,4 l4,-6 l3,9 l5,1 l-3,7 l3,6 l-8,2 l-5,5 l-6,-4 l-7,1 l2,-8 z" fill="#ececec" stroke="#666" stroke-width="0.5"/>
<path d="M1072.0,500.0 l4,-10 l5,4 l4,-6 l3,9 l5,1 l-3,7 l3,6 l-8,2 l-5,5 l-6,-4 l-7,1 l2,-8 z" fill="#ececec" stroke="#666" stroke-width="0.5"/>
<path d="M1060.0,522.0 l4,-10 l5,4 l4,-6 l3,9 l5,1 l-3,7 l3,6 l-8,2 l-5,5 l-6,-4 l-7,1 l2,-8 z" fill="#ececec" stroke="#666" stroke-width="0.5"/>
<polygon points="1074.4,536.4 1240.0,570.0 1240.0,580.0 1074.4,546.0" fill="#fafafa" stroke="#222" stroke-width="0.8" />
<polygon points="1164.6,569.4 1193.0,576.0 1193.0,586.0 1164.6,579.0" fill="#222" stroke="#111" stroke-width="0.5" />
<polygon points="1193.0,576.0 1237.0,585.0 1237.0,596.0 1193.0,586.0" fill="#d8d8d8" stroke="#333" stroke-width="0.5" />
<path d="M1033.1,528.0 l0,-4 l1.6,0 l0.6,4 z" fill="#333"/>
<path d="M1063.5,535.0 l0,-4 l1.6,0 l0.6,4 z" fill="#333"/>
<path d="M974.5,508.9 l0,-4 l1.6,0 l0.6,4 z" fill="#333"/>
<ellipse cx="1036.9" cy="532.1" rx="3.4" ry="1.8" fill="#fff" stroke="#333" stroke-width="0.6"/>
<path d="M1014.5,513.7 l0,-4 l1.6,0 l0.6,4 z" fill="#333"/>
<ellipse cx="1022.6" cy="510.9" rx="3.4" ry="1.8" fill="#fff" stroke="#333" stroke-width="0.6"/>
<path d="M1001.9,524.3 l0,-4 l1.6,0 l0.6,4 z" fill="#333"/>
<ellipse cx="989.5" cy="519.0" rx="3.4" ry="1.8" fill="#fff" stroke="#333" stroke-width="0.6"/>
<ellipse cx="1027.7" cy="514.4" rx="3.4" ry="1.8" fill="#fff" stroke="#333" stroke-width="0.6"/>
<ellipse cx="1052.5" cy="521.8" rx="3.4" ry="1.8" fill="#fff" stroke="#333" stroke-width="0.6"/>
<path d="M1068.3,538.8 l0,-4 l1.6,0 l0.6,4 z" fill="#333"/>
<path d="M1063.7,531.0 l0,-4 l1.6,0 l0.6,4 z" fill="#333"/>
<path d="M995.0,523.2 l0,-4 l1.6,0 l0.6,4 z" fill="#333"/>
<path d="M1067.0,538.9 l0,-4 l1.6,0 l0.6,4 z" fill="#333"/>
<ellipse cx="1003.6" cy="509.6" rx="3.4" ry="1.8" fill="#fff" stroke="#333" stroke-width="0.6"/>
<path d="M976.6,506.1 l0,-4 l1.6,0 l0.6,4 z" fill="#333"/>
<path d="M973.7,513.0 l0,-4 l1.6,0 l0.6,4 z" fill="#333"/>
<path d="M1004.0,522.8 l0,-4 l1.6,0 l0.6,4 z" fill="#333"/>
<path d="M1001.9,515.5 l0,-4 l1.6,0 l0.6,4 z" fill="#333"/>
<ellipse cx="981.2" cy="520.7" rx="3.4" ry="1.8" fill="#fff" stroke="#333" stroke-width="0.6"/>
<ellipse cx="1046.0" cy="533.1" rx="3.4" ry="1.8" fill="#fff" stroke="#333" stroke-width="0.6"/>
<path d="M1045.8,523.4 l0,-4 l1.6,0 l0.6,4 z" fill="#333"/>
<ellipse cx="969.2" cy="499.2" rx="3.4" ry="1.8" fill="#fff" stroke="#333" stroke-width="0.6"/>
<path d="M1060.3,523.3 l0,-4 l1.6,0 l0.6,4 z" fill="#333"/>
<path d="M1063.9,539.2 l0,-4 l1.6,0 l0.6,4 z" fill="#333"/>
<path d="M1005.9,517.3 l0,-4 l1.6,0 l0.6,4 z" fill="#333"/>
<path d="M984.3,516.8 l0,-4 l1.6,0 l0.6,4 z" fill="#333"/>
<path d="M1050.0,517.7 l0,-4 l1.6,0 l0.6,4 z" fill="#333"/>
<path d="M979.4,507.5 l0,-4 l1.6,0 l0.6,4 z" fill="#333"/>
<path d="M1057.9,525.7 l0,-4 l1.6,0 l0.6,4 z" fill="#333"/>
<path d="M1022.3,516.9 l0,-4 l1.6,0 l0.6,4 z" fill="#333"/>
<ellipse cx="985.5" cy="503.6" rx="3.4" ry="1.8" fill="#fff" stroke="#333" stroke-width="0.6"/>
<ellipse cx="1041.4" cy="535.1" rx="3.4" ry="1.8" fill="#fff" stroke="#333" stroke-width="0.6"/>
<path d="M980.5,520.8 l0,-4 l1.6,0 l0.6,4 z" fill="#333"/>
<path d="M1008.5,512.2 l0,-4 l1.6,0 l0.6,4 z" fill="#333"/>
<path d="M1050.1,526.2 l0,-4 l1.6,0 l0.6,4 z" fill="#333"/>
<ellipse cx="980.6" cy="519.4" rx="3.4" ry="1.8" fill="#fff" stroke="#333" stroke-width="0.6"/>
<ellipse cx="1021.6" cy="527.3" rx="3.4" ry="1.8" fill="#fff" stroke="#333" stroke-width="0.6"/>
<path d="M1045.1,535.0 l0,-4 l1.6,0 l0.6,4 z" fill="#333"/>
<path d="M1043.7,517.7 l0,-4 l1.6,0 l0.6,4 z" fill="#333"/>
<path d="M988.9,519.9 l0,-4 l1.6,0 l0.6,4 z" fill="#333"/>
<path d="M1019.0,530.0 l0,-4 l1.6,0 l0.6,4 z" fill="#333"/>
<path d="M1064.3,529.5 l0,-4 l1.6,0 l0.6,4 z" fill="#333"/>
<path d="M1041.1,524.6 l0,-4 l1.6,0 l0.6,4 z" fill="#333"/>
<path d="M1007.5,510.1 l0,-4 l1.6,0 l0.6,4 z" fill="#333"/>
<path d="M1069.6,540.9 l0,-4 l1.6,0 l0.6,4 z" fill="#333"/>
<polygon points="962.0,470.0 1000.0,409.0 1003.0,410.5 966.0,472.0" fill="#fafafa" stroke="#222" stroke-width="0.6" />
<polygon points="966.7,462.0 969.3,462.0 969.3,480.0 966.7,480.0" fill="#fff" stroke="#333" stroke-width="0.5" />
<polygon points="978.7,443.0 981.3,443.0 981.3,461.0 978.7,461.0" fill="#fff" stroke="#333" stroke-width="0.5" />
<polygon points="990.7,424.0 993.3,424.0 993.3,442.0 990.7,442.0" fill="#fff" stroke="#333" stroke-width="0.5" />
<g transform="translate(1154.0,389.0) scale(0.70)"><ellipse cx="1" cy="9" rx="7" ry="3.2" fill="#fff" stroke="#555" stroke-width="0.5"/><path d="M0,8 L0,0" stroke="#333" stroke-width="0.9"/><path d="M-8,0 l4,-10 l5,4 l4,-6 l3,9 l5,1 l-3,7 l3,6 l-8,2 l-5,5 l-6,-4 l-7,1 l2,-8 z" fill="#f0f0f0" stroke="#555" stroke-width="0.6"/></g>
<g transform="translate(1084.0,413.0) scale(0.70)"><ellipse cx="1" cy="9" rx="7" ry="3.2" fill="#fff" stroke="#555" stroke-width="0.5"/><path d="M0,8 L0,0" stroke="#333" stroke-width="0.9"/><path d="M-8,0 l4,-10 l5,4 l4,-6 l3,9 l5,1 l-3,7 l3,6 l-8,2 l-5,5 l-6,-4 l-7,1 l2,-8 z" fill="#f0f0f0" stroke="#555" stroke-width="0.6"/></g>
<g transform="translate(1108.0,441.0) scale(0.70)"><ellipse cx="1" cy="9" rx="7" ry="3.2" fill="#fff" stroke="#555" stroke-width="0.5"/><path d="M0,8 L0,0" stroke="#333" stroke-width="0.9"/><path d="M-8,0 l4,-10 l5,4 l4,-6 l3,9 l5,1 l-3,7 l3,6 l-8,2 l-5,5 l-6,-4 l-7,1 l2,-8 z" fill="#f0f0f0" stroke="#555" stroke-width="0.6"/></g>
<g transform="translate(1368.0,419.0) scale(0.70)"><ellipse cx="1" cy="9" rx="7" ry="3.2" fill="#fff" stroke="#555" stroke-width="0.5"/><path d="M0,8 L0,0" stroke="#333" stroke-width="0.9"/><path d="M-8,0 l4,-10 l5,4 l4,-6 l3,9 l5,1 l-3,7 l3,6 l-8,2 l-5,5 l-6,-4 l-7,1 l2,-8 z" fill="#f0f0f0" stroke="#555" stroke-width="0.6"/></g>
<g transform="translate(1420.0,437.0) scale(0.70)"><ellipse cx="1" cy="9" rx="7" ry="3.2" fill="#fff" stroke="#555" stroke-width="0.5"/><path d="M0,8 L0,0" stroke="#333" stroke-width="0.9"/><path d="M-8,0 l4,-10 l5,4 l4,-6 l3,9 l5,1 l-3,7 l3,6 l-8,2 l-5,5 l-6,-4 l-7,1 l2,-8 z" fill="#f0f0f0" stroke="#555" stroke-width="0.6"/></g>
<g transform="translate(1326.0,453.0) scale(0.70)"><ellipse cx="1" cy="9" rx="7" ry="3.2" fill="#fff" stroke="#555" stroke-width="0.5"/><path d="M0,8 L0,0" stroke="#333" stroke-width="0.9"/><path d="M-8,0 l4,-10 l5,4 l4,-6 l3,9 l5,1 l-3,7 l3,6 l-8,2 l-5,5 l-6,-4 l-7,1 l2,-8 z" fill="#f0f0f0" stroke="#555" stroke-width="0.6"/></g>
<g transform="translate(1558.0,449.0) scale(0.70)"><ellipse cx="1" cy="9" rx="7" ry="3.2" fill="#fff" stroke="#555" stroke-width="0.5"/><path d="M0,8 L0,0" stroke="#333" stroke-width="0.9"/><path d="M-8,0 l4,-10 l5,4 l4,-6 l3,9 l5,1 l-3,7 l3,6 l-8,2 l-5,5 l-6,-4 l-7,1 l2,-8 z" fill="#f0f0f0" stroke="#555" stroke-width="0.6"/></g>
<g transform="translate(1524.0,485.0) scale(0.70)"><ellipse cx="1" cy="9" rx="7" ry="3.2" fill="#fff" stroke="#555" stroke-width="0.5"/><path d="M0,8 L0,0" stroke="#333" stroke-width="0.9"/><path d="M-8,0 l4,-10 l5,4 l4,-6 l3,9 l5,1 l-3,7 l3,6 l-8,2 l-5,5 l-6,-4 l-7,1 l2,-8 z" fill="#f0f0f0" stroke="#555" stroke-width="0.6"/></g>
<g transform="translate(1216.0,403.0) scale(0.70)"><ellipse cx="1" cy="9" rx="7" ry="3.2" fill="#fff" stroke="#555" stroke-width="0.5"/><path d="M0,8 L0,0" stroke="#333" stroke-width="0.9"/><path d="M-8,0 l4,-10 l5,4 l4,-6 l3,9 l5,1 l-3,7 l3,6 l-8,2 l-5,5 l-6,-4 l-7,1 l2,-8 z" fill="#f0f0f0" stroke="#555" stroke-width="0.6"/></g>
<g transform="translate(1240.0,458.0) scale(0.70)"><ellipse cx="1" cy="9" rx="7" ry="3.2" fill="#fff" stroke="#555" stroke-width="0.5"/><path d="M0,8 L0,0" stroke="#333" stroke-width="0.9"/><path d="M-8,0 l4,-10 l5,4 l4,-6 l3,9 l5,1 l-3,7 l3,6 l-8,2 l-5,5 l-6,-4 l-7,1 l2,-8 z" fill="#f0f0f0" stroke="#555" stroke-width="0.6"/></g>
<polygon points="184.3,439.1 262.0,400.0 640.0,455.0 632.5,466.1 594.7,509.3 376.0,468.8 354.4,493.1 192.4,462.1" fill="#fcfcfc" stroke="#333" stroke-width="0.7" />
<line x1="184.3" y1="439.1" x2="183.0" y2="428.0" stroke="#333" stroke-width="0.8" />
<line x1="376.0" y1="468.8" x2="420.0" y2="432.0" stroke="#ccc" stroke-width="0.4" />
<line x1="383.7" y1="470.2" x2="427.5" y2="433.2" stroke="#ccc" stroke-width="0.4" />
<line x1="391.4" y1="471.7" x2="435.0" y2="434.5" stroke="#ccc" stroke-width="0.4" />
<line x1="399.2" y1="473.1" x2="442.6" y2="435.7" stroke="#ccc" stroke-width="0.4" />
<line x1="407.0" y1="474.5" x2="450.2" y2="437.0" stroke="#ccc" stroke-width="0.4" />
<line x1="414.9" y1="476.0" x2="457.9" y2="438.3" stroke="#ccc" stroke-width="0.4" />
<line x1="422.9" y1="477.5" x2="465.6" y2="439.5" stroke="#ccc" stroke-width="0.4" />
<line x1="430.9" y1="479.0" x2="473.4" y2="440.8" stroke="#ccc" stroke-width="0.4" />
<line x1="438.9" y1="480.5" x2="481.2" y2="442.1" stroke="#ccc" stroke-width="0.4" />
<line x1="447.1" y1="482.0" x2="489.1" y2="443.4" stroke="#ccc" stroke-width="0.4" />
<line x1="455.3" y1="483.5" x2="497.0" y2="444.7" stroke="#ccc" stroke-width="0.4" />
<line x1="463.5" y1="485.0" x2="505.0" y2="446.0" stroke="#ccc" stroke-width="0.4" />
<line x1="471.8" y1="486.5" x2="513.1" y2="447.4" stroke="#ccc" stroke-width="0.4" />
<line x1="480.2" y1="488.1" x2="521.2" y2="448.7" stroke="#ccc" stroke-width="0.4" />
<line x1="488.6" y1="489.6" x2="529.4" y2="450.1" stroke="#ccc" stroke-width="0.4" />
<line x1="497.1" y1="491.2" x2="537.6" y2="451.4" stroke="#ccc" stroke-width="0.4" />
<line x1="505.6" y1="492.8" x2="545.9" y2="452.8" stroke="#ccc" stroke-width="0.4" />
<line x1="514.2" y1="494.4" x2="554.2" y2="454.2" stroke="#ccc" stroke-width="0.4" />
<line x1="522.9" y1="496.0" x2="562.6" y2="455.5" stroke="#ccc" stroke-width="0.4" />
<line x1="531.6" y1="497.6" x2="571.1" y2="456.9" stroke="#ccc" stroke-width="0.4" />
<line x1="540.4" y1="499.3" x2="579.6" y2="458.3" stroke="#ccc" stroke-width="0.4" />
<line x1="549.3" y1="500.9" x2="588.2" y2="459.8" stroke="#ccc" stroke-width="0.4" />
<line x1="558.3" y1="502.6" x2="596.8" y2="461.2" stroke="#ccc" stroke-width="0.4" />
<line x1="567.3" y1="504.2" x2="605.5" y2="462.6" stroke="#ccc" stroke-width="0.4" />
<line x1="576.3" y1="505.9" x2="614.3" y2="464.1" stroke="#ccc" stroke-width="0.4" />
<line x1="585.5" y1="507.6" x2="623.1" y2="465.5" stroke="#ccc" stroke-width="0.4" />
<line x1="594.7" y1="509.3" x2="632.0" y2="467.0" stroke="#ccc" stroke-width="0.4" />
<line x1="376.0" y1="468.8" x2="594.7" y2="509.3" stroke="#ccc" stroke-width="0.4" />
<line x1="383.6" y1="462.4" x2="601.2" y2="501.9" stroke="#ccc" stroke-width="0.4" />
<line x1="391.1" y1="456.2" x2="607.6" y2="494.7" stroke="#ccc" stroke-width="0.4" />
<line x1="398.5" y1="450.0" x2="613.8" y2="487.6" stroke="#ccc" stroke-width="0.4" />
<line x1="405.8" y1="443.9" x2="620.0" y2="480.6" stroke="#ccc" stroke-width="0.4" />
<line x1="412.9" y1="437.9" x2="626.0" y2="473.8" stroke="#ccc" stroke-width="0.4" />
<line x1="420.0" y1="432.0" x2="632.0" y2="467.0" stroke="#ccc" stroke-width="0.4" />
<polygon points="397.0,312.0 690.0,358.0 600.0,447.0 300.0,398.0" fill="none" stroke="#333" stroke-width="0.8" />
<polygon points="192.4,462.1 354.4,493.1 354.4,502.6 192.4,471.6" fill="#f2f2f2" stroke="#222" stroke-width="0.8" />
<line x1="192.4" y1="462.1" x2="201.9" y2="473.4" stroke="#444" stroke-width="0.6" />
<line x1="192.4" y1="471.6" x2="201.9" y2="463.9" stroke="#444" stroke-width="0.6" />
<line x1="192.4" y1="462.1" x2="192.4" y2="471.6" stroke="#333" stroke-width="0.7" />
<line x1="201.9" y1="463.9" x2="211.5" y2="475.2" stroke="#444" stroke-width="0.6" />
<line x1="201.9" y1="473.4" x2="211.5" y2="465.7" stroke="#444" stroke-width="0.6" />
<line x1="201.9" y1="463.9" x2="201.9" y2="473.4" stroke="#333" stroke-width="0.7" />
<line x1="211.5" y1="465.7" x2="221.0" y2="477.1" stroke="#444" stroke-width="0.6" />
<line x1="211.5" y1="475.2" x2="221.0" y2="467.6" stroke="#444" stroke-width="0.6" />
<line x1="211.5" y1="465.7" x2="211.5" y2="475.2" stroke="#333" stroke-width="0.7" />
<line x1="221.0" y1="467.6" x2="230.5" y2="478.9" stroke="#444" stroke-width="0.6" />
<line x1="221.0" y1="477.1" x2="230.5" y2="469.4" stroke="#444" stroke-width="0.6" />
<line x1="221.0" y1="467.6" x2="221.0" y2="477.1" stroke="#333" stroke-width="0.7" />
<line x1="230.5" y1="469.4" x2="240.0" y2="480.7" stroke="#444" stroke-width="0.6" />
<line x1="230.5" y1="478.9" x2="240.0" y2="471.2" stroke="#444" stroke-width="0.6" />
<line x1="230.5" y1="469.4" x2="230.5" y2="478.9" stroke="#333" stroke-width="0.7" />
<line x1="240.0" y1="471.2" x2="249.6" y2="482.5" stroke="#444" stroke-width="0.6" />
<line x1="240.0" y1="480.7" x2="249.6" y2="473.0" stroke="#444" stroke-width="0.6" />
<line x1="240.0" y1="471.2" x2="240.0" y2="480.7" stroke="#333" stroke-width="0.7" />
<line x1="249.6" y1="473.0" x2="259.1" y2="484.4" stroke="#444" stroke-width="0.6" />
<line x1="249.6" y1="482.5" x2="259.1" y2="474.9" stroke="#444" stroke-width="0.6" />
<line x1="249.6" y1="473.0" x2="249.6" y2="482.5" stroke="#333" stroke-width="0.7" />
<line x1="259.1" y1="474.9" x2="268.6" y2="486.2" stroke="#444" stroke-width="0.6" />
<line x1="259.1" y1="484.4" x2="268.6" y2="476.7" stroke="#444" stroke-width="0.6" />
<line x1="259.1" y1="474.9" x2="259.1" y2="484.4" stroke="#333" stroke-width="0.7" />
<line x1="268.6" y1="476.7" x2="278.2" y2="488.0" stroke="#444" stroke-width="0.6" />
<line x1="268.6" y1="486.2" x2="278.2" y2="478.5" stroke="#444" stroke-width="0.6" />
<line x1="268.6" y1="476.7" x2="268.6" y2="486.2" stroke="#333" stroke-width="0.7" />
<line x1="278.2" y1="478.5" x2="287.7" y2="489.8" stroke="#444" stroke-width="0.6" />
<line x1="278.2" y1="488.0" x2="287.7" y2="480.3" stroke="#444" stroke-width="0.6" />
<line x1="278.2" y1="478.5" x2="278.2" y2="488.0" stroke="#333" stroke-width="0.7" />
<line x1="287.7" y1="480.3" x2="297.2" y2="491.7" stroke="#444" stroke-width="0.6" />
<line x1="287.7" y1="489.8" x2="297.2" y2="482.2" stroke="#444" stroke-width="0.6" />
<line x1="287.7" y1="480.3" x2="287.7" y2="489.8" stroke="#333" stroke-width="0.7" />
<line x1="297.2" y1="482.2" x2="306.8" y2="493.5" stroke="#444" stroke-width="0.6" />
<line x1="297.2" y1="491.7" x2="306.8" y2="484.0" stroke="#444" stroke-width="0.6" />
<line x1="297.2" y1="482.2" x2="297.2" y2="491.7" stroke="#333" stroke-width="0.7" />
<line x1="306.8" y1="484.0" x2="316.3" y2="495.3" stroke="#444" stroke-width="0.6" />
<line x1="306.8" y1="493.5" x2="316.3" y2="485.8" stroke="#444" stroke-width="0.6" />
<line x1="306.8" y1="484.0" x2="306.8" y2="493.5" stroke="#333" stroke-width="0.7" />
<line x1="316.3" y1="485.8" x2="325.8" y2="497.1" stroke="#444" stroke-width="0.6" />
<line x1="316.3" y1="495.3" x2="325.8" y2="487.6" stroke="#444" stroke-width="0.6" />
<line x1="316.3" y1="485.8" x2="316.3" y2="495.3" stroke="#333" stroke-width="0.7" />
<line x1="325.8" y1="487.6" x2="335.3" y2="499.0" stroke="#444" stroke-width="0.6" />
<line x1="325.8" y1="497.1" x2="335.3" y2="489.5" stroke="#444" stroke-width="0.6" />
<line x1="325.8" y1="487.6" x2="325.8" y2="497.1" stroke="#333" stroke-width="0.7" />
<line x1="335.3" y1="489.5" x2="344.9" y2="500.8" stroke="#444" stroke-width="0.6" />
<line x1="335.3" y1="499.0" x2="344.9" y2="491.3" stroke="#444" stroke-width="0.6" />
<line x1="335.3" y1="489.5" x2="335.3" y2="499.0" stroke="#333" stroke-width="0.7" />
<line x1="344.9" y1="491.3" x2="354.4" y2="502.6" stroke="#444" stroke-width="0.6" />
<line x1="344.9" y1="500.8" x2="354.4" y2="493.1" stroke="#444" stroke-width="0.6" />
<line x1="344.9" y1="491.3" x2="344.9" y2="500.8" stroke="#333" stroke-width="0.7" />
<polygon points="354.4,493.1 376.0,468.8 378.7,478.3 354.4,502.6" fill="#e4e4e4" stroke="#222" stroke-width="0.7" />
<polygon points="376.0,468.8 594.7,509.3 594.7,518.8 376.0,478.3" fill="#f2f2f2" stroke="#222" stroke-width="0.8" />
<line x1="376.0" y1="468.8" x2="385.5" y2="480.1" stroke="#444" stroke-width="0.6" />
<line x1="376.0" y1="478.3" x2="385.5" y2="470.6" stroke="#444" stroke-width="0.6" />
<line x1="376.0" y1="468.8" x2="376.0" y2="478.3" stroke="#333" stroke-width="0.7" />
<line x1="385.5" y1="470.6" x2="395.0" y2="481.8" stroke="#444" stroke-width="0.6" />
<line x1="385.5" y1="480.1" x2="395.0" y2="472.3" stroke="#444" stroke-width="0.6" />
<line x1="385.5" y1="470.6" x2="385.5" y2="480.1" stroke="#333" stroke-width="0.7" />
<line x1="395.0" y1="472.3" x2="404.5" y2="483.6" stroke="#444" stroke-width="0.6" />
<line x1="395.0" y1="481.8" x2="404.5" y2="474.1" stroke="#444" stroke-width="0.6" />
<line x1="395.0" y1="472.3" x2="395.0" y2="481.8" stroke="#333" stroke-width="0.7" />
<line x1="404.5" y1="474.1" x2="414.0" y2="485.3" stroke="#444" stroke-width="0.6" />
<line x1="404.5" y1="483.6" x2="414.0" y2="475.8" stroke="#444" stroke-width="0.6" />
<line x1="404.5" y1="474.1" x2="404.5" y2="483.6" stroke="#333" stroke-width="0.7" />
<line x1="414.0" y1="475.8" x2="423.5" y2="487.1" stroke="#444" stroke-width="0.6" />
<line x1="414.0" y1="485.3" x2="423.5" y2="477.6" stroke="#444" stroke-width="0.6" />
<line x1="414.0" y1="475.8" x2="414.0" y2="485.3" stroke="#333" stroke-width="0.7" />
<line x1="423.5" y1="477.6" x2="433.1" y2="488.9" stroke="#444" stroke-width="0.6" />
<line x1="423.5" y1="487.1" x2="433.1" y2="479.4" stroke="#444" stroke-width="0.6" />
<line x1="423.5" y1="477.6" x2="423.5" y2="487.1" stroke="#333" stroke-width="0.7" />
<line x1="433.1" y1="479.4" x2="442.6" y2="490.6" stroke="#444" stroke-width="0.6" />
<line x1="433.1" y1="488.9" x2="442.6" y2="481.1" stroke="#444" stroke-width="0.6" />
<line x1="433.1" y1="479.4" x2="433.1" y2="488.9" stroke="#333" stroke-width="0.7" />
<line x1="442.6" y1="481.1" x2="452.1" y2="492.4" stroke="#444" stroke-width="0.6" />
<line x1="442.6" y1="490.6" x2="452.1" y2="482.9" stroke="#444" stroke-width="0.6" />
<line x1="442.6" y1="481.1" x2="442.6" y2="490.6" stroke="#333" stroke-width="0.7" />
<line x1="452.1" y1="482.9" x2="461.6" y2="494.1" stroke="#444" stroke-width="0.6" />
<line x1="452.1" y1="492.4" x2="461.6" y2="484.6" stroke="#444" stroke-width="0.6" />
<line x1="452.1" y1="482.9" x2="452.1" y2="492.4" stroke="#333" stroke-width="0.7" />
<line x1="461.6" y1="484.6" x2="471.1" y2="495.9" stroke="#444" stroke-width="0.6" />
<line x1="461.6" y1="494.1" x2="471.1" y2="486.4" stroke="#444" stroke-width="0.6" />
<line x1="461.6" y1="484.6" x2="461.6" y2="494.1" stroke="#333" stroke-width="0.7" />
<line x1="471.1" y1="486.4" x2="480.6" y2="497.7" stroke="#444" stroke-width="0.6" />
<line x1="471.1" y1="495.9" x2="480.6" y2="488.2" stroke="#444" stroke-width="0.6" />
<line x1="471.1" y1="486.4" x2="471.1" y2="495.9" stroke="#333" stroke-width="0.7" />
<line x1="480.6" y1="488.2" x2="490.1" y2="499.4" stroke="#444" stroke-width="0.6" />
<line x1="480.6" y1="497.7" x2="490.1" y2="489.9" stroke="#444" stroke-width="0.6" />
<line x1="480.6" y1="488.2" x2="480.6" y2="497.7" stroke="#333" stroke-width="0.7" />
<line x1="490.1" y1="489.9" x2="499.6" y2="501.2" stroke="#444" stroke-width="0.6" />
<line x1="490.1" y1="499.4" x2="499.6" y2="491.7" stroke="#444" stroke-width="0.6" />
<line x1="490.1" y1="489.9" x2="490.1" y2="499.4" stroke="#333" stroke-width="0.7" />
<line x1="499.6" y1="491.7" x2="509.1" y2="503.0" stroke="#444" stroke-width="0.6" />
<line x1="499.6" y1="501.2" x2="509.1" y2="493.5" stroke="#444" stroke-width="0.6" />
<line x1="499.6" y1="491.7" x2="499.6" y2="501.2" stroke="#333" stroke-width="0.7" />
<line x1="509.1" y1="493.5" x2="518.6" y2="504.7" stroke="#444" stroke-width="0.6" />
<line x1="509.1" y1="503.0" x2="518.6" y2="495.2" stroke="#444" stroke-width="0.6" />
<line x1="509.1" y1="493.5" x2="509.1" y2="503.0" stroke="#333" stroke-width="0.7" />
<line x1="518.6" y1="495.2" x2="528.1" y2="506.5" stroke="#444" stroke-width="0.6" />
<line x1="518.6" y1="504.7" x2="528.1" y2="497.0" stroke="#444" stroke-width="0.6" />
<line x1="518.6" y1="495.2" x2="518.6" y2="504.7" stroke="#333" stroke-width="0.7" />
<line x1="528.1" y1="497.0" x2="537.6" y2="508.2" stroke="#444" stroke-width="0.6" />
<line x1="528.1" y1="506.5" x2="537.6" y2="498.7" stroke="#444" stroke-width="0.6" />
<line x1="528.1" y1="497.0" x2="528.1" y2="506.5" stroke="#333" stroke-width="0.7" />
<line x1="537.6" y1="498.7" x2="547.2" y2="510.0" stroke="#444" stroke-width="0.6" />
<line x1="537.6" y1="508.2" x2="547.2" y2="500.5" stroke="#444" stroke-width="0.6" />
<line x1="537.6" y1="498.7" x2="537.6" y2="508.2" stroke="#333" stroke-width="0.7" />
<line x1="547.2" y1="500.5" x2="556.7" y2="511.8" stroke="#444" stroke-width="0.6" />
<line x1="547.2" y1="510.0" x2="556.7" y2="502.3" stroke="#444" stroke-width="0.6" />
<line x1="547.2" y1="500.5" x2="547.2" y2="510.0" stroke="#333" stroke-width="0.7" />
<line x1="556.7" y1="502.3" x2="566.2" y2="513.5" stroke="#444" stroke-width="0.6" />
<line x1="556.7" y1="511.8" x2="566.2" y2="504.0" stroke="#444" stroke-width="0.6" />
<line x1="556.7" y1="502.3" x2="556.7" y2="511.8" stroke="#333" stroke-width="0.7" />
<line x1="566.2" y1="504.0" x2="575.7" y2="515.3" stroke="#444" stroke-width="0.6" />
<line x1="566.2" y1="513.5" x2="575.7" y2="505.8" stroke="#444" stroke-width="0.6" />
<line x1="566.2" y1="504.0" x2="566.2" y2="513.5" stroke="#333" stroke-width="0.7" />
<line x1="575.7" y1="505.8" x2="585.2" y2="517.0" stroke="#444" stroke-width="0.6" />
<line x1="575.7" y1="515.3" x2="585.2" y2="507.5" stroke="#444" stroke-width="0.6" />
<line x1="575.7" y1="505.8" x2="575.7" y2="515.3" stroke="#333" stroke-width="0.7" />
<line x1="585.2" y1="507.5" x2="594.7" y2="518.8" stroke="#444" stroke-width="0.6" />
<line x1="585.2" y1="517.0" x2="594.7" y2="509.3" stroke="#444" stroke-width="0.6" />
<line x1="585.2" y1="507.5" x2="585.2" y2="517.0" stroke="#333" stroke-width="0.7" />
<polygon points="594.7,509.3 632.5,466.1 634.0,475.0 594.7,518.8" fill="#e4e4e4" stroke="#222" stroke-width="0.7" />
<line x1="599.4" y1="503.9" x2="599.7" y2="513.2" stroke="#444" stroke-width="0.6" />
<line x1="604.2" y1="498.5" x2="604.5" y2="507.8" stroke="#444" stroke-width="0.6" />
<line x1="608.9" y1="493.1" x2="609.2" y2="502.4" stroke="#444" stroke-width="0.6" />
<line x1="613.6" y1="487.7" x2="613.9" y2="497.0" stroke="#444" stroke-width="0.6" />
<line x1="618.3" y1="482.3" x2="618.6" y2="491.6" stroke="#444" stroke-width="0.6" />
<line x1="623.0" y1="476.9" x2="623.3" y2="486.2" stroke="#444" stroke-width="0.6" />
<line x1="627.8" y1="471.5" x2="628.1" y2="480.8" stroke="#444" stroke-width="0.6" />
<use href="#tree" transform="translate(689.0,375.8) scale(1.00)"/>
<use href="#treeb" transform="translate(663.5,404.7) scale(1.00)"/>
<use href="#tree" transform="translate(639.3,431.7) scale(1.02)"/>
<use href="#treeb" transform="translate(610.5,458.8) scale(1.05)"/>
<use href="#tree" transform="translate(276.8,422.5) scale(1.00)"/>
<use href="#treeb" transform="translate(304.3,428.0) scale(1.00)"/>
<use href="#tree" transform="translate(331.8,433.5) scale(1.00)"/>
<use href="#treeb" transform="translate(362.0,439.0) scale(1.00)"/>
<use href="#tree" transform="translate(419.8,453.2) scale(1.02)"/>
<use href="#treeb" transform="translate(450.0,458.7) scale(1.02)"/>
<use href="#tree" transform="translate(480.3,464.2) scale(1.02)"/>
<use href="#treeb" transform="translate(510.5,469.7) scale(1.02)"/>
<use href="#tree" transform="translate(540.8,475.2) scale(1.02)"/>
<use href="#treeb" transform="translate(571.0,483.4) scale(1.02)"/>
<use href="#tree" transform="translate(243.9,454.1) scale(1.04)"/>
<use href="#treeb" transform="translate(274.1,462.3) scale(1.04)"/>
<use href="#tree" transform="translate(301.6,467.8) scale(1.04)"/>
<use href="#treeb" transform="translate(331.9,473.3) scale(1.04)"/>
<use href="#tree" transform="translate(362.1,478.8) scale(1.04)"/>
<g transform="translate(1005.8,266.5) scale(1.08,0.77)"><use href="#mtree"/></g>
<g transform="translate(995.9,281.2) scale(1.14,0.81)"><use href="#mtreeb"/></g>
<g transform="translate(985.0,294.0) scale(1.20,0.85)"><use href="#mtree"/></g>
<g transform="translate(975.6,308.4) scale(1.26,0.89)"><use href="#mtreeb"/></g>
<g transform="translate(966.9,322.3) scale(1.32,0.94)"><use href="#mtree"/></g>
<g transform="translate(954.9,338.2) scale(1.38,0.98)"><use href="#mtreeb"/></g>
<line x1="392.0" y1="481.5" x2="370.0" y2="508.5" stroke="#222" stroke-width="1.15" />
<line x1="408.7" y1="484.8" x2="386.9" y2="511.9" stroke="#222" stroke-width="1.15" />
<line x1="425.4" y1="488.1" x2="403.7" y2="515.4" stroke="#222" stroke-width="1.15" />
<line x1="442.1" y1="491.4" x2="420.6" y2="518.8" stroke="#222" stroke-width="1.15" />
<line x1="458.8" y1="494.7" x2="437.4" y2="522.2" stroke="#222" stroke-width="1.15" />
<line x1="475.5" y1="498.0" x2="454.3" y2="525.7" stroke="#222" stroke-width="1.15" />
<line x1="492.2" y1="501.2" x2="471.2" y2="529.1" stroke="#222" stroke-width="1.15" />
<line x1="508.9" y1="504.5" x2="488.0" y2="532.5" stroke="#222" stroke-width="1.15" />
<line x1="525.6" y1="507.8" x2="504.9" y2="535.9" stroke="#222" stroke-width="1.15" />
<line x1="542.3" y1="511.1" x2="521.7" y2="539.4" stroke="#222" stroke-width="1.15" />
<line x1="559.0" y1="514.4" x2="538.6" y2="542.8" stroke="#222" stroke-width="1.15" />
<line x1="575.7" y1="517.7" x2="555.5" y2="546.2" stroke="#222" stroke-width="1.15" />
<line x1="592.4" y1="521.0" x2="572.3" y2="549.7" stroke="#222" stroke-width="1.15" />
<line x1="609.1" y1="524.3" x2="589.2" y2="553.1" stroke="#222" stroke-width="1.15" />
<line x1="625.8" y1="527.6" x2="606.0" y2="556.5" stroke="#222" stroke-width="1.15" />
<line x1="642.5" y1="530.9" x2="622.9" y2="560.0" stroke="#222" stroke-width="1.15" />
<line x1="659.2" y1="534.2" x2="639.8" y2="563.4" stroke="#222" stroke-width="1.15" />
<line x1="675.9" y1="537.4" x2="656.6" y2="566.8" stroke="#222" stroke-width="1.15" />
<line x1="692.6" y1="540.7" x2="673.5" y2="570.2" stroke="#222" stroke-width="1.15" />
<line x1="709.3" y1="544.0" x2="690.3" y2="573.7" stroke="#222" stroke-width="1.15" />
<line x1="726.0" y1="547.3" x2="707.2" y2="577.1" stroke="#222" stroke-width="1.15" />
<line x1="742.7" y1="550.6" x2="724.1" y2="580.5" stroke="#222" stroke-width="1.15" />
<line x1="759.3" y1="553.9" x2="740.9" y2="584.0" stroke="#222" stroke-width="1.15" />
<line x1="776.0" y1="557.2" x2="757.8" y2="587.4" stroke="#222" stroke-width="1.15" />
<line x1="792.7" y1="560.5" x2="774.7" y2="590.8" stroke="#222" stroke-width="1.15" />
<line x1="809.4" y1="563.8" x2="791.5" y2="594.3" stroke="#222" stroke-width="1.15" />
<line x1="826.1" y1="567.1" x2="808.4" y2="597.7" stroke="#222" stroke-width="1.15" />
<line x1="842.8" y1="570.3" x2="825.2" y2="601.1" stroke="#222" stroke-width="1.15" />
<line x1="859.5" y1="573.6" x2="842.1" y2="604.5" stroke="#222" stroke-width="1.15" />
<line x1="876.2" y1="576.9" x2="859.0" y2="608.0" stroke="#222" stroke-width="1.15" />
<line x1="892.9" y1="580.2" x2="875.8" y2="611.4" stroke="#222" stroke-width="1.15" />
<line x1="909.6" y1="583.5" x2="892.7" y2="614.8" stroke="#222" stroke-width="1.15" />
<line x1="926.3" y1="586.8" x2="909.5" y2="618.3" stroke="#222" stroke-width="1.15" />
<line x1="943.0" y1="590.1" x2="926.4" y2="621.7" stroke="#222" stroke-width="1.15" />
<line x1="959.7" y1="593.4" x2="943.3" y2="625.1" stroke="#222" stroke-width="1.15" />
<line x1="976.4" y1="596.7" x2="960.1" y2="628.6" stroke="#222" stroke-width="1.15" />
<line x1="993.1" y1="600.0" x2="977.0" y2="632.0" stroke="#222" stroke-width="1.15" />
<line x1="1009.8" y1="603.3" x2="993.8" y2="635.4" stroke="#222" stroke-width="1.15" />
<line x1="1026.5" y1="606.5" x2="1010.7" y2="638.8" stroke="#222" stroke-width="1.15" />
<line x1="1043.2" y1="609.8" x2="1027.6" y2="642.3" stroke="#222" stroke-width="1.15" />
<line x1="1059.9" y1="613.1" x2="1044.4" y2="645.7" stroke="#222" stroke-width="1.15" />
<line x1="1076.6" y1="616.4" x2="1061.3" y2="649.1" stroke="#222" stroke-width="1.15" />
<line x1="1093.3" y1="619.7" x2="1078.1" y2="652.6" stroke="#222" stroke-width="1.15" />
<line x1="1110.0" y1="623.0" x2="1095.0" y2="656.0" stroke="#222" stroke-width="1.15" />
<line x1="370.0" y1="508.5" x2="1095.0" y2="656.0" stroke="#222" stroke-width="1.15" />
<line x1="354.4" y1="504.0" x2="370.0" y2="508.5" stroke="#222" stroke-width="0.9" />
<line x1="676.0" y1="496.0" x2="661.0" y2="512.5" stroke="#222" stroke-width="1.15" />
<line x1="694.4" y1="498.7" x2="679.8" y2="516.1" stroke="#222" stroke-width="1.15" />
<line x1="712.8" y1="501.4" x2="698.6" y2="519.7" stroke="#222" stroke-width="1.15" />
<line x1="731.2" y1="504.1" x2="717.4" y2="523.3" stroke="#222" stroke-width="1.15" />
<line x1="749.6" y1="506.8" x2="736.2" y2="526.9" stroke="#222" stroke-width="1.15" />
<line x1="768.0" y1="509.5" x2="755.0" y2="530.5" stroke="#222" stroke-width="1.15" />
<line x1="676.0" y1="496.0" x2="785.0" y2="512.5" stroke="#222" stroke-width="0.8" />
<polyline points="543.0,545.0 579.0,590.0" fill="none" stroke="#555" stroke-width="0.5" />
<line x1="600.0" y1="520.0" x2="1100.0" y2="615.0" stroke="#bbb" stroke-width="0.5" />
<polygon points="852.0,462.0 873.0,391.0 1000.0,409.0 1000.0,420.0 981.0,488.0 985.0,507.0 827.2,487.8" fill="#d9d9d9" stroke="#333" stroke-width="0.6" />
<line x1="860.0" y1="440.0" x2="830.0" y2="487.0" stroke="#aaa" stroke-width="0.4" />
<line x1="865.5" y1="440.9" x2="836.7" y2="487.6" stroke="#aaa" stroke-width="0.4" />
<line x1="870.9" y1="441.8" x2="843.3" y2="488.1" stroke="#aaa" stroke-width="0.4" />
<line x1="876.2" y1="442.7" x2="849.7" y2="488.7" stroke="#aaa" stroke-width="0.4" />
<line x1="881.4" y1="443.6" x2="856.0" y2="489.2" stroke="#aaa" stroke-width="0.4" />
<line x1="886.6" y1="444.5" x2="862.1" y2="489.7" stroke="#aaa" stroke-width="0.4" />
<line x1="891.6" y1="445.3" x2="868.2" y2="490.2" stroke="#aaa" stroke-width="0.4" />
<line x1="896.5" y1="446.2" x2="874.1" y2="490.7" stroke="#aaa" stroke-width="0.4" />
<line x1="901.4" y1="447.0" x2="879.9" y2="491.2" stroke="#aaa" stroke-width="0.4" />
<line x1="906.1" y1="447.8" x2="885.5" y2="491.7" stroke="#aaa" stroke-width="0.4" />
<line x1="910.8" y1="448.6" x2="891.1" y2="492.2" stroke="#aaa" stroke-width="0.4" />
<line x1="915.4" y1="449.4" x2="896.5" y2="492.7" stroke="#aaa" stroke-width="0.4" />
<line x1="920.0" y1="450.1" x2="901.9" y2="493.1" stroke="#aaa" stroke-width="0.4" />
<line x1="924.4" y1="450.9" x2="907.1" y2="493.6" stroke="#aaa" stroke-width="0.4" />
<line x1="928.8" y1="451.6" x2="912.3" y2="494.0" stroke="#aaa" stroke-width="0.4" />
<line x1="933.1" y1="452.4" x2="917.3" y2="494.4" stroke="#aaa" stroke-width="0.4" />
<line x1="937.3" y1="453.1" x2="922.3" y2="494.8" stroke="#aaa" stroke-width="0.4" />
<line x1="941.5" y1="453.8" x2="927.1" y2="495.3" stroke="#aaa" stroke-width="0.4" />
<line x1="945.6" y1="454.5" x2="931.9" y2="495.7" stroke="#aaa" stroke-width="0.4" />
<line x1="949.6" y1="455.2" x2="936.6" y2="496.1" stroke="#aaa" stroke-width="0.4" />
<line x1="953.6" y1="455.8" x2="941.2" y2="496.4" stroke="#aaa" stroke-width="0.4" />
<line x1="957.5" y1="456.5" x2="945.7" y2="496.8" stroke="#aaa" stroke-width="0.4" />
<line x1="961.3" y1="457.1" x2="950.1" y2="497.2" stroke="#aaa" stroke-width="0.4" />
<line x1="965.1" y1="457.8" x2="954.5" y2="497.6" stroke="#aaa" stroke-width="0.4" />
<line x1="968.8" y1="458.4" x2="958.8" y2="497.9" stroke="#aaa" stroke-width="0.4" />
<line x1="972.5" y1="459.0" x2="963.0" y2="498.3" stroke="#aaa" stroke-width="0.4" />
<line x1="976.1" y1="459.6" x2="967.1" y2="498.7" stroke="#aaa" stroke-width="0.4" />
<line x1="979.6" y1="460.2" x2="971.2" y2="499.0" stroke="#aaa" stroke-width="0.4" />
<line x1="983.1" y1="460.8" x2="975.2" y2="499.3" stroke="#aaa" stroke-width="0.4" />
<line x1="986.6" y1="461.4" x2="979.1" y2="499.7" stroke="#aaa" stroke-width="0.4" />
<line x1="990.0" y1="462.0" x2="983.0" y2="500.0" stroke="#aaa" stroke-width="0.4" />
<line x1="860.0" y1="440.0" x2="990.0" y2="462.0" stroke="#aaa" stroke-width="0.4" />
<line x1="856.7" y1="445.2" x2="989.2" y2="466.3" stroke="#aaa" stroke-width="0.4" />
<line x1="853.3" y1="450.5" x2="988.4" y2="470.7" stroke="#aaa" stroke-width="0.4" />
<line x1="849.8" y1="456.0" x2="987.6" y2="475.3" stroke="#aaa" stroke-width="0.4" />
<line x1="846.1" y1="461.8" x2="986.7" y2="479.9" stroke="#aaa" stroke-width="0.4" />
<line x1="842.3" y1="467.7" x2="985.8" y2="484.7" stroke="#aaa" stroke-width="0.4" />
<line x1="838.4" y1="473.9" x2="984.9" y2="489.7" stroke="#aaa" stroke-width="0.4" />
<line x1="834.3" y1="480.3" x2="984.0" y2="494.8" stroke="#aaa" stroke-width="0.4" />
<line x1="830.0" y1="487.0" x2="983.0" y2="500.0" stroke="#aaa" stroke-width="0.4" />
<ellipse cx="888" cy="478" rx="17" ry="8.5" fill="#fbfbfb" stroke="#555" stroke-width="0.6"/>
<ellipse cx="930" cy="492" rx="17" ry="8.5" fill="#fbfbfb" stroke="#555" stroke-width="0.6"/>
<use href="#bigtree" transform="translate(917.0,427.2) scale(0.88)"/>
<use href="#bigtree" transform="translate(980.0,444.0) scale(0.98)"/>
<use href="#bigtree" transform="translate(900.0,458.2) scale(0.90)"/>
<use href="#bigtree" transform="translate(966.0,473.0) scale(1.00)"/>
<use href="#bigtree" transform="translate(869.0,497.4) scale(1.05)"/>
<use href="#bigtree" transform="translate(943.0,502.0) scale(1.02)"/>
<polygon points="801.0,509.0 1162.0,572.0 1150.0,598.0 786.0,527.0" fill="#fcfcfc" stroke="#333" stroke-width="0.7" />
<polygon points="786.0,527.0 1150.0,598.0 1150.0,607.5 786.0,536.5" fill="#f2f2f2" stroke="#222" stroke-width="0.8" />
<line x1="786.0" y1="527.0" x2="796.7" y2="538.6" stroke="#444" stroke-width="0.6" />
<line x1="786.0" y1="536.5" x2="796.7" y2="529.1" stroke="#444" stroke-width="0.6" />
<line x1="786.0" y1="527.0" x2="786.0" y2="536.5" stroke="#333" stroke-width="0.7" />
<line x1="796.7" y1="529.1" x2="807.4" y2="540.7" stroke="#444" stroke-width="0.6" />
<line x1="796.7" y1="538.6" x2="807.4" y2="531.2" stroke="#444" stroke-width="0.6" />
<line x1="796.7" y1="529.1" x2="796.7" y2="538.6" stroke="#333" stroke-width="0.7" />
<line x1="807.4" y1="531.2" x2="818.1" y2="542.8" stroke="#444" stroke-width="0.6" />
<line x1="807.4" y1="540.7" x2="818.1" y2="533.3" stroke="#444" stroke-width="0.6" />
<line x1="807.4" y1="531.2" x2="807.4" y2="540.7" stroke="#333" stroke-width="0.7" />
<line x1="818.1" y1="533.3" x2="828.8" y2="544.9" stroke="#444" stroke-width="0.6" />
<line x1="818.1" y1="542.8" x2="828.8" y2="535.4" stroke="#444" stroke-width="0.6" />
<line x1="818.1" y1="533.3" x2="818.1" y2="542.8" stroke="#333" stroke-width="0.7" />
<line x1="828.8" y1="535.4" x2="839.5" y2="546.9" stroke="#444" stroke-width="0.6" />
<line x1="828.8" y1="544.9" x2="839.5" y2="537.4" stroke="#444" stroke-width="0.6" />
<line x1="828.8" y1="535.4" x2="828.8" y2="544.9" stroke="#333" stroke-width="0.7" />
<line x1="839.5" y1="537.4" x2="850.2" y2="549.0" stroke="#444" stroke-width="0.6" />
<line x1="839.5" y1="546.9" x2="850.2" y2="539.5" stroke="#444" stroke-width="0.6" />
<line x1="839.5" y1="537.4" x2="839.5" y2="546.9" stroke="#333" stroke-width="0.7" />
<line x1="850.2" y1="539.5" x2="860.9" y2="551.1" stroke="#444" stroke-width="0.6" />
<line x1="850.2" y1="549.0" x2="860.9" y2="541.6" stroke="#444" stroke-width="0.6" />
<line x1="850.2" y1="539.5" x2="850.2" y2="549.0" stroke="#333" stroke-width="0.7" />
<line x1="860.9" y1="541.6" x2="871.6" y2="553.2" stroke="#444" stroke-width="0.6" />
<line x1="860.9" y1="551.1" x2="871.6" y2="543.7" stroke="#444" stroke-width="0.6" />
<line x1="860.9" y1="541.6" x2="860.9" y2="551.1" stroke="#333" stroke-width="0.7" />
<line x1="871.6" y1="543.7" x2="882.4" y2="555.3" stroke="#444" stroke-width="0.6" />
<line x1="871.6" y1="553.2" x2="882.4" y2="545.8" stroke="#444" stroke-width="0.6" />
<line x1="871.6" y1="543.7" x2="871.6" y2="553.2" stroke="#333" stroke-width="0.7" />
<line x1="882.4" y1="545.8" x2="893.1" y2="557.4" stroke="#444" stroke-width="0.6" />
<line x1="882.4" y1="555.3" x2="893.1" y2="547.9" stroke="#444" stroke-width="0.6" />
<line x1="882.4" y1="545.8" x2="882.4" y2="555.3" stroke="#333" stroke-width="0.7" />
<line x1="893.1" y1="547.9" x2="903.8" y2="559.5" stroke="#444" stroke-width="0.6" />
<line x1="893.1" y1="557.4" x2="903.8" y2="550.0" stroke="#444" stroke-width="0.6" />
<line x1="893.1" y1="547.9" x2="893.1" y2="557.4" stroke="#333" stroke-width="0.7" />
<line x1="903.8" y1="550.0" x2="914.5" y2="561.6" stroke="#444" stroke-width="0.6" />
<line x1="903.8" y1="559.5" x2="914.5" y2="552.1" stroke="#444" stroke-width="0.6" />
<line x1="903.8" y1="550.0" x2="903.8" y2="559.5" stroke="#333" stroke-width="0.7" />
<line x1="914.5" y1="552.1" x2="925.2" y2="563.6" stroke="#444" stroke-width="0.6" />
<line x1="914.5" y1="561.6" x2="925.2" y2="554.1" stroke="#444" stroke-width="0.6" />
<line x1="914.5" y1="552.1" x2="914.5" y2="561.6" stroke="#333" stroke-width="0.7" />
<line x1="925.2" y1="554.1" x2="935.9" y2="565.7" stroke="#444" stroke-width="0.6" />
<line x1="925.2" y1="563.6" x2="935.9" y2="556.2" stroke="#444" stroke-width="0.6" />
<line x1="925.2" y1="554.1" x2="925.2" y2="563.6" stroke="#333" stroke-width="0.7" />
<line x1="935.9" y1="556.2" x2="946.6" y2="567.8" stroke="#444" stroke-width="0.6" />
<line x1="935.9" y1="565.7" x2="946.6" y2="558.3" stroke="#444" stroke-width="0.6" />
<line x1="935.9" y1="556.2" x2="935.9" y2="565.7" stroke="#333" stroke-width="0.7" />
<line x1="946.6" y1="558.3" x2="957.3" y2="569.9" stroke="#444" stroke-width="0.6" />
<line x1="946.6" y1="567.8" x2="957.3" y2="560.4" stroke="#444" stroke-width="0.6" />
<line x1="946.6" y1="558.3" x2="946.6" y2="567.8" stroke="#333" stroke-width="0.7" />
<line x1="957.3" y1="560.4" x2="968.0" y2="572.0" stroke="#444" stroke-width="0.6" />
<line x1="957.3" y1="569.9" x2="968.0" y2="562.5" stroke="#444" stroke-width="0.6" />
<line x1="957.3" y1="560.4" x2="957.3" y2="569.9" stroke="#333" stroke-width="0.7" />
<line x1="968.0" y1="562.5" x2="978.7" y2="574.1" stroke="#444" stroke-width="0.6" />
<line x1="968.0" y1="572.0" x2="978.7" y2="564.6" stroke="#444" stroke-width="0.6" />
<line x1="968.0" y1="562.5" x2="968.0" y2="572.0" stroke="#333" stroke-width="0.7" />
<line x1="978.7" y1="564.6" x2="989.4" y2="576.2" stroke="#444" stroke-width="0.6" />
<line x1="978.7" y1="574.1" x2="989.4" y2="566.7" stroke="#444" stroke-width="0.6" />
<line x1="978.7" y1="564.6" x2="978.7" y2="574.1" stroke="#333" stroke-width="0.7" />
<line x1="989.4" y1="566.7" x2="1000.1" y2="578.3" stroke="#444" stroke-width="0.6" />
<line x1="989.4" y1="576.2" x2="1000.1" y2="568.8" stroke="#444" stroke-width="0.6" />
<line x1="989.4" y1="566.7" x2="989.4" y2="576.2" stroke="#333" stroke-width="0.7" />
<line x1="1000.1" y1="568.8" x2="1010.8" y2="580.4" stroke="#444" stroke-width="0.6" />
<line x1="1000.1" y1="578.3" x2="1010.8" y2="570.9" stroke="#444" stroke-width="0.6" />
<line x1="1000.1" y1="568.8" x2="1000.1" y2="578.3" stroke="#333" stroke-width="0.7" />
<line x1="1010.8" y1="570.9" x2="1021.5" y2="582.4" stroke="#444" stroke-width="0.6" />
<line x1="1010.8" y1="580.4" x2="1021.5" y2="572.9" stroke="#444" stroke-width="0.6" />
<line x1="1010.8" y1="570.9" x2="1010.8" y2="580.4" stroke="#333" stroke-width="0.7" />
<line x1="1021.5" y1="572.9" x2="1032.2" y2="584.5" stroke="#444" stroke-width="0.6" />
<line x1="1021.5" y1="582.4" x2="1032.2" y2="575.0" stroke="#444" stroke-width="0.6" />
<line x1="1021.5" y1="572.9" x2="1021.5" y2="582.4" stroke="#333" stroke-width="0.7" />
<line x1="1032.2" y1="575.0" x2="1042.9" y2="586.6" stroke="#444" stroke-width="0.6" />
<line x1="1032.2" y1="584.5" x2="1042.9" y2="577.1" stroke="#444" stroke-width="0.6" />
<line x1="1032.2" y1="575.0" x2="1032.2" y2="584.5" stroke="#333" stroke-width="0.7" />
<line x1="1042.9" y1="577.1" x2="1053.6" y2="588.7" stroke="#444" stroke-width="0.6" />
<line x1="1042.9" y1="586.6" x2="1053.6" y2="579.2" stroke="#444" stroke-width="0.6" />
<line x1="1042.9" y1="577.1" x2="1042.9" y2="586.6" stroke="#333" stroke-width="0.7" />
<line x1="1053.6" y1="579.2" x2="1064.4" y2="590.8" stroke="#444" stroke-width="0.6" />
<line x1="1053.6" y1="588.7" x2="1064.4" y2="581.3" stroke="#444" stroke-width="0.6" />
<line x1="1053.6" y1="579.2" x2="1053.6" y2="588.7" stroke="#333" stroke-width="0.7" />
<line x1="1064.4" y1="581.3" x2="1075.1" y2="592.9" stroke="#444" stroke-width="0.6" />
<line x1="1064.4" y1="590.8" x2="1075.1" y2="583.4" stroke="#444" stroke-width="0.6" />
<line x1="1064.4" y1="581.3" x2="1064.4" y2="590.8" stroke="#333" stroke-width="0.7" />
<line x1="1075.1" y1="583.4" x2="1085.8" y2="595.0" stroke="#444" stroke-width="0.6" />
<line x1="1075.1" y1="592.9" x2="1085.8" y2="585.5" stroke="#444" stroke-width="0.6" />
<line x1="1075.1" y1="583.4" x2="1075.1" y2="592.9" stroke="#333" stroke-width="0.7" />
<line x1="1085.8" y1="585.5" x2="1096.5" y2="597.1" stroke="#444" stroke-width="0.6" />
<line x1="1085.8" y1="595.0" x2="1096.5" y2="587.6" stroke="#444" stroke-width="0.6" />
<line x1="1085.8" y1="585.5" x2="1085.8" y2="595.0" stroke="#333" stroke-width="0.7" />
<line x1="1096.5" y1="587.6" x2="1107.2" y2="599.1" stroke="#444" stroke-width="0.6" />
<line x1="1096.5" y1="597.1" x2="1107.2" y2="589.6" stroke="#444" stroke-width="0.6" />
<line x1="1096.5" y1="587.6" x2="1096.5" y2="597.1" stroke="#333" stroke-width="0.7" />
<line x1="1107.2" y1="589.6" x2="1117.9" y2="601.2" stroke="#444" stroke-width="0.6" />
<line x1="1107.2" y1="599.1" x2="1117.9" y2="591.7" stroke="#444" stroke-width="0.6" />
<line x1="1107.2" y1="589.6" x2="1107.2" y2="599.1" stroke="#333" stroke-width="0.7" />
<line x1="1117.9" y1="591.7" x2="1128.6" y2="603.3" stroke="#444" stroke-width="0.6" />
<line x1="1117.9" y1="601.2" x2="1128.6" y2="593.8" stroke="#444" stroke-width="0.6" />
<line x1="1117.9" y1="591.7" x2="1117.9" y2="601.2" stroke="#333" stroke-width="0.7" />
<line x1="1128.6" y1="593.8" x2="1139.3" y2="605.4" stroke="#444" stroke-width="0.6" />
<line x1="1128.6" y1="603.3" x2="1139.3" y2="595.9" stroke="#444" stroke-width="0.6" />
<line x1="1128.6" y1="593.8" x2="1128.6" y2="603.3" stroke="#333" stroke-width="0.7" />
<line x1="1139.3" y1="595.9" x2="1150.0" y2="607.5" stroke="#444" stroke-width="0.6" />
<line x1="1139.3" y1="605.4" x2="1150.0" y2="598.0" stroke="#444" stroke-width="0.6" />
<line x1="1139.3" y1="595.9" x2="1139.3" y2="605.4" stroke="#333" stroke-width="0.7" />
<polygon points="1150.0,598.0 1162.0,572.0 1162.0,583.0 1148.5,608.0" fill="#e4e4e4" stroke="#222" stroke-width="0.7" />
<use href="#treeb" transform="translate(819.3,533.0) scale(1.25)"/>
<use href="#tree" transform="translate(855.0,539.0) scale(1.25)"/>
<use href="#treeb" transform="translate(887.6,545.0) scale(1.25)"/>
<use href="#tree" transform="translate(921.8,551.0) scale(1.25)"/>
<use href="#treeb" transform="translate(955.9,556.8) scale(1.25)"/>
<use href="#tree" transform="translate(988.6,562.8) scale(1.25)"/>
<use href="#treeb" transform="translate(1022.8,568.7) scale(1.25)"/>
<use href="#tree" transform="translate(1056.5,575.3) scale(1.25)"/>
<use href="#treeb" transform="translate(1092.1,584.2) scale(1.25)"/>
<use href="#tree" transform="translate(1130.7,593.0) scale(1.25)"/>
<polygon points="1722.0,349.0 1852.5,354.5 1821.0,705.0 1708.6,667.0 1716.0,386.0" fill="#f4f4f4" stroke="#444" stroke-width="0.6" />
<clipPath id="cpR"><polygon points="1752.0,386.0 1790.0,386.0 1790.0,356.0 1852.5,362.0 1821.0,705.0 1723.0,684.0 1745.0,470.0"/></clipPath>
<g clip-path="url(#cpR)">
<line x1="1745.0" y1="350.0" x2="1853.0" y2="354.5" stroke="#777" stroke-width="0.55" />
<line x1="1743.6" y1="360.4" x2="1852.0" y2="365.5" stroke="#777" stroke-width="0.55" />
<line x1="1742.2" y1="370.9" x2="1851.0" y2="376.6" stroke="#777" stroke-width="0.55" />
<line x1="1740.7" y1="381.5" x2="1850.0" y2="387.8" stroke="#777" stroke-width="0.55" />
<line x1="1739.3" y1="392.2" x2="1848.9" y2="399.1" stroke="#777" stroke-width="0.55" />
<line x1="1737.8" y1="402.9" x2="1847.9" y2="410.5" stroke="#777" stroke-width="0.55" />
<line x1="1736.3" y1="413.8" x2="1846.9" y2="422.0" stroke="#777" stroke-width="0.55" />
<line x1="1734.8" y1="424.8" x2="1845.8" y2="433.7" stroke="#777" stroke-width="0.55" />
<line x1="1733.3" y1="435.8" x2="1844.7" y2="445.4" stroke="#777" stroke-width="0.55" />
<line x1="1731.8" y1="447.0" x2="1843.6" y2="457.3" stroke="#777" stroke-width="0.55" />
<line x1="1730.2" y1="458.3" x2="1842.6" y2="469.2" stroke="#777" stroke-width="0.55" />
<line x1="1728.7" y1="469.6" x2="1841.5" y2="481.3" stroke="#777" stroke-width="0.55" />
<line x1="1727.1" y1="481.1" x2="1840.3" y2="493.5" stroke="#777" stroke-width="0.55" />
<line x1="1725.5" y1="492.7" x2="1839.2" y2="505.8" stroke="#777" stroke-width="0.55" />
<line x1="1724.0" y1="504.4" x2="1838.1" y2="518.2" stroke="#777" stroke-width="0.55" />
<line x1="1722.3" y1="516.1" x2="1837.0" y2="530.8" stroke="#777" stroke-width="0.55" />
<line x1="1720.7" y1="528.0" x2="1835.8" y2="543.5" stroke="#777" stroke-width="0.55" />
<line x1="1719.1" y1="540.1" x2="1834.6" y2="556.3" stroke="#777" stroke-width="0.55" />
<line x1="1717.4" y1="552.2" x2="1833.5" y2="569.2" stroke="#777" stroke-width="0.55" />
<line x1="1715.8" y1="564.4" x2="1832.3" y2="582.3" stroke="#777" stroke-width="0.55" />
<line x1="1714.1" y1="576.8" x2="1831.1" y2="595.5" stroke="#777" stroke-width="0.55" />
<line x1="1712.4" y1="589.2" x2="1829.8" y2="608.8" stroke="#777" stroke-width="0.55" />
<line x1="1710.7" y1="601.8" x2="1828.6" y2="622.3" stroke="#777" stroke-width="0.55" />
<line x1="1708.9" y1="614.6" x2="1827.4" y2="635.9" stroke="#777" stroke-width="0.55" />
<line x1="1707.2" y1="627.4" x2="1826.1" y2="649.6" stroke="#777" stroke-width="0.55" />
<line x1="1705.4" y1="640.4" x2="1824.9" y2="663.5" stroke="#777" stroke-width="0.55" />
<line x1="1703.6" y1="653.4" x2="1823.6" y2="677.5" stroke="#777" stroke-width="0.55" />
<line x1="1701.8" y1="666.7" x2="1822.3" y2="691.7" stroke="#777" stroke-width="0.55" />
<line x1="1700.0" y1="680.0" x2="1821.0" y2="706.0" stroke="#777" stroke-width="0.55" />
<line x1="960.0" y1="340.0" x2="1150.0" y2="720.0" stroke="#666" stroke-width="0.6" />
<line x1="978.0" y1="340.0" x2="1168.0" y2="720.0" stroke="#666" stroke-width="0.6" />
<line x1="996.0" y1="340.0" x2="1186.0" y2="720.0" stroke="#666" stroke-width="0.6" />
<line x1="1014.0" y1="340.0" x2="1204.0" y2="720.0" stroke="#666" stroke-width="0.6" />
<line x1="1032.0" y1="340.0" x2="1222.0" y2="720.0" stroke="#666" stroke-width="0.6" />
<line x1="1050.0" y1="340.0" x2="1240.0" y2="720.0" stroke="#666" stroke-width="0.6" />
<line x1="1068.0" y1="340.0" x2="1258.0" y2="720.0" stroke="#666" stroke-width="0.6" />
<line x1="1086.0" y1="340.0" x2="1276.0" y2="720.0" stroke="#666" stroke-width="0.6" />
<line x1="1104.0" y1="340.0" x2="1294.0" y2="720.0" stroke="#666" stroke-width="0.6" />
<line x1="1122.0" y1="340.0" x2="1312.0" y2="720.0" stroke="#666" stroke-width="0.6" />
<line x1="1140.0" y1="340.0" x2="1330.0" y2="720.0" stroke="#666" stroke-width="0.6" />
<line x1="1158.0" y1="340.0" x2="1348.0" y2="720.0" stroke="#666" stroke-width="0.6" />
<line x1="1176.0" y1="340.0" x2="1366.0" y2="720.0" stroke="#666" stroke-width="0.6" />
<line x1="1194.0" y1="340.0" x2="1384.0" y2="720.0" stroke="#666" stroke-width="0.6" />
<line x1="1212.0" y1="340.0" x2="1402.0" y2="720.0" stroke="#666" stroke-width="0.6" />
<line x1="1230.0" y1="340.0" x2="1420.0" y2="720.0" stroke="#666" stroke-width="0.6" />
<line x1="1248.0" y1="340.0" x2="1438.0" y2="720.0" stroke="#666" stroke-width="0.6" />
<line x1="1266.0" y1="340.0" x2="1456.0" y2="720.0" stroke="#666" stroke-width="0.6" />
<line x1="1284.0" y1="340.0" x2="1474.0" y2="720.0" stroke="#666" stroke-width="0.6" />
<line x1="1302.0" y1="340.0" x2="1492.0" y2="720.0" stroke="#666" stroke-width="0.6" />
<line x1="1320.0" y1="340.0" x2="1510.0" y2="720.0" stroke="#666" stroke-width="0.6" />
<line x1="1338.0" y1="340.0" x2="1528.0" y2="720.0" stroke="#666" stroke-width="0.6" />
<line x1="1356.0" y1="340.0" x2="1546.0" y2="720.0" stroke="#666" stroke-width="0.6" />
<line x1="1374.0" y1="340.0" x2="1564.0" y2="720.0" stroke="#666" stroke-width="0.6" />
<line x1="1392.0" y1="340.0" x2="1582.0" y2="720.0" stroke="#666" stroke-width="0.6" />
<line x1="1410.0" y1="340.0" x2="1600.0" y2="720.0" stroke="#666" stroke-width="0.6" />
<line x1="1428.0" y1="340.0" x2="1618.0" y2="720.0" stroke="#666" stroke-width="0.6" />
<line x1="1446.0" y1="340.0" x2="1636.0" y2="720.0" stroke="#666" stroke-width="0.6" />
<line x1="1464.0" y1="340.0" x2="1654.0" y2="720.0" stroke="#666" stroke-width="0.6" />
<line x1="1482.0" y1="340.0" x2="1672.0" y2="720.0" stroke="#666" stroke-width="0.6" />
<line x1="1500.0" y1="340.0" x2="1690.0" y2="720.0" stroke="#666" stroke-width="0.6" />
<line x1="1518.0" y1="340.0" x2="1708.0" y2="720.0" stroke="#666" stroke-width="0.6" />
<line x1="1536.0" y1="340.0" x2="1726.0" y2="720.0" stroke="#666" stroke-width="0.6" />
<line x1="1554.0" y1="340.0" x2="1744.0" y2="720.0" stroke="#666" stroke-width="0.6" />
<line x1="1572.0" y1="340.0" x2="1762.0" y2="720.0" stroke="#666" stroke-width="0.6" />
<line x1="1590.0" y1="340.0" x2="1780.0" y2="720.0" stroke="#666" stroke-width="0.6" />
<line x1="1608.0" y1="340.0" x2="1798.0" y2="720.0" stroke="#666" stroke-width="0.6" />
<line x1="1626.0" y1="340.0" x2="1816.0" y2="720.0" stroke="#666" stroke-width="0.6" />
<line x1="1644.0" y1="340.0" x2="1834.0" y2="720.0" stroke="#666" stroke-width="0.6" />
<line x1="1662.0" y1="340.0" x2="1852.0" y2="720.0" stroke="#666" stroke-width="0.6" />
<line x1="1680.0" y1="340.0" x2="1870.0" y2="720.0" stroke="#666" stroke-width="0.6" />
<line x1="1698.0" y1="340.0" x2="1888.0" y2="720.0" stroke="#666" stroke-width="0.6" />
<line x1="1716.0" y1="340.0" x2="1906.0" y2="720.0" stroke="#666" stroke-width="0.6" />
<line x1="1734.0" y1="340.0" x2="1924.0" y2="720.0" stroke="#666" stroke-width="0.6" />
<line x1="1752.0" y1="340.0" x2="1942.0" y2="720.0" stroke="#666" stroke-width="0.6" />
<line x1="1770.0" y1="340.0" x2="1960.0" y2="720.0" stroke="#666" stroke-width="0.6" />
<line x1="1788.0" y1="340.0" x2="1978.0" y2="720.0" stroke="#666" stroke-width="0.6" />
<line x1="1806.0" y1="340.0" x2="1996.0" y2="720.0" stroke="#666" stroke-width="0.6" />
<line x1="1824.0" y1="340.0" x2="2014.0" y2="720.0" stroke="#666" stroke-width="0.6" />
<line x1="1842.0" y1="340.0" x2="2032.0" y2="720.0" stroke="#666" stroke-width="0.6" />
<line x1="1860.0" y1="340.0" x2="2050.0" y2="720.0" stroke="#666" stroke-width="0.6" />
<line x1="1878.0" y1="340.0" x2="2068.0" y2="720.0" stroke="#666" stroke-width="0.6" />
<line x1="1896.0" y1="340.0" x2="2086.0" y2="720.0" stroke="#666" stroke-width="0.6" />
<line x1="1914.0" y1="340.0" x2="2104.0" y2="720.0" stroke="#666" stroke-width="0.6" />
<line x1="1932.0" y1="340.0" x2="2122.0" y2="720.0" stroke="#666" stroke-width="0.6" />
<line x1="1950.0" y1="340.0" x2="2140.0" y2="720.0" stroke="#666" stroke-width="0.6" />
<line x1="1968.0" y1="340.0" x2="2158.0" y2="720.0" stroke="#666" stroke-width="0.6" />
<line x1="1986.0" y1="340.0" x2="2176.0" y2="720.0" stroke="#666" stroke-width="0.6" />
<line x1="2004.0" y1="340.0" x2="2194.0" y2="720.0" stroke="#666" stroke-width="0.6" />
<line x1="2022.0" y1="340.0" x2="2212.0" y2="720.0" stroke="#666" stroke-width="0.6" />
<line x1="2040.0" y1="340.0" x2="2230.0" y2="720.0" stroke="#666" stroke-width="0.6" />
<line x1="2058.0" y1="340.0" x2="2248.0" y2="720.0" stroke="#666" stroke-width="0.6" />
<line x1="2076.0" y1="340.0" x2="2266.0" y2="720.0" stroke="#666" stroke-width="0.6" />
<line x1="2094.0" y1="340.0" x2="2284.0" y2="720.0" stroke="#666" stroke-width="0.6" />
<line x1="2112.0" y1="340.0" x2="2302.0" y2="720.0" stroke="#666" stroke-width="0.6" />
<line x1="2130.0" y1="340.0" x2="2320.0" y2="720.0" stroke="#666" stroke-width="0.6" />
<line x1="2148.0" y1="340.0" x2="2338.0" y2="720.0" stroke="#666" stroke-width="0.6" />
<line x1="2166.0" y1="340.0" x2="2356.0" y2="720.0" stroke="#666" stroke-width="0.6" />
<line x1="2184.0" y1="340.0" x2="2374.0" y2="720.0" stroke="#666" stroke-width="0.6" />
<line x1="2202.0" y1="340.0" x2="2392.0" y2="720.0" stroke="#666" stroke-width="0.6" />
<line x1="1745.0" y1="350.0" x2="1700.0" y2="680.0" stroke="#444" stroke-width="0.7" />
<line x1="1779.7" y1="351.4" x2="1738.7" y2="688.3" stroke="#444" stroke-width="0.7" />
<line x1="1815.7" y1="352.9" x2="1779.0" y2="697.0" stroke="#444" stroke-width="0.7" />
<line x1="1853.0" y1="354.5" x2="1821.0" y2="706.0" stroke="#444" stroke-width="0.7" />
</g>
<polygon points="1773.3,342.9 1852.5,354.5 1852.5,362.7 1773.3,349.5" fill="#cfcfcf" stroke="#444" stroke-width="0.5" />
<polygon points="1725.0,349.0 1757.0,352.0 1754.0,383.0 1720.0,378.0" fill="#f1f1f1" stroke="#444" stroke-width="0.6" />
<polygon points="1757.0,352.0 1791.0,356.0 1788.0,388.0 1754.0,383.0" fill="#f1f1f1" stroke="#444" stroke-width="0.6" />
<polygon points="1758.4,392.4 1770.0,394.0 1753.5,516.2 1742.0,512.9" fill="#dedede" stroke="#222" stroke-width="0.9" />
<polygon points="1811.0,357.8 1827.7,361.0 1824.4,395.7 1806.3,392.4" fill="#dedede" stroke="#222" stroke-width="0.9" />
<polygon points="1806.3,400.7 1824.4,404.0 1811.2,527.7 1791.4,522.8" fill="#dedede" stroke="#222" stroke-width="0.9" />
<polygon points="1788.0,552.5 1808.0,555.8 1793.7,697.6 1773.8,694.0" fill="#dedede" stroke="#222" stroke-width="0.9" />
<polygon points="1716.0,386.0 1750.0,389.0 1723.0,684.0 1708.6,667.0" fill="#fbfbfb" stroke="#444" stroke-width="0.6" />
<polygon points="1735.0,410.0 1748.0,412.0 1734.0,560.0 1722.0,556.0" fill="#fff" stroke="#555" stroke-width="0.5" />
<polygon points="1715.5,436.0 1729.0,438.6 1712.0,600.0 1700.0,598.0" fill="#a4a4a4" stroke="none" stroke-width="0.8" opacity="0.85"/>
<line x1="1851.0" y1="356.0" x2="1809.5" y2="806.0" stroke="#8a8a8a" stroke-width="3.2" />
<line x1="1852.5" y1="354.5" x2="1810.0" y2="806.0" stroke="#333" stroke-width="1.0" stroke-dasharray="5 1.5"/>
<rect x="1846.0" y="372.0" width="3" height="10" fill="#fff" stroke="#444" stroke-width="0.5"/>
<rect x="1842.0" y="417.4" width="3" height="10" fill="#fff" stroke="#444" stroke-width="0.5"/>
<rect x="1838.0" y="462.9" width="3" height="10" fill="#fff" stroke="#444" stroke-width="0.5"/>
<rect x="1834.0" y="508.3" width="3" height="10" fill="#fff" stroke="#444" stroke-width="0.5"/>
<rect x="1830.0" y="553.7" width="3" height="10" fill="#fff" stroke="#444" stroke-width="0.5"/>
<rect x="1826.0" y="599.1" width="3" height="10" fill="#fff" stroke="#444" stroke-width="0.5"/>
<rect x="1822.0" y="644.6" width="3" height="10" fill="#fff" stroke="#444" stroke-width="0.5"/>
<rect x="1818.0" y="690.0" width="3" height="10" fill="#fff" stroke="#444" stroke-width="0.5"/>
<polygon points="1289.0,459.7 1540.0,504.3 1536.0,512.0 1283.0,466.0" fill="#fbfbfb" stroke="#222" stroke-width="0.7" />
<polygon points="1283.0,466.0 1314.0,473.0 1287.5,553.8 1240.0,546.0" fill="#fcfcfc" stroke="#222" stroke-width="0.7" />
<line x1="1261.0" y1="507.0" x2="1299.0" y2="514.0" stroke="#333" stroke-width="0.7" />
<line x1="1256.0" y1="516.0" x2="1297.0" y2="523.0" stroke="#333" stroke-width="0.7" />
<polygon points="1483.8,501.0 1523.4,507.6 1498.7,596.7 1460.7,585.0" fill="#fdfdfd" stroke="#222" stroke-width="0.7" />
<polygon points="1523.4,507.6 1536.0,510.0 1510.0,600.0 1498.7,596.7" fill="#eee" stroke="#222" stroke-width="0.6" />
<polygon points="1236.3,583.0 1700.0,664.0 1700.0,682.0 1236.3,597.0" fill="#b4b4b4" stroke="#333" stroke-width="0.5" />
<polygon points="1240.0,552.0 1287.5,560.0 1459.0,593.4 1500.0,600.0 1500.0,631.0 1240.0,590.0" fill="#a9a9a9" stroke="#222" stroke-width="0.6" />
<polygon points="1238.4,552.0 1241.6,552.0 1241.6,590.0 1238.4,590.0" fill="#fff" stroke="#333" stroke-width="0.5" />
<polygon points="1274.6,558.1 1277.8,558.1 1277.8,595.6 1274.6,595.6" fill="#fff" stroke="#333" stroke-width="0.5" />
<polygon points="1309.7,564.1 1312.9,564.1 1312.9,601.0 1309.7,601.0" fill="#fff" stroke="#333" stroke-width="0.5" />
<polygon points="1343.6,569.8 1346.8,569.8 1346.8,606.2 1343.6,606.2" fill="#fff" stroke="#333" stroke-width="0.5" />
<polygon points="1376.5,575.4 1379.7,575.4 1379.7,611.2 1376.5,611.2" fill="#fff" stroke="#333" stroke-width="0.5" />
<polygon points="1408.4,580.8 1411.6,580.8 1411.6,616.2 1408.4,616.2" fill="#fff" stroke="#333" stroke-width="0.5" />
<polygon points="1439.3,586.0 1442.5,586.0 1442.5,620.9 1439.3,620.9" fill="#fff" stroke="#333" stroke-width="0.5" />
<polygon points="1469.3,591.1 1472.5,591.1 1472.5,625.5 1469.3,625.5" fill="#fff" stroke="#333" stroke-width="0.5" />
<polygon points="1498.4,596.0 1501.6,596.0 1501.6,630.0 1498.4,630.0" fill="#fff" stroke="#333" stroke-width="0.5" />
<path d="M1302,572 q4,-14 9,-2 q8,2 4,10 l-16,-2 q-3,-5 3,-6z" fill="#999" stroke="#666" stroke-width="0.5"/>
<path d="M1375,586 q4,-14 9,-2 q8,2 4,10 l-16,-2 q-3,-5 3,-6z" fill="#999" stroke="#666" stroke-width="0.5"/>
<path d="M1430,597 q4,-14 9,-2 q8,2 4,10 l-16,-2 q-3,-5 3,-6z" fill="#999" stroke="#666" stroke-width="0.5"/>
<polygon points="1287.5,553.8 1460.7,583.5 1459.0,593.4 1287.5,562.0" fill="#d9d9d9" stroke="#222" stroke-width="0.7" />
<polygon points="1313.9,472.9 1483.8,499.3 1460.7,583.5 1287.5,553.8" fill="#e9e9e9" stroke="#222" stroke-width="0.9" />
<polygon points="1236.3,571.9 1712.0,654.0 1712.0,667.0 1236.3,583.4" fill="#fbfbfb" stroke="#222" stroke-width="0.8" />
<polygon points="1233.0,566.0 1244.0,546.0 1248.0,547.0 1237.0,572.0" fill="#fbfbfb" stroke="#222" stroke-width="0.6" />
<line x1="1190.0" y1="584.0" x2="1820.0" y2="703.0" stroke="#222" stroke-width="0.8" />
<line x1="1190.0" y1="589.5" x2="1820.0" y2="708.5" stroke="#222" stroke-width="0.8" />
<line x1="1190.0" y1="584.0" x2="1199.0" y2="591.2" stroke="#333" stroke-width="0.6" />
<line x1="1190.0" y1="589.5" x2="1199.0" y2="585.7" stroke="#333" stroke-width="0.6" />
<line x1="1199.0" y1="585.7" x2="1208.0" y2="592.9" stroke="#333" stroke-width="0.6" />
<line x1="1199.0" y1="591.2" x2="1208.0" y2="587.4" stroke="#333" stroke-width="0.6" />
<line x1="1208.0" y1="587.4" x2="1217.0" y2="594.6" stroke="#333" stroke-width="0.6" />
<line x1="1208.0" y1="592.9" x2="1217.0" y2="589.1" stroke="#333" stroke-width="0.6" />
<line x1="1217.0" y1="589.1" x2="1226.0" y2="596.3" stroke="#333" stroke-width="0.6" />
<line x1="1217.0" y1="594.6" x2="1226.0" y2="590.8" stroke="#333" stroke-width="0.6" />
<line x1="1226.0" y1="590.8" x2="1235.0" y2="598.0" stroke="#333" stroke-width="0.6" />
<line x1="1226.0" y1="596.3" x2="1235.0" y2="592.5" stroke="#333" stroke-width="0.6" />
<line x1="1235.0" y1="592.5" x2="1244.0" y2="599.7" stroke="#333" stroke-width="0.6" />
<line x1="1235.0" y1="598.0" x2="1244.0" y2="594.2" stroke="#333" stroke-width="0.6" />
<line x1="1244.0" y1="594.2" x2="1253.0" y2="601.4" stroke="#333" stroke-width="0.6" />
<line x1="1244.0" y1="599.7" x2="1253.0" y2="595.9" stroke="#333" stroke-width="0.6" />
<line x1="1253.0" y1="595.9" x2="1262.0" y2="603.1" stroke="#333" stroke-width="0.6" />
<line x1="1253.0" y1="601.4" x2="1262.0" y2="597.6" stroke="#333" stroke-width="0.6" />
<line x1="1262.0" y1="597.6" x2="1271.0" y2="604.8" stroke="#333" stroke-width="0.6" />
<line x1="1262.0" y1="603.1" x2="1271.0" y2="599.3" stroke="#333" stroke-width="0.6" />
<line x1="1271.0" y1="599.3" x2="1280.0" y2="606.5" stroke="#333" stroke-width="0.6" />
<line x1="1271.0" y1="604.8" x2="1280.0" y2="601.0" stroke="#333" stroke-width="0.6" />
<line x1="1280.0" y1="601.0" x2="1289.0" y2="608.2" stroke="#333" stroke-width="0.6" />
<line x1="1280.0" y1="606.5" x2="1289.0" y2="602.7" stroke="#333" stroke-width="0.6" />
<line x1="1289.0" y1="602.7" x2="1298.0" y2="609.9" stroke="#333" stroke-width="0.6" />
<line x1="1289.0" y1="608.2" x2="1298.0" y2="604.4" stroke="#333" stroke-width="0.6" />
<line x1="1298.0" y1="604.4" x2="1307.0" y2="611.6" stroke="#333" stroke-width="0.6" />
<line x1="1298.0" y1="609.9" x2="1307.0" y2="606.1" stroke="#333" stroke-width="0.6" />
<line x1="1307.0" y1="606.1" x2="1316.0" y2="613.3" stroke="#333" stroke-width="0.6" />
<line x1="1307.0" y1="611.6" x2="1316.0" y2="607.8" stroke="#333" stroke-width="0.6" />
<line x1="1316.0" y1="607.8" x2="1325.0" y2="615.0" stroke="#333" stroke-width="0.6" />
<line x1="1316.0" y1="613.3" x2="1325.0" y2="609.5" stroke="#333" stroke-width="0.6" />
<line x1="1325.0" y1="609.5" x2="1334.0" y2="616.7" stroke="#333" stroke-width="0.6" />
<line x1="1325.0" y1="615.0" x2="1334.0" y2="611.2" stroke="#333" stroke-width="0.6" />
<line x1="1334.0" y1="611.2" x2="1343.0" y2="618.4" stroke="#333" stroke-width="0.6" />
<line x1="1334.0" y1="616.7" x2="1343.0" y2="612.9" stroke="#333" stroke-width="0.6" />
<line x1="1343.0" y1="612.9" x2="1352.0" y2="620.1" stroke="#333" stroke-width="0.6" />
<line x1="1343.0" y1="618.4" x2="1352.0" y2="614.6" stroke="#333" stroke-width="0.6" />
<line x1="1352.0" y1="614.6" x2="1361.0" y2="621.8" stroke="#333" stroke-width="0.6" />
<line x1="1352.0" y1="620.1" x2="1361.0" y2="616.3" stroke="#333" stroke-width="0.6" />
<line x1="1361.0" y1="616.3" x2="1370.0" y2="623.5" stroke="#333" stroke-width="0.6" />
<line x1="1361.0" y1="621.8" x2="1370.0" y2="618.0" stroke="#333" stroke-width="0.6" />
<line x1="1370.0" y1="618.0" x2="1379.0" y2="625.2" stroke="#333" stroke-width="0.6" />
<line x1="1370.0" y1="623.5" x2="1379.0" y2="619.7" stroke="#333" stroke-width="0.6" />
<line x1="1379.0" y1="619.7" x2="1388.0" y2="626.9" stroke="#333" stroke-width="0.6" />
<line x1="1379.0" y1="625.2" x2="1388.0" y2="621.4" stroke="#333" stroke-width="0.6" />
<line x1="1388.0" y1="621.4" x2="1397.0" y2="628.6" stroke="#333" stroke-width="0.6" />
<line x1="1388.0" y1="626.9" x2="1397.0" y2="623.1" stroke="#333" stroke-width="0.6" />
<line x1="1397.0" y1="623.1" x2="1406.0" y2="630.3" stroke="#333" stroke-width="0.6" />
<line x1="1397.0" y1="628.6" x2="1406.0" y2="624.8" stroke="#333" stroke-width="0.6" />
<line x1="1406.0" y1="624.8" x2="1415.0" y2="632.0" stroke="#333" stroke-width="0.6" />
<line x1="1406.0" y1="630.3" x2="1415.0" y2="626.5" stroke="#333" stroke-width="0.6" />
<line x1="1415.0" y1="626.5" x2="1424.0" y2="633.7" stroke="#333" stroke-width="0.6" />
<line x1="1415.0" y1="632.0" x2="1424.0" y2="628.2" stroke="#333" stroke-width="0.6" />
<line x1="1424.0" y1="628.2" x2="1433.0" y2="635.4" stroke="#333" stroke-width="0.6" />
<line x1="1424.0" y1="633.7" x2="1433.0" y2="629.9" stroke="#333" stroke-width="0.6" />
<line x1="1433.0" y1="629.9" x2="1442.0" y2="637.1" stroke="#333" stroke-width="0.6" />
<line x1="1433.0" y1="635.4" x2="1442.0" y2="631.6" stroke="#333" stroke-width="0.6" />
<line x1="1442.0" y1="631.6" x2="1451.0" y2="638.8" stroke="#333" stroke-width="0.6" />
<line x1="1442.0" y1="637.1" x2="1451.0" y2="633.3" stroke="#333" stroke-width="0.6" />
<line x1="1451.0" y1="633.3" x2="1460.0" y2="640.5" stroke="#333" stroke-width="0.6" />
<line x1="1451.0" y1="638.8" x2="1460.0" y2="635.0" stroke="#333" stroke-width="0.6" />
<line x1="1460.0" y1="635.0" x2="1469.0" y2="642.2" stroke="#333" stroke-width="0.6" />
<line x1="1460.0" y1="640.5" x2="1469.0" y2="636.7" stroke="#333" stroke-width="0.6" />
<line x1="1469.0" y1="636.7" x2="1478.0" y2="643.9" stroke="#333" stroke-width="0.6" />
<line x1="1469.0" y1="642.2" x2="1478.0" y2="638.4" stroke="#333" stroke-width="0.6" />
<line x1="1478.0" y1="638.4" x2="1487.0" y2="645.6" stroke="#333" stroke-width="0.6" />
<line x1="1478.0" y1="643.9" x2="1487.0" y2="640.1" stroke="#333" stroke-width="0.6" />
<line x1="1487.0" y1="640.1" x2="1496.0" y2="647.3" stroke="#333" stroke-width="0.6" />
<line x1="1487.0" y1="645.6" x2="1496.0" y2="641.8" stroke="#333" stroke-width="0.6" />
<line x1="1496.0" y1="641.8" x2="1505.0" y2="649.0" stroke="#333" stroke-width="0.6" />
<line x1="1496.0" y1="647.3" x2="1505.0" y2="643.5" stroke="#333" stroke-width="0.6" />
<line x1="1505.0" y1="643.5" x2="1514.0" y2="650.7" stroke="#333" stroke-width="0.6" />
<line x1="1505.0" y1="649.0" x2="1514.0" y2="645.2" stroke="#333" stroke-width="0.6" />
<line x1="1514.0" y1="645.2" x2="1523.0" y2="652.4" stroke="#333" stroke-width="0.6" />
<line x1="1514.0" y1="650.7" x2="1523.0" y2="646.9" stroke="#333" stroke-width="0.6" />
<line x1="1523.0" y1="646.9" x2="1532.0" y2="654.1" stroke="#333" stroke-width="0.6" />
<line x1="1523.0" y1="652.4" x2="1532.0" y2="648.6" stroke="#333" stroke-width="0.6" />
<line x1="1532.0" y1="648.6" x2="1541.0" y2="655.8" stroke="#333" stroke-width="0.6" />
<line x1="1532.0" y1="654.1" x2="1541.0" y2="650.3" stroke="#333" stroke-width="0.6" />
<line x1="1541.0" y1="650.3" x2="1550.0" y2="657.5" stroke="#333" stroke-width="0.6" />
<line x1="1541.0" y1="655.8" x2="1550.0" y2="652.0" stroke="#333" stroke-width="0.6" />
<line x1="1550.0" y1="652.0" x2="1559.0" y2="659.2" stroke="#333" stroke-width="0.6" />
<line x1="1550.0" y1="657.5" x2="1559.0" y2="653.7" stroke="#333" stroke-width="0.6" />
<line x1="1559.0" y1="653.7" x2="1568.0" y2="660.9" stroke="#333" stroke-width="0.6" />
<line x1="1559.0" y1="659.2" x2="1568.0" y2="655.4" stroke="#333" stroke-width="0.6" />
<line x1="1568.0" y1="655.4" x2="1577.0" y2="662.6" stroke="#333" stroke-width="0.6" />
<line x1="1568.0" y1="660.9" x2="1577.0" y2="657.1" stroke="#333" stroke-width="0.6" />
<line x1="1577.0" y1="657.1" x2="1586.0" y2="664.3" stroke="#333" stroke-width="0.6" />
<line x1="1577.0" y1="662.6" x2="1586.0" y2="658.8" stroke="#333" stroke-width="0.6" />
<line x1="1586.0" y1="658.8" x2="1595.0" y2="666.0" stroke="#333" stroke-width="0.6" />
<line x1="1586.0" y1="664.3" x2="1595.0" y2="660.5" stroke="#333" stroke-width="0.6" />
<line x1="1595.0" y1="660.5" x2="1604.0" y2="667.7" stroke="#333" stroke-width="0.6" />
<line x1="1595.0" y1="666.0" x2="1604.0" y2="662.2" stroke="#333" stroke-width="0.6" />
<line x1="1604.0" y1="662.2" x2="1613.0" y2="669.4" stroke="#333" stroke-width="0.6" />
<line x1="1604.0" y1="667.7" x2="1613.0" y2="663.9" stroke="#333" stroke-width="0.6" />
<line x1="1613.0" y1="663.9" x2="1622.0" y2="671.1" stroke="#333" stroke-width="0.6" />
<line x1="1613.0" y1="669.4" x2="1622.0" y2="665.6" stroke="#333" stroke-width="0.6" />
<line x1="1622.0" y1="665.6" x2="1631.0" y2="672.8" stroke="#333" stroke-width="0.6" />
<line x1="1622.0" y1="671.1" x2="1631.0" y2="667.3" stroke="#333" stroke-width="0.6" />
<line x1="1631.0" y1="667.3" x2="1640.0" y2="674.5" stroke="#333" stroke-width="0.6" />
<line x1="1631.0" y1="672.8" x2="1640.0" y2="669.0" stroke="#333" stroke-width="0.6" />
<line x1="1640.0" y1="669.0" x2="1649.0" y2="676.2" stroke="#333" stroke-width="0.6" />
<line x1="1640.0" y1="674.5" x2="1649.0" y2="670.7" stroke="#333" stroke-width="0.6" />
<line x1="1649.0" y1="670.7" x2="1658.0" y2="677.9" stroke="#333" stroke-width="0.6" />
<line x1="1649.0" y1="676.2" x2="1658.0" y2="672.4" stroke="#333" stroke-width="0.6" />
<line x1="1658.0" y1="672.4" x2="1667.0" y2="679.6" stroke="#333" stroke-width="0.6" />
<line x1="1658.0" y1="677.9" x2="1667.0" y2="674.1" stroke="#333" stroke-width="0.6" />
<line x1="1667.0" y1="674.1" x2="1676.0" y2="681.3" stroke="#333" stroke-width="0.6" />
<line x1="1667.0" y1="679.6" x2="1676.0" y2="675.8" stroke="#333" stroke-width="0.6" />
<line x1="1676.0" y1="675.8" x2="1685.0" y2="683.0" stroke="#333" stroke-width="0.6" />
<line x1="1676.0" y1="681.3" x2="1685.0" y2="677.5" stroke="#333" stroke-width="0.6" />
<line x1="1685.0" y1="677.5" x2="1694.0" y2="684.7" stroke="#333" stroke-width="0.6" />
<line x1="1685.0" y1="683.0" x2="1694.0" y2="679.2" stroke="#333" stroke-width="0.6" />
<line x1="1694.0" y1="679.2" x2="1703.0" y2="686.4" stroke="#333" stroke-width="0.6" />
<line x1="1694.0" y1="684.7" x2="1703.0" y2="680.9" stroke="#333" stroke-width="0.6" />
<line x1="1703.0" y1="680.9" x2="1712.0" y2="688.1" stroke="#333" stroke-width="0.6" />
<line x1="1703.0" y1="686.4" x2="1712.0" y2="682.6" stroke="#333" stroke-width="0.6" />
<line x1="1712.0" y1="682.6" x2="1721.0" y2="689.8" stroke="#333" stroke-width="0.6" />
<line x1="1712.0" y1="688.1" x2="1721.0" y2="684.3" stroke="#333" stroke-width="0.6" />
<line x1="1721.0" y1="684.3" x2="1730.0" y2="691.5" stroke="#333" stroke-width="0.6" />
<line x1="1721.0" y1="689.8" x2="1730.0" y2="686.0" stroke="#333" stroke-width="0.6" />
<line x1="1730.0" y1="686.0" x2="1739.0" y2="693.2" stroke="#333" stroke-width="0.6" />
<line x1="1730.0" y1="691.5" x2="1739.0" y2="687.7" stroke="#333" stroke-width="0.6" />
<line x1="1739.0" y1="687.7" x2="1748.0" y2="694.9" stroke="#333" stroke-width="0.6" />
<line x1="1739.0" y1="693.2" x2="1748.0" y2="689.4" stroke="#333" stroke-width="0.6" />
<line x1="1748.0" y1="689.4" x2="1757.0" y2="696.6" stroke="#333" stroke-width="0.6" />
<line x1="1748.0" y1="694.9" x2="1757.0" y2="691.1" stroke="#333" stroke-width="0.6" />
<line x1="1757.0" y1="691.1" x2="1766.0" y2="698.3" stroke="#333" stroke-width="0.6" />
<line x1="1757.0" y1="696.6" x2="1766.0" y2="692.8" stroke="#333" stroke-width="0.6" />
<line x1="1766.0" y1="692.8" x2="1775.0" y2="700.0" stroke="#333" stroke-width="0.6" />
<line x1="1766.0" y1="698.3" x2="1775.0" y2="694.5" stroke="#333" stroke-width="0.6" />
<line x1="1775.0" y1="694.5" x2="1784.0" y2="701.7" stroke="#333" stroke-width="0.6" />
<line x1="1775.0" y1="700.0" x2="1784.0" y2="696.2" stroke="#333" stroke-width="0.6" />
<line x1="1784.0" y1="696.2" x2="1793.0" y2="703.4" stroke="#333" stroke-width="0.6" />
<line x1="1784.0" y1="701.7" x2="1793.0" y2="697.9" stroke="#333" stroke-width="0.6" />
<line x1="1793.0" y1="697.9" x2="1802.0" y2="705.1" stroke="#333" stroke-width="0.6" />
<line x1="1793.0" y1="703.4" x2="1802.0" y2="699.6" stroke="#333" stroke-width="0.6" />
<line x1="1802.0" y1="699.6" x2="1811.0" y2="706.8" stroke="#333" stroke-width="0.6" />
<line x1="1802.0" y1="705.1" x2="1811.0" y2="701.3" stroke="#333" stroke-width="0.6" />
<line x1="1811.0" y1="701.3" x2="1820.0" y2="708.5" stroke="#333" stroke-width="0.6" />
<line x1="1811.0" y1="706.8" x2="1820.0" y2="703.0" stroke="#333" stroke-width="0.6" />
<polygon points="1508.7,631.5 1511.3,631.5 1511.3,644.5 1508.7,644.5" fill="#fff" stroke="#333" stroke-width="0.5" />
<polygon points="1526.0,634.5 1528.6,634.5 1528.6,647.5 1526.0,647.5" fill="#fff" stroke="#333" stroke-width="0.5" />
<polygon points="1543.2,637.6 1545.8,637.6 1545.8,650.6 1543.2,650.6" fill="#fff" stroke="#333" stroke-width="0.5" />
<polygon points="1560.5,640.6 1563.1,640.6 1563.1,653.6 1560.5,653.6" fill="#fff" stroke="#333" stroke-width="0.5" />
<polygon points="1577.8,643.7 1580.4,643.7 1580.4,656.7 1577.8,656.7" fill="#fff" stroke="#333" stroke-width="0.5" />
<polygon points="1595.1,646.7 1597.7,646.7 1597.7,659.7 1595.1,659.7" fill="#fff" stroke="#333" stroke-width="0.5" />
<polygon points="1612.3,649.8 1614.9,649.8 1614.9,662.8 1612.3,662.8" fill="#fff" stroke="#333" stroke-width="0.5" />
<polygon points="1629.6,652.8 1632.2,652.8 1632.2,665.8 1629.6,665.8" fill="#fff" stroke="#333" stroke-width="0.5" />
<polygon points="1646.9,655.9 1649.5,655.9 1649.5,668.9 1646.9,668.9" fill="#fff" stroke="#333" stroke-width="0.5" />
<polygon points="1664.2,658.9 1666.8,658.9 1666.8,671.9 1664.2,671.9" fill="#fff" stroke="#333" stroke-width="0.5" />
<polygon points="1681.4,662.0 1684.0,662.0 1684.0,675.0 1681.4,675.0" fill="#fff" stroke="#333" stroke-width="0.5" />
<polygon points="1698.7,665.0 1701.3,665.0 1701.3,678.0 1698.7,678.0" fill="#fff" stroke="#333" stroke-width="0.5" />
<polygon points="1521.0,653.0 1533.0,655.5 1533.0,674.0 1521.0,671.5" fill="#f0f0f0" stroke="#222" stroke-width="0.7" />
<rect x="1524" y="661" width="6" height="5" fill="#444"/>
<line x1="1193.3" y1="596.3" x2="1183.4" y2="615.0" stroke="#222" stroke-width="1.15" />
<line x1="1212.3" y1="599.9" x2="1202.5" y2="618.7" stroke="#222" stroke-width="1.15" />
<line x1="1231.3" y1="603.6" x2="1221.7" y2="622.5" stroke="#222" stroke-width="1.15" />
<line x1="1250.3" y1="607.2" x2="1240.8" y2="626.2" stroke="#222" stroke-width="1.15" />
<line x1="1269.3" y1="610.8" x2="1260.0" y2="629.9" stroke="#222" stroke-width="1.15" />
<line x1="1288.3" y1="614.4" x2="1279.1" y2="633.6" stroke="#222" stroke-width="1.15" />
<line x1="1307.2" y1="618.1" x2="1298.2" y2="637.4" stroke="#222" stroke-width="1.15" />
<line x1="1326.2" y1="621.7" x2="1317.4" y2="641.1" stroke="#222" stroke-width="1.15" />
<line x1="1345.2" y1="625.3" x2="1336.5" y2="644.8" stroke="#222" stroke-width="1.15" />
<line x1="1364.2" y1="628.9" x2="1355.7" y2="648.5" stroke="#222" stroke-width="1.15" />
<line x1="1383.2" y1="632.6" x2="1374.8" y2="652.3" stroke="#222" stroke-width="1.15" />
<line x1="1402.2" y1="636.2" x2="1393.9" y2="656.0" stroke="#222" stroke-width="1.15" />
<line x1="1421.2" y1="639.8" x2="1413.1" y2="659.7" stroke="#222" stroke-width="1.15" />
<line x1="1440.2" y1="643.5" x2="1432.2" y2="663.5" stroke="#222" stroke-width="1.15" />
<line x1="1459.2" y1="647.1" x2="1451.4" y2="667.2" stroke="#222" stroke-width="1.15" />
<line x1="1478.2" y1="650.7" x2="1470.5" y2="670.9" stroke="#222" stroke-width="1.15" />
<line x1="1497.2" y1="654.3" x2="1489.6" y2="674.6" stroke="#222" stroke-width="1.15" />
<line x1="1516.1" y1="658.0" x2="1508.8" y2="678.4" stroke="#222" stroke-width="1.15" />
<line x1="1535.1" y1="661.6" x2="1527.9" y2="682.1" stroke="#222" stroke-width="1.15" />
<line x1="1554.1" y1="665.2" x2="1547.0" y2="685.8" stroke="#222" stroke-width="1.15" />
<line x1="1573.1" y1="668.8" x2="1566.2" y2="689.5" stroke="#222" stroke-width="1.15" />
<line x1="1592.1" y1="672.5" x2="1585.3" y2="693.3" stroke="#222" stroke-width="1.15" />
<line x1="1611.1" y1="676.1" x2="1604.5" y2="697.0" stroke="#222" stroke-width="1.15" />
<line x1="1630.1" y1="679.7" x2="1623.6" y2="700.7" stroke="#222" stroke-width="1.15" />
<line x1="1649.1" y1="683.4" x2="1642.7" y2="704.5" stroke="#222" stroke-width="1.15" />
<line x1="1668.1" y1="687.0" x2="1661.9" y2="708.2" stroke="#222" stroke-width="1.15" />
<line x1="1687.1" y1="690.6" x2="1681.0" y2="711.9" stroke="#222" stroke-width="1.15" />
<line x1="1706.1" y1="694.2" x2="1700.2" y2="715.6" stroke="#222" stroke-width="1.15" />
<line x1="1725.0" y1="697.9" x2="1719.3" y2="719.4" stroke="#222" stroke-width="1.15" />
<line x1="1744.0" y1="701.5" x2="1738.4" y2="723.1" stroke="#222" stroke-width="1.15" />
<line x1="1763.0" y1="705.1" x2="1757.6" y2="726.8" stroke="#222" stroke-width="1.15" />
<line x1="1782.0" y1="708.7" x2="1776.7" y2="730.5" stroke="#222" stroke-width="1.15" />
<line x1="1801.0" y1="712.4" x2="1795.9" y2="734.3" stroke="#222" stroke-width="1.15" />
<line x1="1820.0" y1="716.0" x2="1815.0" y2="738.0" stroke="#222" stroke-width="1.15" />
<line x1="1150.4" y1="643.6" x2="1141.6" y2="662.3" stroke="#222" stroke-width="1.15" />
<line x1="1169.4" y1="647.2" x2="1160.7" y2="666.0" stroke="#222" stroke-width="1.15" />
<line x1="1188.4" y1="650.8" x2="1179.8" y2="669.7" stroke="#222" stroke-width="1.15" />
<line x1="1207.4" y1="654.4" x2="1198.9" y2="673.3" stroke="#222" stroke-width="1.15" />
<line x1="1226.4" y1="658.0" x2="1218.0" y2="677.0" stroke="#222" stroke-width="1.15" />
<line x1="1245.3" y1="661.7" x2="1237.2" y2="680.7" stroke="#222" stroke-width="1.15" />
<line x1="1264.3" y1="665.3" x2="1256.3" y2="684.4" stroke="#222" stroke-width="1.15" />
<line x1="1283.3" y1="668.9" x2="1275.4" y2="688.0" stroke="#222" stroke-width="1.15" />
<line x1="1302.3" y1="672.5" x2="1294.5" y2="691.7" stroke="#222" stroke-width="1.15" />
<line x1="1321.3" y1="676.1" x2="1313.6" y2="695.4" stroke="#222" stroke-width="1.15" />
<line x1="1340.3" y1="679.7" x2="1332.7" y2="699.1" stroke="#222" stroke-width="1.15" />
<line x1="1359.3" y1="683.3" x2="1351.8" y2="702.7" stroke="#222" stroke-width="1.15" />
<line x1="1378.3" y1="686.9" x2="1370.9" y2="706.4" stroke="#222" stroke-width="1.15" />
<line x1="1397.3" y1="690.5" x2="1390.0" y2="710.1" stroke="#222" stroke-width="1.15" />
<line x1="1416.2" y1="694.2" x2="1409.2" y2="713.8" stroke="#222" stroke-width="1.15" />
<line x1="1435.2" y1="697.8" x2="1428.3" y2="717.5" stroke="#222" stroke-width="1.15" />
<line x1="1454.2" y1="701.4" x2="1447.4" y2="721.1" stroke="#222" stroke-width="1.15" />
<line x1="1473.2" y1="705.0" x2="1466.5" y2="724.8" stroke="#222" stroke-width="1.15" />
<line x1="1492.2" y1="708.6" x2="1485.6" y2="728.5" stroke="#222" stroke-width="1.15" />
<line x1="1511.2" y1="712.2" x2="1504.7" y2="732.2" stroke="#222" stroke-width="1.15" />
<line x1="1530.2" y1="715.8" x2="1523.8" y2="735.8" stroke="#222" stroke-width="1.15" />
<line x1="1549.2" y1="719.4" x2="1542.9" y2="739.5" stroke="#222" stroke-width="1.15" />
<line x1="1568.1" y1="723.1" x2="1562.1" y2="743.2" stroke="#222" stroke-width="1.15" />
<line x1="1587.1" y1="726.7" x2="1581.2" y2="746.9" stroke="#222" stroke-width="1.15" />
<line x1="1606.1" y1="730.3" x2="1600.3" y2="750.6" stroke="#222" stroke-width="1.15" />
<line x1="1625.1" y1="733.9" x2="1619.4" y2="754.2" stroke="#222" stroke-width="1.15" />
<line x1="1644.1" y1="737.5" x2="1638.5" y2="757.9" stroke="#222" stroke-width="1.15" />
<line x1="1663.1" y1="741.1" x2="1657.6" y2="761.6" stroke="#222" stroke-width="1.15" />
<line x1="1682.1" y1="744.7" x2="1676.7" y2="765.3" stroke="#222" stroke-width="1.15" />
<line x1="1701.1" y1="748.3" x2="1695.8" y2="768.9" stroke="#222" stroke-width="1.15" />
<line x1="1720.1" y1="751.9" x2="1714.9" y2="772.6" stroke="#222" stroke-width="1.15" />
<line x1="1739.0" y1="755.6" x2="1734.1" y2="776.3" stroke="#222" stroke-width="1.15" />
<line x1="1758.0" y1="759.2" x2="1753.2" y2="780.0" stroke="#222" stroke-width="1.15" />
<line x1="1777.0" y1="762.8" x2="1772.3" y2="783.6" stroke="#222" stroke-width="1.15" />
<line x1="1796.0" y1="766.4" x2="1791.4" y2="787.3" stroke="#222" stroke-width="1.15" />
<line x1="1815.0" y1="770.0" x2="1810.5" y2="791.0" stroke="#222" stroke-width="1.15" />
<line x1="1141.6" y1="662.3" x2="1810.5" y2="791.0" stroke="#222" stroke-width="1.15" />
<line x1="1085.0" y1="640.0" x2="1141.6" y2="662.3" stroke="#222" stroke-width="0.9" />
<line x1="1085.0" y1="644.5" x2="1810.0" y2="806.0" stroke="#444" stroke-width="0.7" />
<line x1="1852.5" y1="362.0" x2="1812.0" y2="810.0" stroke="#444" stroke-width="0.6" />
<use href="#stree" transform="translate(1225.2,611.4) scale(1.00)"/>
<polygon points="1224.2,605.4 1230.2,606.4 1226.2,624.4 1220.2,623.4" fill="none" stroke="#333" stroke-width="0.6" />
<use href="#stree" transform="translate(1282.4,623.5) scale(1.00)"/>
<polygon points="1281.4,617.5 1287.4,618.5 1283.4,636.5 1277.4,635.5" fill="none" stroke="#333" stroke-width="0.6" />
<use href="#stree" transform="translate(1341.8,634.5) scale(1.00)"/>
<polygon points="1340.8,628.5 1346.8,629.5 1342.8,647.5 1336.8,646.5" fill="none" stroke="#333" stroke-width="0.6" />
<use href="#stree" transform="translate(1401.2,646.6) scale(1.00)"/>
<polygon points="1400.2,640.6 1406.2,641.6 1402.2,659.6 1396.2,658.6" fill="none" stroke="#333" stroke-width="0.6" />
<use href="#stree" transform="translate(1460.6,658.7) scale(1.00)"/>
<polygon points="1459.6,652.7 1465.6,653.7 1461.6,671.7 1455.6,670.7" fill="none" stroke="#333" stroke-width="0.6" />
<use href="#stree" transform="translate(1510.0,669.0) scale(1.00)"/>
<polygon points="1509.0,663.0 1515.0,664.0 1511.0,682.0 1505.0,681.0" fill="none" stroke="#333" stroke-width="0.6" />
<use href="#stree" transform="translate(1580.0,684.0) scale(1.00)"/>
<polygon points="1579.0,678.0 1585.0,679.0 1581.0,697.0 1575.0,696.0" fill="none" stroke="#333" stroke-width="0.6" />
<use href="#stree" transform="translate(1645.0,696.5) scale(1.00)"/>
<polygon points="1644.0,690.5 1650.0,691.5 1646.0,709.5 1640.0,708.5" fill="none" stroke="#333" stroke-width="0.6" />
<use href="#stree" transform="translate(1707.5,711.5) scale(1.00)"/>
<polygon points="1706.5,705.5 1712.5,706.5 1708.5,724.5 1702.5,723.5" fill="none" stroke="#333" stroke-width="0.6" />
<use href="#stree" transform="translate(1770.0,724.0) scale(1.00)"/>
<polygon points="1769.0,718.0 1775.0,719.0 1771.0,737.0 1765.0,736.0" fill="none" stroke="#333" stroke-width="0.6" />
<use href="#stree" transform="translate(1126.2,633.4) scale(1.00)"/>
<use href="#stree" transform="translate(1116.3,654.3) scale(1.00)"/>
<use href="#stree" transform="translate(1199.9,664.2) scale(1.00)"/>
<use href="#stree" transform="translate(1259.3,676.3) scale(1.00)"/>
<use href="#stree" transform="translate(1320.9,688.4) scale(1.00)"/>
<use href="#stree" transform="translate(1380.3,701.6) scale(1.00)"/>
<use href="#stree" transform="translate(1441.9,713.7) scale(1.00)"/>
<use href="#stree" transform="translate(1492.5,724.0) scale(1.00)"/>
<use href="#stree" transform="translate(1567.5,741.5) scale(1.00)"/>
<use href="#stree" transform="translate(1632.5,754.0) scale(1.00)"/>
<use href="#stree" transform="translate(1697.5,764.0) scale(1.00)"/>
<use href="#stree" transform="translate(1762.5,781.5) scale(1.00)"/>
<rect x="572.4" y="60.0" width="4.2" height="106.5" fill="#000"/>
<circle cx="574.5" cy="166.5" r="2.1" fill="#000"/>
<rect x="1226.9" y="60.0" width="4.2" height="199.0" fill="#000"/>
<circle cx="1229.0" cy="259.0" r="2.1" fill="#000"/>
<rect x="669.4" y="430.5" width="4.2" height="427.5" fill="#000"/>
<circle cx="671.5" cy="430.5" r="2.1" fill="#000"/>
<rect x="1001.9" y="475.0" width="4.2" height="383.0" fill="#000"/>
<circle cx="1004.0" cy="475.0" r="2.1" fill="#000"/>
<rect x="1360.1" y="521.5" width="4.2" height="336.5" fill="#000"/>
<circle cx="1362.2" cy="521.5" r="2.1" fill="#000"/>
<text x="50.0" y="85.0" font-size="30.2">GENEL YERLEŞİM BİNALAR</text>
<text x="577.5" y="79.7" font-size="22.2">SPOR SALONU</text>
<text x="1237.5" y="79.7" font-size="22.2">EĞİTİM BİNASI</text>
<text x="677.0" y="854.0" font-size="22.2">YEMEKHANE</text>
<text x="1007.0" y="854.0" font-size="22.2">MEVCUT KANTİN</text>
<text x="1366.5" y="854.0" font-size="22.2">KONFERANS SALONU</text>
</svg>
</body></html>
